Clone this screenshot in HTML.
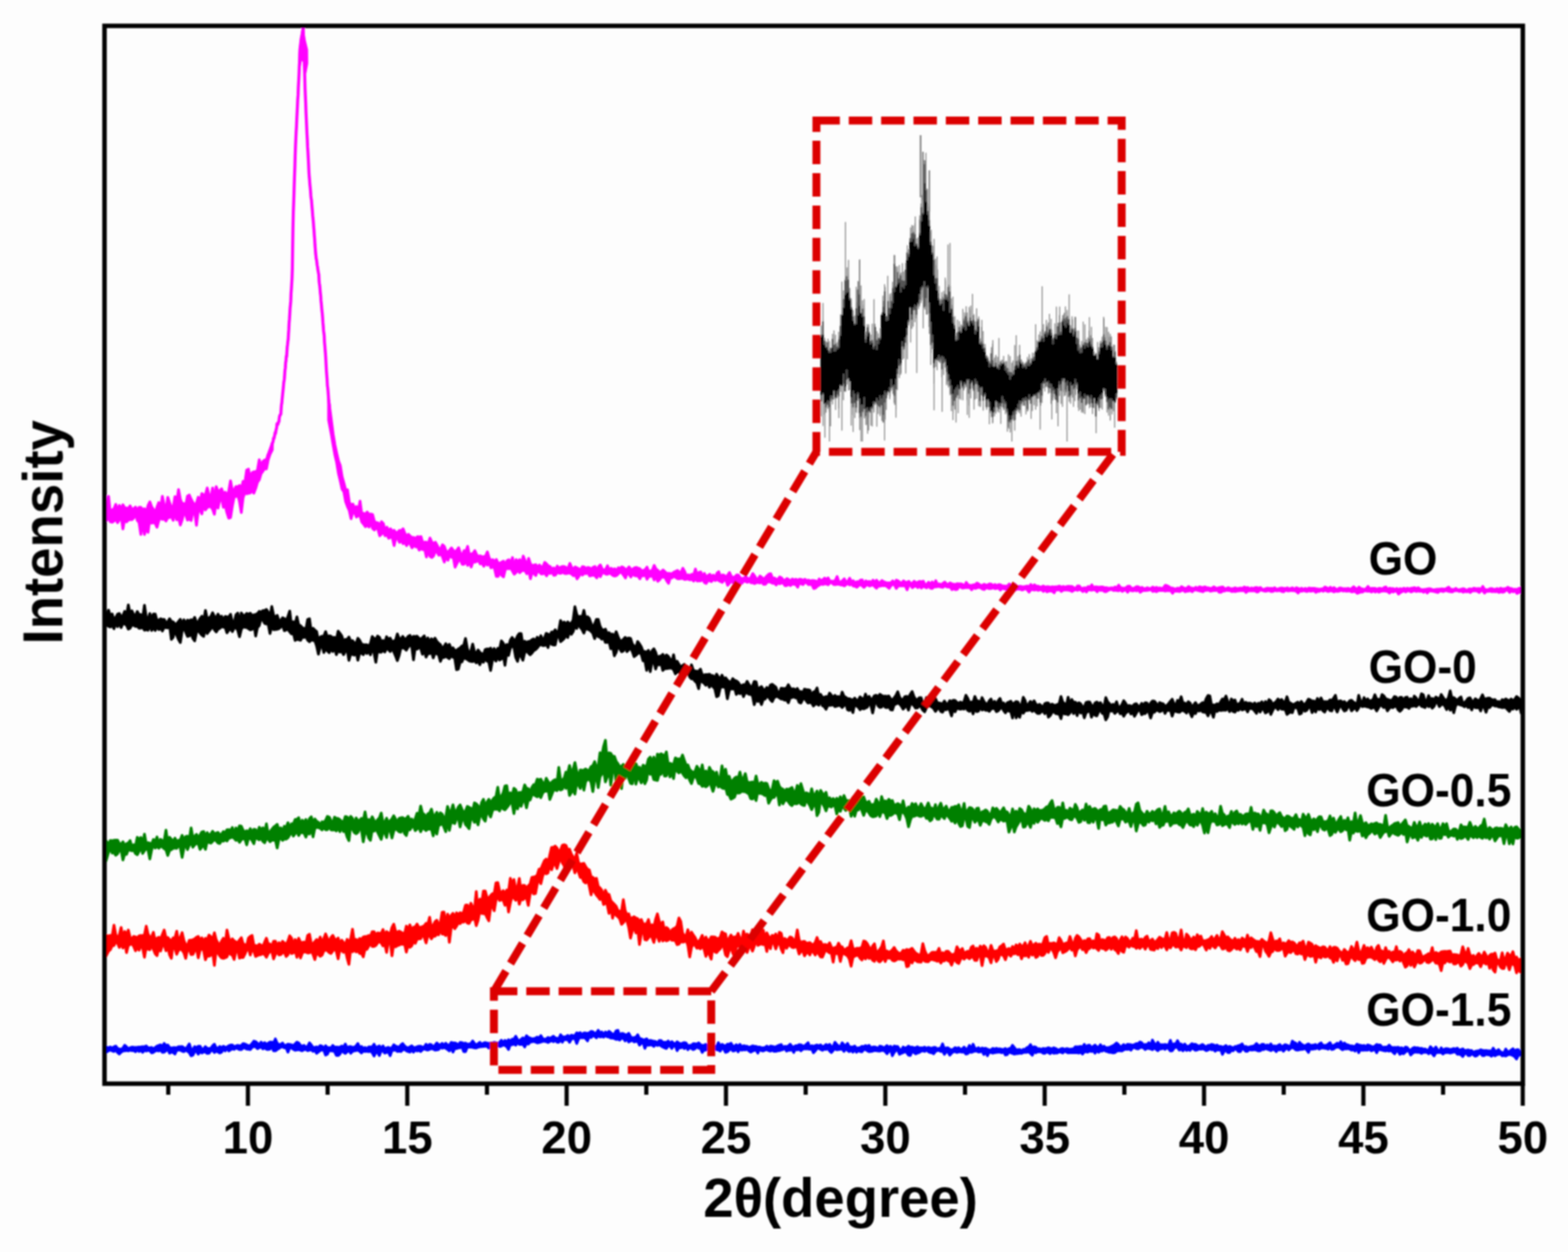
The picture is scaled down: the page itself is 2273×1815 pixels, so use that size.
<!DOCTYPE html>
<html><head><meta charset="utf-8"><title>XRD patterns</title>
<style>html,body{margin:0;padding:0;background:#fdfdfd;}svg{display:block;}</style>
</head><body>
<svg width="2273" height="1815" viewBox="0 0 2273 1815">
<defs><filter id="bl" filterUnits="userSpaceOnUse" x="0" y="0" width="2273" height="1815"><feGaussianBlur stdDeviation="0.80"/></filter></defs>
<rect x="0" y="0" width="2273" height="1815" fill="#fdfdfd"/>
<g filter="url(#bl)">
<g fill="none" stroke-linejoin="round" stroke-linecap="round">
<path d="M153.5,742.9L157.4,719.6L160.0,744.9L162.6,739.1L165.2,737.8L167.8,731.2L170.4,741.5L173.0,732.7L175.6,738.9L178.2,731.8L180.8,736.5L183.4,736.4L186.0,737.3L188.6,733.4L191.2,738.8L193.8,737.4L196.4,735.2L199.0,740.5L201.6,735.5L204.2,735.6L206.8,738.9L209.4,737.5L212.0,744.2L214.6,732.9L217.2,727.5L219.8,734.7L222.4,738.3L225.0,744.1L227.6,735.1L230.2,728.5L232.8,736.6L235.4,719.6L238.0,732.2L240.6,739.2L243.2,721.0L245.8,728.4L248.4,735.1L251.0,736.5L253.6,720.0L256.2,727.8L258.8,709.7L261.4,723.7L264.0,730.2L266.6,729.9L269.2,732.8L271.8,719.2L274.4,717.7L277.0,723.7L279.6,728.5L282.2,732.2L284.8,729.4L287.4,720.8L290.0,727.8L292.6,715.5L295.2,717.8L297.8,717.3L300.4,707.4L303.0,718.2L305.6,721.9L308.2,707.4L310.8,725.7L313.4,705.4L316.0,712.4L318.6,711.3L321.2,708.5L323.8,716.6L326.4,713.6L329.0,718.5L331.6,712.2L334.2,697.1L336.8,711.4L339.4,710.2L342.0,705.5L344.6,705.8L347.2,703.9L349.8,709.3L352.4,697.8L355.0,699.8L357.6,681.6L360.2,680.2L362.8,696.2L365.4,685.3L368.0,684.0L370.6,683.8L373.2,681.9L375.8,666.5L378.4,677.1L381.0,669.1L383.6,667.0L386.2,666.4L388.8,658.7L391.4,651.8L394.7,642.5L394.7,652.0L391.4,658.7L388.8,666.4L386.2,679.7L383.6,679.2L381.0,683.3L378.4,686.7L375.8,695.6L373.2,699.1L370.6,708.1L368.0,714.9L365.4,710.3L362.8,714.6L360.2,715.1L357.6,715.7L355.0,714.4L352.4,721.2L349.8,743.0L347.2,727.1L344.6,717.4L342.0,719.7L339.4,720.3L336.8,733.7L334.2,750.3L331.6,751.2L329.0,743.2L326.4,732.4L323.8,735.3L321.2,721.0L318.6,724.5L316.0,736.5L313.4,726.5L310.8,745.6L308.2,738.1L305.6,734.6L303.0,734.5L300.4,735.8L297.8,739.1L295.2,730.6L292.6,745.0L290.0,739.0L287.4,740.0L284.8,761.4L282.2,741.9L279.6,742.2L277.0,754.5L274.4,752.0L271.8,753.8L269.2,746.1L266.6,743.1L264.0,753.5L261.4,761.1L258.8,750.3L256.2,753.5L253.6,740.7L251.0,754.3L248.4,748.4L245.8,750.2L243.2,750.4L240.6,755.3L238.0,752.0L235.4,753.0L232.8,750.1L230.2,754.8L227.6,764.3L225.0,758.6L222.4,757.5L219.8,758.4L217.2,752.0L214.6,771.7L212.0,764.2L209.4,774.8L206.8,754.9L204.2,774.7L201.6,757.4L199.0,754.3L196.4,743.1L193.8,750.9L191.2,753.2L188.6,753.2L186.0,753.9L183.4,756.5L180.8,751.6L178.2,766.7L175.6,748.2L173.0,753.4L170.4,757.7L167.8,752.3L165.2,755.3L162.6,757.1L160.0,756.3L157.4,750.6L153.5,755.3Z" stroke="#ff00ff" fill="#ff00ff" stroke-width="4.0"/>
<path d="M388.2,663.8L388.7,659.2L389.1,661.6L389.6,661.6L390.0,659.1L390.5,655.6L391.0,654.2L391.4,654.1L391.9,652.5L392.4,651.8L392.8,652.0L393.3,649.9L393.7,648.8L394.2,645.2L394.7,642.5L395.1,642.1L395.6,641.1L396.0,638.8L396.5,635.2L397.0,636.2L397.4,634.9L397.9,632.1L398.4,630.3L398.8,627.1L399.3,628.7L399.7,626.5L400.2,623.1L400.7,621.7L401.1,619.5L401.6,614.3L402.1,616.3L402.5,614.6L403.0,614.9L403.4,613.0L403.9,611.2L404.4,611.3L404.8,606.4L405.3,603.6L405.8,601.7L406.2,601.8L406.7,600.7L407.1,600.3L407.6,592.0L408.1,585.9L408.5,584.9L409.0,578.5L409.4,574.7L409.9,569.7L410.4,564.9L410.8,561.1L411.3,554.9L411.8,551.9L412.2,549.5L412.7,542.6L413.1,536.7L413.6,533.5L414.1,525.0L414.5,524.0L415.0,516.5L415.5,517.2L415.9,510.3L416.4,502.7L416.8,500.0L417.3,495.0L417.8,491.7L418.2,484.1L418.7,477.2L419.1,468.2L419.6,462.5L420.1,454.5L420.5,446.9L421.0,442.0L421.5,436.4L421.9,425.4L422.4,419.0L422.8,412.2L423.3,403.8L423.8,389.2L424.2,360.6L424.7,330.0L425.2,307.5L425.6,296.8L426.1,282.4L426.5,268.5L427.0,253.7L427.5,240.7L427.9,225.0L428.4,211.1L428.9,200.0L429.3,191.1L429.8,183.3L430.2,173.2L430.7,163.2L431.2,153.2L431.6,144.1L432.1,137.9L432.5,126.1L433.0,117.3L433.5,107.2L433.9,95.7L434.4,87.2L434.9,76.4L435.3,72.3L435.8,68.4L436.2,64.4L436.7,58.8L437.2,57.3L437.6,53.7L438.1,48.9L438.6,44.9L439.0,44.2L439.5,40.5L439.9,52.7L440.4,63.3L440.9,77.6L441.3,96.4L441.8,111.9L442.2,128.0L442.7,139.7L443.2,150.8L443.6,163.1L444.1,173.6L444.6,184.6L445.0,194.0L445.5,202.5L445.9,212.9L446.4,220.1L446.9,229.5L447.3,237.4L447.8,248.8L448.3,256.3L448.7,260.3L449.2,267.6L449.6,271.0L450.1,276.4L450.6,283.7L451.0,287.6L451.5,289.9L452.0,296.7L452.4,301.2L452.9,306.9L453.3,312.5L453.8,317.3L454.3,322.7L454.7,328.5L455.2,334.0L455.6,340.6L456.1,346.0L456.6,355.0L457.0,359.9L457.5,367.1L458.0,371.0L458.4,375.3L458.9,376.7L459.3,380.1L459.8,384.8L460.3,386.5L460.7,390.4L461.2,393.0L461.7,396.2L462.1,397.4L462.6,407.8L463.0,411.1L463.5,414.2L464.0,419.9L464.4,425.1L464.9,428.7L465.3,435.7L465.8,440.2L466.3,446.4L466.7,450.5L467.2,454.8L467.7,461.2L468.1,467.4L468.6,473.0L469.0,479.2L469.5,482.7L470.0,486.8L470.4,496.1L470.9,501.2L471.4,508.3L471.8,512.6L472.3,520.7L472.7,528.4L473.2,537.6L473.7,544.2L474.1,549.0L474.6,559.0L475.1,562.0L475.5,566.3L476.0,573.0L476.4,579.0L476.9,584.1L477.4,587.0L477.8,597.0L478.3,600.1L478.7,604.2L479.2,611.7L479.7,617.9L480.1,621.6L480.6,623.3L481.1,624.1L481.5,628.7L482.0,631.1" stroke="#ff00ff" fill="none" stroke-width="4.4"/>
<path d="M476.4,579.0L480.3,608.9L482.9,629.3L485.5,644.8L488.1,657.1L490.7,668.3L493.3,675.0L495.9,691.1L498.5,700.3L501.1,710.4L503.7,710.0L506.3,728.1L508.9,732.2L511.5,730.8L514.1,736.9L516.7,734.3L519.3,740.5L521.9,726.5L524.5,746.3L527.1,744.1L529.7,745.7L532.3,742.3L534.9,746.0L537.5,745.3L540.1,745.9L542.7,755.8L545.3,757.6L547.9,757.9L550.5,763.2L553.1,756.3L555.7,759.1L558.3,769.7L560.9,764.4L563.5,769.1L566.1,766.6L568.7,770.2L571.3,768.9L573.9,772.2L576.5,771.8L579.1,768.9L581.7,769.4L584.3,766.6L586.9,773.2L589.5,777.5L592.1,774.6L594.7,777.3L597.3,779.3L599.9,779.2L602.5,781.1L605.1,778.1L607.7,778.4L610.3,778.1L612.9,787.3L615.5,786.1L618.1,786.1L620.7,788.5L623.3,780.0L625.9,785.9L628.5,787.8L631.1,786.1L633.7,790.5L636.3,795.9L638.9,795.4L641.5,789.8L644.1,792.3L646.7,799.3L649.3,800.6L651.9,797.5L654.5,794.4L657.1,797.9L659.7,800.8L662.3,797.6L664.9,794.0L667.5,802.6L670.1,805.0L672.7,798.3L675.3,799.2L677.9,792.1L680.5,805.5L683.1,802.9L685.7,802.5L688.3,798.3L690.9,804.1L693.5,806.9L696.1,805.7L698.7,807.2L701.3,807.0L703.9,806.0L706.5,800.1L709.1,808.8L711.7,813.1L714.3,811.3L716.9,814.5L719.5,811.1L722.1,816.6L724.7,816.5L727.3,814.8L729.9,813.6L732.5,819.0L735.1,812.8L737.7,811.6L740.3,817.1L742.9,808.3L745.5,823.0L748.1,811.3L750.7,814.4L753.3,811.3L755.9,819.0L758.5,806.1L761.1,812.8L763.7,820.2L766.3,809.5L768.9,817.3L771.5,820.6L774.1,819.1L776.7,818.6L779.3,822.4L781.9,819.2L784.5,821.7L787.1,821.8L789.7,815.3L792.3,817.6L794.9,820.3L797.5,821.3L800.1,825.1L802.7,823.4L805.3,826.1L807.9,820.7L810.5,824.1L813.1,822.1L815.7,821.2L818.3,821.6L820.9,823.1L823.5,824.0L826.1,816.7L828.7,822.7L831.3,824.8L833.9,821.9L836.5,823.3L839.1,824.8L841.7,825.7L844.3,821.6L846.9,822.0L849.5,824.6L852.1,822.6L854.7,823.3L857.3,825.4L859.9,822.3L862.5,821.4L865.1,826.8L867.7,821.7L870.3,819.0L872.9,824.8L875.5,826.9L878.1,825.1L880.7,820.2L883.3,827.5L885.9,823.9L888.5,825.9L891.1,824.6L893.7,827.8L896.3,823.1L898.9,824.1L901.5,821.7L904.1,823.0L906.7,825.9L909.3,825.0L911.9,821.9L914.5,825.5L917.1,825.2L919.7,823.3L922.3,822.6L924.9,823.7L927.5,824.5L930.1,827.6L932.7,827.0L935.3,825.8L937.9,822.2L940.5,828.9L943.1,827.8L945.7,826.5L948.3,819.7L950.9,824.8L953.5,826.8L956.1,829.9L958.7,828.8L961.3,826.3L963.9,828.9L966.5,831.5L969.1,831.2L971.7,831.6L974.3,831.8L976.9,829.5L979.5,828.3L982.1,827.0L984.7,829.4L987.3,829.6L989.9,823.9L992.5,828.5L995.1,835.4L997.7,833.2L1000.3,835.0L1002.9,832.5L1005.5,833.8L1008.1,825.0L1010.7,834.2L1013.3,829.8L1015.9,829.2L1018.5,836.5L1021.1,831.3L1023.7,836.6L1026.3,834.6L1028.9,832.5L1031.5,836.0L1034.1,833.8L1036.7,838.2L1039.3,831.1L1041.9,828.9L1044.5,836.5L1047.1,833.5L1049.7,833.9L1052.3,837.2L1054.9,833.8L1057.5,830.0L1060.1,835.7L1062.7,837.0L1065.3,836.6L1067.9,833.4L1070.5,833.8L1073.1,837.7L1075.7,838.9L1078.3,838.1L1080.9,836.6L1083.5,838.0L1086.1,840.1L1088.7,836.7L1091.3,831.5L1093.9,835.1L1096.5,839.5L1099.1,839.3L1101.7,835.2L1104.3,837.1L1106.9,839.8L1109.5,837.6L1112.1,834.6L1114.7,832.2L1117.3,831.7L1119.9,838.4L1122.5,837.9L1125.1,839.8L1127.7,839.7L1130.3,836.4L1132.9,837.8L1135.5,841.0L1138.1,841.5L1140.7,838.8L1143.3,840.2L1145.9,842.7L1148.5,839.4L1151.1,840.8L1153.7,839.8L1156.3,841.4L1158.9,839.8L1161.5,840.1L1164.1,841.5L1166.7,839.8L1169.3,842.1L1171.9,841.0L1174.5,842.2L1177.1,841.6L1179.7,841.8L1182.3,842.2L1184.9,844.7L1187.5,839.4L1190.1,841.7L1192.7,840.6L1195.3,838.1L1197.9,840.1L1200.5,837.9L1203.1,842.6L1205.7,842.5L1208.3,843.0L1210.9,841.3L1213.5,835.9L1216.1,843.7L1218.7,843.9L1221.3,841.8L1223.9,839.1L1226.5,844.3L1229.1,842.7L1231.7,838.3L1234.3,843.5L1236.9,841.9L1239.5,845.1L1242.1,843.3L1244.7,843.8L1247.3,841.0L1249.9,840.8L1252.5,846.7L1255.1,842.2L1257.7,843.6L1260.3,842.9L1262.9,844.7L1265.5,841.1L1268.1,844.0L1270.7,841.2L1273.3,844.5L1275.9,844.3L1278.5,841.6L1281.1,843.3L1283.7,844.3L1286.3,845.2L1288.9,844.9L1291.5,844.9L1294.1,842.1L1296.7,846.1L1299.3,841.1L1301.9,842.2L1304.5,844.4L1307.1,845.2L1309.7,842.2L1312.3,844.2L1314.9,844.2L1317.5,842.9L1320.1,845.8L1322.7,845.4L1325.3,842.7L1327.9,845.1L1330.5,844.0L1333.1,842.8L1335.7,843.6L1338.3,842.5L1340.9,847.8L1343.5,847.1L1346.1,844.0L1348.7,846.9L1351.3,843.7L1353.9,847.8L1356.5,841.8L1359.1,847.7L1361.7,846.4L1364.3,848.2L1366.9,845.6L1369.5,843.9L1372.1,846.7L1374.7,847.3L1377.3,845.0L1379.9,846.4L1382.5,847.0L1385.1,847.3L1387.7,846.2L1390.3,846.5L1392.9,846.4L1395.5,847.4L1398.1,849.8L1400.7,844.4L1403.3,848.0L1405.9,848.6L1408.5,848.9L1411.1,847.8L1413.7,847.8L1416.3,845.3L1418.9,846.8L1421.5,848.9L1424.1,848.5L1426.7,847.1L1429.3,848.3L1431.9,847.9L1434.5,846.4L1437.1,846.9L1439.7,849.5L1442.3,847.3L1444.9,849.4L1447.5,847.5L1450.1,847.7L1452.7,849.4L1455.3,849.4L1457.9,850.0L1460.5,849.4L1463.1,846.6L1465.7,849.8L1468.3,851.7L1470.9,846.9L1473.5,850.0L1476.1,850.6L1478.7,849.9L1481.3,850.5L1483.9,850.7L1486.5,850.2L1489.1,849.6L1491.7,851.1L1494.3,847.3L1496.9,851.2L1499.5,847.8L1502.1,849.9L1504.7,849.7L1507.3,851.1L1509.9,851.0L1512.5,849.6L1515.1,851.2L1517.7,850.6L1520.3,850.7L1522.9,851.7L1525.5,850.6L1528.1,851.1L1530.7,850.8L1533.3,850.5L1535.9,849.7L1538.5,851.5L1541.1,850.2L1543.7,851.3L1546.3,850.5L1548.9,850.1L1551.5,850.2L1554.1,850.3L1556.7,852.2L1559.3,853.3L1561.9,849.6L1564.5,849.5L1567.1,853.2L1569.7,852.7L1572.3,852.2L1574.9,852.8L1577.5,850.4L1580.1,851.7L1582.7,847.8L1585.3,852.6L1587.9,850.7L1590.5,851.1L1593.1,851.5L1595.7,851.0L1598.3,850.9L1600.9,852.0L1603.5,852.0L1606.1,852.4L1608.7,852.7L1611.3,852.1L1613.9,852.6L1616.5,851.0L1619.1,852.4L1621.7,848.3L1624.3,852.0L1626.9,852.4L1629.5,852.9L1632.1,852.2L1634.7,850.0L1637.3,849.7L1639.9,852.5L1642.5,853.2L1645.1,852.0L1647.7,850.6L1650.3,850.8L1652.9,853.1L1655.5,851.6L1658.1,853.4L1660.7,853.2L1663.3,852.1L1665.9,853.5L1668.5,852.9L1671.1,851.1L1673.7,853.1L1676.3,851.6L1678.9,853.0L1681.5,852.3L1684.1,853.1L1686.7,852.0L1689.3,848.4L1691.9,849.2L1694.5,850.6L1697.1,852.6L1699.7,852.4L1702.3,853.8L1704.9,853.7L1707.5,852.6L1710.1,853.8L1712.7,850.5L1715.3,852.0L1717.9,853.1L1720.5,852.8L1723.1,850.3L1725.7,852.4L1728.3,852.6L1730.9,853.1L1733.5,851.4L1736.1,853.4L1738.7,850.7L1741.3,851.4L1743.9,851.8L1746.5,850.8L1749.1,851.9L1751.7,852.2L1754.3,853.2L1756.9,852.6L1759.5,850.8L1762.1,852.4L1764.7,852.8L1767.3,852.0L1769.9,851.4L1772.5,850.9L1775.1,853.5L1777.7,853.5L1780.3,851.9L1782.9,853.1L1785.5,853.8L1788.1,853.3L1790.7,852.2L1793.3,853.7L1795.9,852.9L1798.5,852.5L1801.1,853.1L1803.7,851.0L1806.3,852.2L1808.9,851.8L1811.5,854.1L1814.1,852.3L1816.7,853.3L1819.3,852.0L1821.9,851.8L1824.5,852.9L1827.1,851.7L1829.7,854.2L1832.3,854.6L1834.9,853.4L1837.5,852.6L1840.1,853.2L1842.7,853.1L1845.3,853.5L1847.9,852.1L1850.5,854.5L1853.1,853.7L1855.7,852.8L1858.3,852.4L1860.9,853.1L1863.5,853.4L1866.1,852.2L1868.7,854.1L1871.3,853.0L1873.9,852.2L1876.5,855.2L1879.1,852.1L1881.7,852.9L1884.3,854.3L1886.9,852.8L1889.5,854.6L1892.1,853.1L1894.7,854.4L1897.3,852.5L1899.9,852.9L1902.5,853.0L1905.1,852.9L1907.7,853.4L1910.3,853.8L1912.9,854.7L1915.5,853.7L1918.1,853.4L1920.7,851.1L1923.3,852.2L1925.9,854.0L1928.5,851.3L1931.1,853.9L1933.7,851.9L1936.3,853.8L1938.9,854.7L1941.5,852.5L1944.1,852.6L1946.7,853.6L1949.3,853.6L1951.9,853.6L1954.5,853.0L1957.1,854.4L1959.7,852.9L1962.3,850.7L1964.9,853.0L1967.5,854.0L1970.1,851.2L1972.7,853.4L1975.3,853.8L1977.9,855.1L1980.5,853.2L1983.1,850.2L1985.7,853.8L1988.3,853.0L1990.9,853.0L1993.5,853.1L1996.1,854.4L1998.7,853.0L2001.3,853.1L2003.9,854.1L2006.5,851.6L2009.1,851.0L2011.7,855.2L2014.3,852.8L2016.9,853.4L2019.5,853.3L2022.1,854.9L2024.7,853.1L2027.3,854.7L2029.9,853.4L2032.5,854.4L2035.1,852.7L2037.7,854.3L2040.3,852.8L2042.9,853.8L2045.5,852.8L2048.1,852.5L2050.7,851.9L2053.3,853.4L2055.9,852.0L2058.5,854.1L2061.1,854.9L2063.7,854.7L2066.3,854.6L2068.9,853.9L2071.5,853.5L2074.1,853.8L2076.7,855.0L2079.3,855.1L2081.9,854.4L2084.5,854.3L2087.1,854.3L2089.7,853.8L2092.3,854.0L2094.9,854.3L2097.5,852.8L2100.1,851.2L2102.7,854.4L2105.3,854.4L2107.9,854.8L2110.5,853.0L2113.1,855.0L2115.7,854.9L2118.3,854.3L2120.9,853.4L2123.5,854.2L2126.1,856.8L2128.7,854.3L2131.3,853.8L2133.9,854.5L2136.5,852.7L2139.1,853.6L2141.7,853.5L2144.3,853.3L2146.9,854.6L2149.5,850.2L2152.1,854.5L2154.7,854.9L2157.3,855.0L2159.9,853.4L2162.5,853.2L2165.1,854.4L2167.7,854.4L2170.3,853.3L2172.9,854.6L2175.5,852.7L2178.1,854.0L2180.7,853.6L2183.3,853.2L2185.9,851.4L2188.5,852.9L2191.1,853.3L2193.7,854.8L2196.3,854.3L2198.9,854.9L2201.5,853.1L2205.2,852.8L2205.2,857.0L2201.5,859.1L2198.9,860.3L2196.3,856.2L2193.7,857.9L2191.1,856.4L2188.5,858.8L2185.9,855.9L2183.3,855.4L2180.7,857.9L2178.1,858.6L2175.5,857.7L2172.9,858.8L2170.3,857.1L2167.7,857.8L2165.1,857.2L2162.5,857.7L2159.9,856.8L2157.3,857.3L2154.7,856.9L2152.1,859.7L2149.5,856.5L2146.9,856.0L2144.3,858.8L2141.7,857.0L2139.1,856.4L2136.5,856.6L2133.9,856.8L2131.3,858.9L2128.7,857.1L2126.1,857.9L2123.5,857.1L2120.9,858.4L2118.3,856.6L2115.7,857.4L2113.1,856.3L2110.5,856.3L2107.9,856.4L2105.3,857.9L2102.7,857.7L2100.1,857.3L2097.5,856.3L2094.9,856.2L2092.3,857.6L2089.7,856.8L2087.1,856.5L2084.5,858.9L2081.9,858.3L2079.3,857.4L2076.7,857.0L2074.1,856.5L2071.5,856.7L2068.9,859.6L2066.3,856.2L2063.7,858.5L2061.1,856.8L2058.5,857.3L2055.9,856.4L2053.3,857.4L2050.7,856.4L2048.1,856.9L2045.5,858.1L2042.9,856.6L2040.3,856.5L2037.7,858.1L2035.1,856.3L2032.5,857.6L2029.9,858.9L2027.3,861.1L2024.7,856.8L2022.1,857.0L2019.5,858.2L2016.9,857.1L2014.3,859.7L2011.7,857.4L2009.1,857.0L2006.5,856.5L2003.9,856.7L2001.3,857.3L1998.7,858.4L1996.1,856.4L1993.5,858.3L1990.9,856.2L1988.3,858.2L1985.7,856.8L1983.1,856.9L1980.5,856.7L1977.9,856.1L1975.3,858.2L1972.7,858.2L1970.1,859.1L1967.5,860.0L1964.9,857.5L1962.3,857.3L1959.7,858.1L1957.1,856.8L1954.5,856.5L1951.9,857.0L1949.3,856.2L1946.7,856.7L1944.1,855.5L1941.5,856.9L1938.9,857.4L1936.3,856.8L1933.7,857.9L1931.1,856.6L1928.5,856.5L1925.9,857.5L1923.3,856.8L1920.7,855.3L1918.1,857.2L1915.5,855.5L1912.9,857.2L1910.3,857.0L1907.7,858.6L1905.1,856.4L1902.5,856.5L1899.9,857.0L1897.3,856.4L1894.7,857.5L1892.1,856.9L1889.5,856.1L1886.9,857.0L1884.3,856.5L1881.7,859.6L1879.1,857.2L1876.5,856.3L1873.9,856.2L1871.3,855.9L1868.7,856.6L1866.1,856.4L1863.5,855.2L1860.9,857.7L1858.3,857.5L1855.7,856.1L1853.1,856.2L1850.5,856.6L1847.9,855.5L1845.3,857.3L1842.7,857.6L1840.1,856.0L1837.5,856.3L1834.9,857.0L1832.3,856.7L1829.7,855.9L1827.1,854.7L1824.5,857.5L1821.9,858.2L1819.3,856.5L1816.7,856.6L1814.1,856.5L1811.5,856.5L1808.9,856.6L1806.3,858.8L1803.7,856.0L1801.1,856.2L1798.5,856.0L1795.9,856.4L1793.3,856.7L1790.7,857.6L1788.1,857.1L1785.5,857.4L1782.9,855.9L1780.3,855.9L1777.7,855.6L1775.1,856.7L1772.5,856.4L1769.9,858.6L1767.3,858.5L1764.7,855.1L1762.1,856.0L1759.5,856.0L1756.9,856.5L1754.3,856.9L1751.7,855.2L1749.1,855.7L1746.5,855.6L1743.9,857.7L1741.3,857.1L1738.7,856.5L1736.1,855.9L1733.5,855.1L1730.9,855.4L1728.3,857.8L1725.7,855.9L1723.1,856.8L1720.5,857.1L1717.9,857.8L1715.3,855.3L1712.7,856.2L1710.1,857.5L1707.5,857.1L1704.9,857.0L1702.3,856.5L1699.7,860.0L1697.1,855.9L1694.5,856.4L1691.9,856.1L1689.3,856.8L1686.7,856.0L1684.1,855.9L1681.5,856.1L1678.9,856.2L1676.3,857.7L1673.7,856.4L1671.1,857.4L1668.5,854.5L1665.9,855.3L1663.3,855.7L1660.7,855.9L1658.1,855.8L1655.5,856.7L1652.9,858.5L1650.3,854.9L1647.7,856.6L1645.1,855.4L1642.5,856.6L1639.9,856.3L1637.3,854.4L1634.7,858.5L1632.1,855.3L1629.5,855.6L1626.9,857.3L1624.3,854.8L1621.7,856.4L1619.1,856.1L1616.5,855.6L1613.9,855.9L1611.3,854.3L1608.7,854.9L1606.1,856.0L1603.5,857.7L1600.9,857.5L1598.3,855.4L1595.7,855.9L1593.1,854.7L1590.5,857.8L1587.9,855.3L1585.3,854.7L1582.7,855.5L1580.1,855.2L1577.5,854.5L1574.9,858.1L1572.3,855.0L1569.7,857.6L1567.1,855.3L1564.5,854.3L1561.9,855.8L1559.3,854.6L1556.7,855.6L1554.1,857.5L1551.5,855.9L1548.9,855.5L1546.3,855.3L1543.7,855.3L1541.1,855.5L1538.5,857.4L1535.9,854.4L1533.3,855.3L1530.7,854.2L1528.1,859.3L1525.5,857.1L1522.9,856.5L1520.3,856.9L1517.7,858.0L1515.1,854.6L1512.5,857.4L1509.9,854.9L1507.3,855.1L1504.7,855.8L1502.1,854.5L1499.5,855.4L1496.9,854.7L1494.3,854.5L1491.7,858.3L1489.1,855.0L1486.5,853.0L1483.9,854.5L1481.3,855.2L1478.7,854.0L1476.1,854.1L1473.5,854.1L1470.9,855.8L1468.3,855.0L1465.7,853.3L1463.1,855.0L1460.5,851.6L1457.9,854.0L1455.3,853.5L1452.7,852.6L1450.1,855.4L1447.5,852.4L1444.9,852.9L1442.3,853.3L1439.7,852.0L1437.1,852.9L1434.5,853.3L1431.9,852.6L1429.3,852.0L1426.7,854.6L1424.1,853.9L1421.5,852.2L1418.9,851.2L1416.3,852.2L1413.7,853.0L1411.1,851.8L1408.5,854.9L1405.9,851.8L1403.3,851.8L1400.7,851.6L1398.1,852.1L1395.5,852.6L1392.9,851.3L1390.3,850.0L1387.7,854.3L1385.1,854.7L1382.5,853.3L1379.9,854.7L1377.3,850.5L1374.7,851.0L1372.1,850.6L1369.5,848.7L1366.9,851.5L1364.3,851.1L1361.7,850.1L1359.1,850.2L1356.5,850.8L1353.9,850.7L1351.3,853.1L1348.7,852.6L1346.1,848.7L1343.5,852.1L1340.9,851.1L1338.3,849.7L1335.7,852.5L1333.1,849.3L1330.5,851.9L1327.9,849.5L1325.3,850.0L1322.7,852.0L1320.1,848.5L1317.5,848.1L1314.9,855.0L1312.3,849.0L1309.7,849.2L1307.1,848.9L1304.5,849.2L1301.9,849.6L1299.3,853.0L1296.7,847.9L1294.1,847.2L1291.5,848.9L1288.9,852.8L1286.3,850.7L1283.7,848.9L1281.1,848.9L1278.5,848.9L1275.9,849.7L1273.3,849.2L1270.7,852.6L1268.1,850.5L1265.5,847.4L1262.9,848.7L1260.3,849.5L1257.7,847.4L1255.1,848.6L1252.5,851.5L1249.9,849.2L1247.3,847.1L1244.7,849.0L1242.1,851.2L1239.5,849.7L1236.9,849.4L1234.3,846.4L1231.7,848.0L1229.1,845.9L1226.5,847.3L1223.9,849.3L1221.3,848.1L1218.7,847.9L1216.1,846.9L1213.5,846.9L1210.9,847.5L1208.3,847.2L1205.7,844.5L1203.1,844.8L1200.5,847.6L1197.9,846.5L1195.3,846.2L1192.7,847.3L1190.1,846.4L1187.5,848.3L1184.9,849.7L1182.3,852.3L1179.7,853.1L1177.1,847.8L1174.5,847.0L1171.9,847.4L1169.3,844.8L1166.7,844.3L1164.1,847.4L1161.5,846.4L1158.9,844.2L1156.3,851.2L1153.7,847.4L1151.1,847.0L1148.5,846.5L1145.9,848.9L1143.3,846.9L1140.7,848.7L1138.1,849.1L1135.5,845.6L1132.9,844.9L1130.3,846.3L1127.7,844.6L1125.1,847.9L1122.5,845.4L1119.9,845.6L1117.3,844.0L1114.7,843.3L1112.1,843.9L1109.5,847.1L1106.9,847.1L1104.3,843.3L1101.7,845.2L1099.1,844.4L1096.5,844.5L1093.9,845.9L1091.3,844.8L1088.7,844.8L1086.1,842.0L1083.5,844.1L1080.9,843.0L1078.3,841.9L1075.7,845.4L1073.1,843.7L1070.5,842.2L1067.9,841.3L1065.3,841.7L1062.7,844.7L1060.1,842.1L1057.5,845.5L1054.9,848.5L1052.3,841.1L1049.7,840.5L1047.1,844.2L1044.5,842.9L1041.9,841.6L1039.3,840.1L1036.7,841.6L1034.1,839.1L1031.5,843.0L1028.9,842.2L1026.3,841.1L1023.7,845.7L1021.1,844.4L1018.5,839.1L1015.9,841.9L1013.3,842.1L1010.7,842.2L1008.1,839.1L1005.5,842.3L1002.9,839.5L1000.3,840.6L997.7,839.3L995.1,839.6L992.5,840.1L989.9,838.4L987.3,838.5L984.7,838.9L982.1,838.9L979.5,837.2L976.9,834.7L974.3,837.7L971.7,837.3L969.1,845.6L966.5,841.9L963.9,836.8L961.3,836.6L958.7,836.7L956.1,840.5L953.5,842.6L950.9,835.7L948.3,840.7L945.7,833.9L943.1,835.5L940.5,835.5L937.9,839.7L935.3,832.4L932.7,834.8L930.1,833.8L927.5,839.0L924.9,835.0L922.3,834.8L919.7,834.2L917.1,830.7L914.5,836.4L911.9,832.7L909.3,829.8L906.7,837.9L904.1,833.9L901.5,830.6L898.9,829.1L896.3,831.8L893.7,834.4L891.1,835.1L888.5,834.1L885.9,831.9L883.3,830.8L880.7,832.4L878.1,832.2L875.5,830.4L872.9,830.6L870.3,835.9L867.7,831.5L865.1,837.8L862.5,834.5L859.9,833.6L857.3,834.3L854.7,834.9L852.1,829.4L849.5,831.6L846.9,831.0L844.3,833.6L841.7,830.7L839.1,835.6L836.5,839.1L833.9,832.8L831.3,834.6L828.7,832.2L826.1,830.7L823.5,830.8L820.9,831.6L818.3,831.3L815.7,828.9L813.1,831.1L810.5,830.9L807.9,829.1L805.3,833.6L802.7,833.9L800.1,828.9L797.5,831.4L794.9,829.8L792.3,834.7L789.7,830.6L787.1,831.8L784.5,831.9L781.9,829.3L779.3,826.9L776.7,834.3L774.1,831.4L771.5,829.4L768.9,838.9L766.3,824.9L763.7,831.8L761.1,827.5L758.5,826.6L755.9,827.8L753.3,830.2L750.7,825.9L748.1,829.8L745.5,832.4L742.9,828.0L740.3,823.3L737.7,824.5L735.1,823.8L732.5,825.6L729.9,836.3L727.3,834.2L724.7,827.9L722.1,835.5L719.5,835.5L716.9,824.3L714.3,821.2L711.7,823.1L709.1,816.0L706.5,819.1L703.9,815.6L701.3,820.8L698.7,816.1L696.1,817.5L693.5,811.8L690.9,814.0L688.3,815.0L685.7,813.9L683.1,822.0L680.5,814.7L677.9,819.6L675.3,812.6L672.7,817.9L670.1,817.9L667.5,811.9L664.9,812.2L662.3,816.8L659.7,822.1L657.1,807.7L654.5,807.9L651.9,804.5L649.3,812.1L646.7,804.5L644.1,814.8L641.5,807.4L638.9,802.5L636.3,804.9L633.7,800.7L631.1,798.5L628.5,805.7L625.9,808.2L623.3,806.5L620.7,797.5L618.1,807.4L615.5,795.5L612.9,796.8L610.3,795.1L607.7,797.4L605.1,792.0L602.5,792.7L599.9,790.1L597.3,794.1L594.7,788.9L592.1,786.1L589.5,790.9L586.9,786.3L584.3,788.1L581.7,783.7L579.1,786.2L576.5,780.4L573.9,779.4L571.3,790.9L568.7,778.9L566.1,778.8L563.5,780.3L560.9,774.9L558.3,776.6L555.7,770.5L553.1,774.0L550.5,776.7L547.9,767.4L545.3,765.0L542.7,768.2L540.1,765.9L537.5,757.3L534.9,763.9L532.3,761.3L529.7,763.4L527.1,759.8L524.5,756.7L521.9,748.0L519.3,747.5L516.7,749.5L514.1,742.7L511.5,742.4L508.9,751.9L506.3,740.0L503.7,734.3L501.1,727.4L498.5,712.8L495.9,709.2L493.3,697.3L490.7,686.6L488.1,670.6L485.5,659.5L482.9,644.8L480.3,629.3L476.4,608.9Z" stroke="#ff00ff" fill="#ff00ff" stroke-width="4.0"/>
<path d="M153.5,893.8L157.4,884.5L160.0,893.5L162.6,890.0L165.2,899.1L167.8,895.2L170.4,890.4L173.0,889.5L175.6,894.4L178.2,892.4L180.8,886.3L183.4,893.5L186.0,877.0L188.6,889.9L191.2,885.5L193.8,891.0L196.4,892.7L199.0,886.6L201.6,891.1L204.2,891.1L206.8,896.7L209.4,877.4L212.0,894.8L214.6,898.2L217.2,889.5L219.8,897.5L222.4,890.3L225.0,890.2L227.6,899.8L230.2,899.0L232.8,897.1L235.4,898.2L238.0,898.1L240.6,902.7L243.2,901.5L245.8,897.0L248.4,900.8L251.0,901.6L253.6,904.9L256.2,904.2L258.8,901.0L261.4,897.8L264.0,905.2L266.6,898.5L269.2,904.5L271.8,899.0L274.4,900.1L277.0,898.4L279.6,900.0L282.2,895.0L284.8,902.6L287.4,902.0L290.0,896.7L292.6,893.4L295.2,900.9L297.8,885.0L300.4,897.5L303.0,895.7L305.6,893.8L308.2,888.4L310.8,893.9L313.4,895.4L316.0,890.3L318.6,895.0L321.2,893.3L323.8,899.8L326.4,893.7L329.0,894.3L331.6,894.5L334.2,890.5L336.8,902.2L339.4,902.9L342.0,891.5L344.6,888.8L347.2,902.8L349.8,888.6L352.4,892.2L355.0,892.2L357.6,889.2L360.2,890.6L362.8,889.0L365.4,892.5L368.0,891.2L370.6,890.9L373.2,889.6L375.8,886.4L378.4,887.6L381.0,885.2L383.6,885.1L386.2,883.5L388.8,887.4L391.4,895.4L394.0,879.3L396.6,891.8L399.2,894.6L401.8,892.2L404.4,900.2L407.0,899.3L409.6,895.6L412.2,896.8L414.8,899.5L417.4,893.9L420.0,886.0L422.6,907.6L425.2,901.3L427.8,904.8L430.4,894.3L433.0,905.9L435.6,907.1L438.2,910.1L440.8,911.0L443.4,912.8L446.0,898.0L448.6,897.0L451.2,915.9L453.8,910.8L456.4,913.5L459.0,915.6L461.6,929.5L464.2,923.6L466.8,922.4L469.4,922.4L472.0,915.7L474.6,923.7L477.2,921.8L479.8,922.4L482.4,924.7L485.0,923.9L487.6,927.6L490.2,915.0L492.8,918.2L495.4,921.8L498.0,930.3L500.6,926.9L503.2,927.3L505.8,923.5L508.4,929.8L511.0,928.7L513.6,932.0L516.2,933.1L518.8,925.3L521.4,928.4L524.0,933.5L526.6,934.6L529.2,934.7L531.8,934.7L534.4,937.5L537.0,932.8L539.6,922.8L542.2,925.6L544.8,926.9L547.4,922.1L550.0,923.8L552.6,930.8L555.2,928.6L557.8,931.5L560.4,923.1L563.0,926.6L565.6,925.2L568.2,930.3L570.8,929.3L573.4,928.2L576.0,919.0L578.6,925.8L581.2,926.2L583.8,922.7L586.4,926.3L589.0,926.2L591.6,922.7L594.2,921.1L596.8,926.1L599.4,922.5L602.0,922.9L604.6,922.3L607.2,925.1L609.8,927.0L612.4,924.4L615.0,921.8L617.6,932.7L620.2,924.8L622.8,931.7L625.4,926.1L628.0,928.5L630.6,925.2L633.2,929.8L635.8,932.5L638.4,934.6L641.0,940.2L643.6,937.5L646.2,933.2L648.8,937.5L651.4,934.0L654.0,940.9L656.6,939.2L659.2,942.9L661.8,943.0L664.4,940.7L667.0,939.4L669.6,936.5L672.2,936.0L674.8,925.6L677.4,940.1L680.0,947.2L682.6,944.0L685.2,933.7L687.8,944.7L690.4,947.7L693.0,942.3L695.6,945.8L698.2,947.5L700.8,949.7L703.4,941.6L706.0,940.8L708.6,941.3L711.2,939.6L713.8,945.3L716.4,940.2L719.0,946.1L721.6,939.9L724.2,941.3L726.8,929.1L729.4,932.2L732.0,938.2L734.6,934.3L737.2,937.5L739.8,928.2L742.4,924.2L745.0,927.9L747.6,927.7L750.2,922.0L752.8,918.4L755.4,918.4L758.0,935.3L760.6,929.5L763.2,931.5L765.8,930.0L768.4,929.8L771.0,927.6L773.6,926.2L776.2,929.6L778.8,923.9L781.4,928.3L784.0,921.6L786.6,927.9L789.2,924.9L791.8,918.2L794.4,919.4L797.0,921.4L799.6,916.3L802.2,916.9L804.8,913.0L807.4,917.4L810.0,914.2L812.6,899.6L815.2,905.2L817.8,901.8L820.4,904.9L823.0,901.7L825.6,904.2L828.2,903.5L830.8,899.1L833.4,879.6L836.0,890.5L838.6,895.5L841.2,893.4L843.8,895.8L846.4,884.9L849.0,897.5L851.6,894.0L854.2,896.4L856.8,903.6L859.4,910.8L862.0,904.6L864.6,898.1L867.2,897.9L869.8,907.7L872.4,912.6L875.0,913.5L877.6,912.2L880.2,918.7L882.8,917.1L885.4,919.9L888.0,919.3L890.6,923.1L893.2,915.8L895.8,922.8L898.4,928.4L901.0,929.4L903.6,927.0L906.2,924.0L908.8,926.2L911.4,924.9L914.0,925.4L916.6,933.5L919.2,936.6L921.8,938.7L924.4,930.1L927.0,933.4L929.6,937.8L932.2,944.7L934.8,944.6L937.4,945.9L940.0,942.9L942.6,950.5L945.2,943.5L947.8,940.5L950.4,945.6L953.0,954.4L955.6,951.5L958.2,951.1L960.8,948.7L963.4,953.7L966.0,949.5L968.6,951.3L971.2,955.4L973.8,961.2L976.4,949.2L979.0,962.7L981.6,958.7L984.2,963.0L986.8,968.0L989.4,964.8L992.0,963.1L994.6,969.8L997.2,967.7L999.8,971.1L1002.4,963.8L1005.0,971.5L1007.6,972.7L1010.2,973.0L1012.8,973.2L1015.4,970.1L1018.0,978.8L1020.6,978.4L1023.2,978.1L1025.8,978.0L1028.4,977.4L1031.0,979.6L1033.6,979.6L1036.2,984.0L1038.8,977.3L1041.4,981.6L1044.0,984.8L1046.6,978.8L1049.2,984.6L1051.8,982.6L1054.4,985.9L1057.0,988.3L1059.6,989.1L1062.2,983.9L1064.8,986.3L1067.4,987.2L1070.0,989.1L1072.6,993.1L1075.2,994.3L1077.8,992.5L1080.4,993.4L1083.0,987.8L1085.6,992.2L1088.2,995.9L1090.8,994.7L1093.4,987.9L1096.0,988.4L1098.6,1000.3L1101.2,997.1L1103.8,995.3L1106.4,999.6L1109.0,1000.5L1111.6,996.7L1114.2,999.9L1116.8,993.1L1119.4,992.0L1122.0,994.1L1124.6,996.0L1127.2,1003.1L1129.8,1005.0L1132.4,997.7L1135.0,998.1L1137.6,998.4L1140.2,997.4L1142.8,992.7L1145.4,997.5L1148.0,999.1L1150.6,998.5L1153.2,1000.6L1155.8,998.1L1158.4,1002.9L1161.0,1002.4L1163.6,1005.0L1166.2,999.1L1168.8,999.7L1171.4,1000.0L1174.0,1000.6L1176.6,1009.8L1179.2,1003.1L1181.8,1002.3L1184.4,997.3L1187.0,1009.4L1189.6,1006.7L1192.2,1010.9L1194.8,1011.0L1197.4,1009.8L1200.0,1011.2L1202.6,1004.8L1205.2,1008.0L1207.8,1011.0L1210.4,1008.2L1213.0,1010.7L1215.6,1009.7L1218.2,1012.8L1220.8,1003.4L1223.4,1009.4L1226.0,1011.0L1228.6,1012.8L1231.2,1012.9L1233.8,1014.0L1236.4,1015.3L1239.0,1012.1L1241.6,1015.2L1244.2,1015.2L1246.8,1010.3L1249.4,1012.5L1252.0,1015.0L1254.6,1006.2L1257.2,1013.8L1259.8,1009.5L1262.4,1014.5L1265.0,1012.8L1267.6,1008.6L1270.2,1007.9L1272.8,1010.4L1275.4,1006.5L1278.0,1008.2L1280.6,1009.6L1283.2,1009.1L1285.8,1009.6L1288.4,1009.0L1291.0,1013.1L1293.6,1014.8L1296.2,1011.7L1298.8,1008.1L1301.4,1002.8L1304.0,1010.6L1306.6,1014.1L1309.2,1014.0L1311.8,1009.9L1314.4,1009.6L1317.0,1011.7L1319.6,1006.5L1322.2,1002.5L1324.8,1009.7L1327.4,1014.1L1330.0,1014.2L1332.6,1011.6L1335.2,1011.4L1337.8,1019.6L1340.4,1017.7L1343.0,1011.2L1345.6,1018.3L1348.2,1012.0L1350.8,1014.0L1353.4,1012.6L1356.0,1012.6L1358.6,1018.5L1361.2,1019.1L1363.8,1019.8L1366.4,1020.8L1369.0,1016.3L1371.6,1020.3L1374.2,1020.7L1376.8,1015.8L1379.4,1017.2L1382.0,1015.2L1384.6,1015.6L1387.2,1018.4L1389.8,1019.4L1392.4,1017.8L1395.0,1020.2L1397.6,1016.6L1400.2,1008.0L1402.8,1012.2L1405.4,1018.8L1408.0,1017.8L1410.6,1018.3L1413.2,1009.7L1415.8,1016.0L1418.4,1016.2L1421.0,1020.1L1423.6,1011.4L1426.2,1016.6L1428.8,1020.2L1431.4,1020.9L1434.0,1016.2L1436.6,1013.4L1439.2,1021.4L1441.8,1016.8L1444.4,1022.0L1447.0,1015.9L1449.6,1012.5L1452.2,1020.4L1454.8,1019.1L1457.4,1024.0L1460.0,1018.8L1462.6,1017.9L1465.2,1016.5L1467.8,1021.2L1470.4,1019.2L1473.0,1017.1L1475.6,1017.8L1478.2,1023.4L1480.8,1022.0L1483.4,1010.9L1486.0,1015.8L1488.6,1025.8L1491.2,1020.3L1493.8,1016.8L1496.4,1020.8L1499.0,1016.0L1501.6,1020.9L1504.2,1022.9L1506.8,1021.0L1509.4,1023.0L1512.0,1026.6L1514.6,1020.1L1517.2,1019.0L1519.8,1019.3L1522.4,1023.4L1525.0,1020.7L1527.6,1022.3L1530.2,1022.6L1532.8,1021.4L1535.4,1020.3L1538.0,1009.8L1540.6,1018.2L1543.2,1020.0L1545.8,1024.0L1548.4,1010.7L1551.0,1023.6L1553.6,1014.1L1556.2,1018.2L1558.8,1017.9L1561.4,1020.9L1564.0,1018.7L1566.6,1020.5L1569.2,1024.8L1571.8,1024.8L1574.4,1018.4L1577.0,1017.6L1579.6,1017.8L1582.2,1022.5L1584.8,1024.9L1587.4,1019.3L1590.0,1017.7L1592.6,1020.3L1595.2,1018.7L1597.8,1022.9L1600.4,1024.8L1603.0,1011.3L1605.6,1017.5L1608.2,1020.0L1610.8,1023.5L1613.4,1021.0L1616.0,1023.0L1618.6,1017.3L1621.2,1025.7L1623.8,1025.0L1626.4,1021.4L1629.0,1015.9L1631.6,1019.5L1634.2,1024.1L1636.8,1022.7L1639.4,1023.7L1642.0,1023.6L1644.6,1021.0L1647.2,1020.2L1649.8,1023.7L1652.4,1023.9L1655.0,1019.7L1657.6,1022.5L1660.2,1018.7L1662.8,1019.2L1665.4,1025.6L1668.0,1019.2L1670.6,1016.2L1673.2,1016.4L1675.8,1019.4L1678.4,1024.8L1681.0,1018.6L1683.6,1019.6L1686.2,1020.4L1688.8,1024.0L1691.4,1022.8L1694.0,1020.0L1696.6,1016.7L1699.2,1013.7L1701.8,1020.2L1704.4,1023.0L1707.0,1015.3L1709.6,1017.7L1712.2,1010.1L1714.8,1019.5L1717.4,1019.2L1720.0,1021.8L1722.6,1017.3L1725.2,1019.4L1727.8,1025.3L1730.4,1022.1L1733.0,1018.5L1735.6,1023.3L1738.2,1022.3L1740.8,1020.6L1743.4,1018.5L1746.0,1020.1L1748.6,1012.7L1751.2,1008.3L1753.8,1009.0L1756.4,1023.1L1759.0,1021.9L1761.6,1022.4L1764.2,1020.2L1766.8,1022.0L1769.4,1017.5L1772.0,1013.4L1774.6,1014.4L1777.2,1009.0L1779.8,1017.2L1782.4,1022.2L1785.0,1013.3L1787.6,1016.0L1790.2,1014.8L1792.8,1022.1L1795.4,1020.4L1798.0,1018.9L1800.6,1013.7L1803.2,1022.4L1805.8,1018.1L1808.4,1019.9L1811.0,1019.3L1813.6,1019.8L1816.2,1021.9L1818.8,1019.0L1821.4,1022.8L1824.0,1019.4L1826.6,1020.2L1829.2,1017.3L1831.8,1022.5L1834.4,1017.0L1837.0,1020.9L1839.6,1014.2L1842.2,1016.4L1844.8,1021.1L1847.4,1019.2L1850.0,1017.2L1852.6,1013.4L1855.2,1016.2L1857.8,1014.1L1860.4,1017.7L1863.0,1017.9L1865.6,1010.1L1868.2,1018.1L1870.8,1019.3L1873.4,1021.0L1876.0,1021.2L1878.6,1019.5L1881.2,1017.8L1883.8,1020.5L1886.4,1016.8L1889.0,1020.6L1891.6,1021.1L1894.2,1017.9L1896.8,1013.6L1899.4,1014.7L1902.0,1016.6L1904.6,1016.3L1907.2,1019.5L1909.8,1012.5L1912.4,1017.9L1915.0,1011.8L1917.6,1017.3L1920.2,1017.2L1922.8,1017.2L1925.4,1017.4L1928.0,1014.6L1930.6,1015.6L1933.2,1012.2L1935.8,1008.0L1938.4,1019.1L1941.0,1016.4L1943.6,1016.1L1946.2,1018.2L1948.8,1017.0L1951.4,1020.1L1954.0,1019.1L1956.6,1016.0L1959.2,1015.2L1961.8,1017.8L1964.4,1019.3L1967.0,1022.9L1969.6,1008.0L1972.2,1016.4L1974.8,1019.1L1977.4,1011.4L1980.0,1016.4L1982.6,1013.2L1985.2,1016.2L1987.8,1015.6L1990.4,1014.4L1993.0,1007.2L1995.6,1013.4L1998.2,1013.7L2000.8,1015.3L2003.4,1007.0L2006.0,1008.8L2008.6,1012.8L2011.2,1013.9L2013.8,1014.7L2016.4,1015.9L2019.0,1013.7L2021.6,1009.7L2024.2,1010.9L2026.8,1015.9L2029.4,1011.0L2032.0,1011.1L2034.6,1015.9L2037.2,1011.2L2039.8,1010.6L2042.4,1015.7L2045.0,1012.8L2047.6,1018.4L2050.2,1009.1L2052.8,1011.6L2055.4,1016.3L2058.0,1014.2L2060.6,1005.8L2063.2,1007.2L2065.8,1016.8L2068.4,1016.2L2071.0,1008.5L2073.6,1014.1L2076.2,1012.5L2078.8,1015.2L2081.4,1010.6L2084.0,1012.0L2086.6,1013.9L2089.2,1006.9L2091.8,1011.0L2094.4,1014.7L2097.0,1015.3L2099.6,1011.8L2102.2,1001.5L2104.8,1012.6L2107.4,1011.2L2110.0,1013.5L2112.6,1015.8L2115.2,1012.3L2117.8,1010.3L2120.4,1019.3L2123.0,1018.4L2125.6,1016.1L2128.2,1012.4L2130.8,1011.6L2133.4,1016.1L2136.0,1017.1L2138.6,1013.0L2141.2,1014.8L2143.8,1016.3L2146.4,1012.6L2149.0,1007.3L2151.6,1013.5L2154.2,1012.9L2156.8,1012.2L2159.4,1012.0L2162.0,1014.1L2164.6,1014.8L2167.2,1014.3L2169.8,1018.0L2172.4,1016.9L2175.0,1018.6L2177.6,1014.4L2180.2,1015.4L2182.8,1013.3L2185.4,1014.9L2188.0,1016.1L2190.6,1013.4L2193.2,1016.2L2195.8,1013.8L2198.4,1009.8L2201.0,1011.7L2203.6,1014.6L2205.2,1026.8L2205.2,1033.8L2203.6,1026.8L2201.0,1025.9L2198.4,1028.2L2195.8,1023.9L2193.2,1027.9L2190.6,1027.0L2188.0,1031.4L2185.4,1028.7L2182.8,1025.4L2180.2,1025.6L2177.6,1025.8L2175.0,1025.1L2172.4,1024.7L2169.8,1023.2L2167.2,1023.5L2164.6,1022.1L2162.0,1022.4L2159.4,1025.8L2156.8,1024.7L2154.2,1032.5L2151.6,1025.6L2149.0,1022.5L2146.4,1030.7L2143.8,1024.9L2141.2,1026.1L2138.6,1025.7L2136.0,1022.6L2133.4,1029.2L2130.8,1024.2L2128.2,1025.7L2125.6,1022.3L2123.0,1024.6L2120.4,1022.8L2117.8,1022.0L2115.2,1021.4L2112.6,1019.8L2110.0,1023.4L2107.4,1033.2L2104.8,1024.4L2102.2,1029.5L2099.6,1023.3L2097.0,1028.6L2094.4,1023.4L2091.8,1020.4L2089.2,1021.7L2086.6,1024.4L2084.0,1018.7L2081.4,1017.9L2078.8,1023.9L2076.2,1026.6L2073.6,1022.3L2071.0,1024.5L2068.4,1020.1L2065.8,1025.7L2063.2,1024.7L2060.6,1023.9L2058.0,1019.8L2055.4,1021.9L2052.8,1024.2L2050.2,1022.8L2047.6,1023.8L2045.0,1023.5L2042.4,1027.0L2039.8,1024.7L2037.2,1024.9L2034.6,1024.2L2032.0,1028.6L2029.4,1031.2L2026.8,1028.9L2024.2,1023.4L2021.6,1024.3L2019.0,1025.9L2016.4,1024.6L2013.8,1027.1L2011.2,1030.4L2008.6,1023.9L2006.0,1025.7L2003.4,1023.2L2000.8,1021.8L1998.2,1026.3L1995.6,1030.6L1993.0,1025.9L1990.4,1025.6L1987.8,1026.9L1985.2,1025.4L1982.6,1024.9L1980.0,1024.1L1977.4,1023.6L1974.8,1024.4L1972.2,1020.8L1969.6,1026.2L1967.0,1030.2L1964.4,1024.5L1961.8,1028.1L1959.2,1030.4L1956.6,1023.9L1954.0,1024.4L1951.4,1029.7L1948.8,1030.7L1946.2,1027.0L1943.6,1021.5L1941.0,1026.3L1938.4,1032.1L1935.8,1026.6L1933.2,1022.9L1930.6,1030.6L1928.0,1030.0L1925.4,1026.3L1922.8,1027.3L1920.2,1032.3L1917.6,1030.1L1915.0,1026.3L1912.4,1028.7L1909.8,1025.4L1907.2,1032.1L1904.6,1027.7L1902.0,1033.0L1899.4,1024.1L1896.8,1025.7L1894.2,1029.7L1891.6,1031.0L1889.0,1025.1L1886.4,1034.1L1883.8,1035.2L1881.2,1026.8L1878.6,1025.8L1876.0,1024.8L1873.4,1033.1L1870.8,1032.2L1868.2,1033.6L1865.6,1035.6L1863.0,1028.2L1860.4,1028.3L1857.8,1028.0L1855.2,1024.5L1852.6,1028.9L1850.0,1025.3L1847.4,1025.6L1844.8,1030.0L1842.2,1035.6L1839.6,1026.9L1837.0,1032.2L1834.4,1033.5L1831.8,1028.3L1829.2,1027.4L1826.6,1032.2L1824.0,1025.4L1821.4,1034.1L1818.8,1030.6L1816.2,1027.7L1813.6,1027.0L1811.0,1026.9L1808.4,1032.0L1805.8,1026.5L1803.2,1028.4L1800.6,1029.2L1798.0,1025.7L1795.4,1029.8L1792.8,1028.7L1790.2,1032.3L1787.6,1031.4L1785.0,1028.1L1782.4,1031.7L1779.8,1024.9L1777.2,1029.5L1774.6,1029.2L1772.0,1029.5L1769.4,1029.9L1766.8,1029.4L1764.2,1031.4L1761.6,1028.3L1759.0,1039.8L1756.4,1032.4L1753.8,1031.4L1751.2,1037.8L1748.6,1032.7L1746.0,1032.4L1743.4,1032.0L1740.8,1029.2L1738.2,1030.9L1735.6,1028.4L1733.0,1034.4L1730.4,1032.5L1727.8,1039.1L1725.2,1033.4L1722.6,1028.0L1720.0,1033.6L1717.4,1031.2L1714.8,1029.9L1712.2,1030.4L1709.6,1032.6L1707.0,1032.1L1704.4,1031.1L1701.8,1030.3L1699.2,1038.2L1696.6,1028.9L1694.0,1030.0L1691.4,1029.4L1688.8,1034.2L1686.2,1026.7L1683.6,1030.6L1681.0,1031.7L1678.4,1029.5L1675.8,1029.9L1673.2,1032.5L1670.6,1032.6L1668.0,1040.9L1665.4,1032.1L1662.8,1030.9L1660.2,1034.4L1657.6,1034.2L1655.0,1036.0L1652.4,1029.3L1649.8,1029.6L1647.2,1033.7L1644.6,1038.4L1642.0,1032.5L1639.4,1035.0L1636.8,1029.7L1634.2,1031.9L1631.6,1033.8L1629.0,1038.3L1626.4,1033.2L1623.8,1034.7L1621.2,1028.9L1618.6,1031.8L1616.0,1034.2L1613.4,1029.5L1610.8,1030.9L1608.2,1028.2L1605.6,1039.2L1603.0,1043.6L1600.4,1034.8L1597.8,1034.0L1595.2,1028.4L1592.6,1031.8L1590.0,1037.8L1587.4,1036.8L1584.8,1032.9L1582.2,1039.7L1579.6,1028.4L1577.0,1031.7L1574.4,1033.1L1571.8,1040.6L1569.2,1030.3L1566.6,1033.6L1564.0,1028.1L1561.4,1037.4L1558.8,1028.9L1556.2,1034.5L1553.6,1028.1L1551.0,1033.5L1548.4,1036.1L1545.8,1034.8L1543.2,1035.0L1540.6,1029.2L1538.0,1041.9L1535.4,1034.9L1532.8,1034.9L1530.2,1034.2L1527.6,1030.9L1525.0,1033.0L1522.4,1037.2L1519.8,1039.6L1517.2,1027.5L1514.6,1034.6L1512.0,1030.7L1509.4,1031.8L1506.8,1034.2L1504.2,1034.2L1501.6,1031.9L1499.0,1028.7L1496.4,1031.4L1493.8,1028.9L1491.2,1029.5L1488.6,1030.0L1486.0,1030.0L1483.4,1033.8L1480.8,1028.7L1478.2,1039.9L1475.6,1035.0L1473.0,1040.7L1470.4,1025.5L1467.8,1040.9L1465.2,1031.1L1462.6,1030.9L1460.0,1029.3L1457.4,1033.3L1454.8,1029.8L1452.2,1024.7L1449.6,1027.5L1447.0,1030.4L1444.4,1031.6L1441.8,1026.8L1439.2,1027.0L1436.6,1027.7L1434.0,1031.2L1431.4,1029.3L1428.8,1029.7L1426.2,1027.9L1423.6,1029.2L1421.0,1024.3L1418.4,1030.8L1415.8,1031.7L1413.2,1026.5L1410.6,1035.0L1408.0,1027.0L1405.4,1031.1L1402.8,1029.8L1400.2,1025.0L1397.6,1027.9L1395.0,1027.2L1392.4,1028.0L1389.8,1027.6L1387.2,1025.6L1384.6,1031.8L1382.0,1026.5L1379.4,1037.9L1376.8,1030.1L1374.2,1026.2L1371.6,1028.9L1369.0,1027.7L1366.4,1032.4L1363.8,1031.3L1361.2,1026.6L1358.6,1027.7L1356.0,1031.2L1353.4,1026.9L1350.8,1024.9L1348.2,1023.3L1345.6,1023.6L1343.0,1025.9L1340.4,1031.8L1337.8,1029.5L1335.2,1025.0L1332.6,1023.0L1330.0,1026.1L1327.4,1026.6L1324.8,1022.8L1322.2,1020.5L1319.6,1021.0L1317.0,1029.5L1314.4,1022.9L1311.8,1024.9L1309.2,1027.9L1306.6,1023.5L1304.0,1020.4L1301.4,1019.0L1298.8,1020.7L1296.2,1021.6L1293.6,1029.3L1291.0,1028.8L1288.4,1024.1L1285.8,1025.7L1283.2,1025.3L1280.6,1020.7L1278.0,1025.1L1275.4,1025.5L1272.8,1023.0L1270.2,1015.1L1267.6,1021.5L1265.0,1033.5L1262.4,1022.0L1259.8,1020.6L1257.2,1025.1L1254.6,1026.5L1252.0,1027.6L1249.4,1026.4L1246.8,1028.8L1244.2,1025.0L1241.6,1023.5L1239.0,1019.6L1236.4,1033.0L1233.8,1025.9L1231.2,1029.8L1228.6,1028.8L1226.0,1019.2L1223.4,1022.6L1220.8,1025.7L1218.2,1022.8L1215.6,1022.7L1213.0,1023.5L1210.4,1024.3L1207.8,1021.4L1205.2,1022.3L1202.6,1022.6L1200.0,1022.4L1197.4,1028.1L1194.8,1024.3L1192.2,1023.0L1189.6,1014.7L1187.0,1022.3L1184.4,1020.6L1181.8,1020.6L1179.2,1023.5L1176.6,1019.1L1174.0,1018.3L1171.4,1019.1L1168.8,1016.0L1166.2,1012.1L1163.6,1013.9L1161.0,1019.1L1158.4,1018.1L1155.8,1011.5L1153.2,1011.7L1150.6,1010.0L1148.0,1011.3L1145.4,1011.4L1142.8,1018.8L1140.2,1014.4L1137.6,1014.9L1135.0,1013.4L1132.4,1013.2L1129.8,1011.6L1127.2,1009.4L1124.6,1009.8L1122.0,1011.7L1119.4,1017.0L1116.8,1014.3L1114.2,1010.7L1111.6,1009.5L1109.0,1013.5L1106.4,1013.8L1103.8,1021.4L1101.2,1014.5L1098.6,1016.8L1096.0,1012.4L1093.4,1021.5L1090.8,1008.3L1088.2,1006.5L1085.6,1006.4L1083.0,1004.6L1080.4,1004.0L1077.8,1009.8L1075.2,1002.0L1072.6,1005.6L1070.0,1003.9L1067.4,1006.7L1064.8,997.1L1062.2,999.0L1059.6,997.5L1057.0,1001.4L1054.4,1013.0L1051.8,996.9L1049.2,996.1L1046.6,995.6L1044.0,997.3L1041.4,1008.6L1038.8,1009.9L1036.2,998.3L1033.6,995.7L1031.0,991.7L1028.4,996.3L1025.8,989.8L1023.2,993.4L1020.6,990.3L1018.0,988.6L1015.4,983.7L1012.8,998.4L1010.2,989.9L1007.6,987.6L1005.0,984.3L1002.4,984.0L999.8,981.3L997.2,974.9L994.6,977.4L992.0,976.3L989.4,977.6L986.8,978.4L984.2,972.6L981.6,974.5L979.0,976.8L976.4,970.8L973.8,968.5L971.2,968.4L968.6,968.8L966.0,969.3L963.4,969.3L960.8,971.8L958.2,960.8L955.6,963.9L953.0,962.2L950.4,969.9L947.8,958.8L945.2,959.2L942.6,973.7L940.0,960.3L937.4,971.8L934.8,957.2L932.2,958.0L929.6,948.4L927.0,946.1L924.4,947.6L921.8,949.9L919.2,951.8L916.6,944.3L914.0,939.1L911.4,941.8L908.8,944.6L906.2,936.3L903.6,943.7L901.0,944.8L898.4,940.5L895.8,935.5L893.2,945.7L890.6,950.7L888.0,936.3L885.4,940.5L882.8,929.6L880.2,931.2L877.6,931.3L875.0,924.1L872.4,926.6L869.8,923.6L867.2,923.0L864.6,917.6L862.0,925.8L859.4,918.0L856.8,915.1L854.2,913.0L851.6,912.3L849.0,910.0L846.4,917.8L843.8,912.6L841.2,909.4L838.6,903.1L836.0,911.0L833.4,906.6L830.8,915.7L828.2,919.5L825.6,914.8L823.0,924.1L820.4,919.9L817.8,925.6L815.2,928.2L812.6,930.1L810.0,921.0L807.4,922.5L804.8,934.9L802.2,934.9L799.6,934.0L797.0,928.1L794.4,938.7L791.8,933.1L789.2,935.8L786.6,935.7L784.0,934.3L781.4,935.9L778.8,939.3L776.2,941.8L773.6,943.3L771.0,946.8L768.4,949.2L765.8,946.3L763.2,943.8L760.6,946.1L758.0,957.1L755.4,951.5L752.8,947.6L750.2,958.8L747.6,953.0L745.0,938.5L742.4,936.5L739.8,939.6L737.2,950.1L734.6,946.2L732.0,964.5L729.4,948.1L726.8,955.3L724.2,956.9L721.6,951.1L719.0,958.3L716.4,954.3L713.8,957.1L711.2,972.0L708.6,959.5L706.0,958.4L703.4,953.8L700.8,960.0L698.2,956.3L695.6,963.7L693.0,958.4L690.4,960.9L687.8,957.6L685.2,959.0L682.6,958.7L680.0,958.0L677.4,956.0L674.8,954.8L672.2,953.3L669.6,959.5L667.0,960.0L664.4,970.0L661.8,970.7L659.2,953.9L656.6,952.7L654.0,950.2L651.4,954.9L648.8,953.3L646.2,951.2L643.6,953.3L641.0,952.5L638.4,958.8L635.8,949.2L633.2,947.8L630.6,946.5L628.0,953.7L625.4,943.7L622.8,947.6L620.2,947.5L617.6,952.5L615.0,941.9L612.4,948.5L609.8,939.7L607.2,938.9L604.6,941.0L602.0,938.4L599.4,956.6L596.8,936.4L594.2,935.3L591.6,938.1L589.0,942.6L586.4,939.9L583.8,939.3L581.2,938.7L578.6,950.1L576.0,957.7L573.4,950.9L570.8,944.8L568.2,939.3L565.6,944.5L563.0,941.4L560.4,939.8L557.8,945.2L555.2,942.5L552.6,945.5L550.0,945.2L547.4,942.8L544.8,960.1L542.2,946.3L539.6,940.1L537.0,949.3L534.4,943.6L531.8,947.3L529.2,943.7L526.6,949.0L524.0,947.0L521.4,946.6L518.8,957.0L516.2,944.0L513.6,949.6L511.0,948.6L508.4,948.0L505.8,957.3L503.2,941.2L500.6,944.1L498.0,949.0L495.4,943.7L492.8,945.4L490.2,942.3L487.6,949.0L485.0,938.3L482.4,944.5L479.8,940.0L477.2,946.2L474.6,943.6L472.0,940.7L469.4,945.9L466.8,935.1L464.2,938.1L461.6,948.2L459.0,936.4L456.4,928.6L453.8,928.4L451.2,927.5L448.6,930.3L446.0,928.0L443.4,922.3L440.8,924.2L438.2,923.3L435.6,928.2L433.0,927.3L430.4,926.6L427.8,928.4L425.2,917.3L422.6,919.0L420.0,915.9L417.4,912.2L414.8,913.2L412.2,914.3L409.6,905.8L407.0,909.0L404.4,911.4L401.8,912.2L399.2,912.6L396.6,912.7L394.0,906.0L391.4,918.4L388.8,904.7L386.2,904.6L383.6,903.6L381.0,898.5L378.4,896.8L375.8,906.8L373.2,909.7L370.6,922.0L368.0,903.3L365.4,912.3L362.8,913.0L360.2,911.3L357.6,909.3L355.0,909.5L352.4,908.4L349.8,912.3L347.2,923.0L344.6,913.4L342.0,910.0L339.4,910.6L336.8,915.6L334.2,911.2L331.6,913.6L329.0,917.4L326.4,909.1L323.8,909.2L321.2,908.3L318.6,910.9L316.0,912.1L313.4,916.1L310.8,912.9L308.2,907.7L305.6,911.8L303.0,914.9L300.4,918.3L297.8,909.7L295.2,922.5L292.6,920.7L290.0,917.6L287.4,914.2L284.8,916.6L282.2,929.0L279.6,925.4L277.0,917.8L274.4,921.8L271.8,922.6L269.2,916.4L266.6,909.8L264.0,914.8L261.4,931.5L258.8,926.9L256.2,920.9L253.6,911.9L251.0,923.9L248.4,926.8L245.8,906.5L243.2,910.2L240.6,909.8L238.0,909.4L235.4,914.6L232.8,910.6L230.2,912.6L227.6,907.9L225.0,914.0L222.4,910.0L219.8,913.9L217.2,904.8L214.6,913.6L212.0,912.9L209.4,913.6L206.8,909.2L204.2,910.4L201.6,910.8L199.0,907.7L196.4,908.1L193.8,906.6L191.2,905.5L188.6,910.7L186.0,911.9L183.4,906.1L180.8,904.8L178.2,903.5L175.6,909.8L173.0,903.4L170.4,908.4L167.8,902.1L165.2,911.4L162.6,906.2L160.0,908.9L157.4,908.0L153.5,905.2Z" stroke="#000000" fill="#000000" stroke-width="4.0"/>
<path d="M153.5,1218.5L157.4,1224.3L160.0,1218.4L162.6,1218.9L165.2,1218.3L167.8,1218.0L170.4,1218.0L173.0,1222.9L175.6,1224.0L178.2,1220.4L180.8,1226.3L183.4,1223.1L186.0,1222.1L188.6,1218.7L191.2,1227.5L193.8,1224.6L196.4,1226.9L199.0,1213.9L201.6,1216.8L204.2,1214.1L206.8,1223.9L209.4,1209.2L212.0,1223.7L214.6,1221.6L217.2,1222.5L219.8,1223.7L222.4,1217.0L225.0,1220.5L227.6,1213.4L230.2,1223.8L232.8,1216.8L235.4,1218.8L238.0,1218.9L240.6,1203.5L243.2,1221.7L245.8,1213.8L248.4,1216.8L251.0,1219.8L253.6,1215.1L256.2,1219.8L258.8,1218.3L261.4,1217.4L264.0,1211.0L266.6,1218.8L269.2,1212.7L271.8,1212.3L274.4,1217.2L277.0,1200.2L279.6,1214.5L282.2,1212.3L284.8,1209.5L287.4,1214.4L290.0,1210.6L292.6,1206.1L295.2,1205.5L297.8,1213.0L300.4,1207.1L303.0,1211.0L305.6,1209.1L308.2,1205.2L310.8,1209.0L313.4,1207.7L316.0,1206.8L318.6,1210.2L321.2,1209.4L323.8,1205.5L326.4,1207.8L329.0,1203.0L331.6,1202.7L334.2,1204.3L336.8,1199.7L339.4,1209.0L342.0,1200.4L344.6,1204.1L347.2,1197.3L349.8,1197.8L352.4,1203.5L355.0,1206.8L357.6,1204.3L360.2,1206.4L362.8,1201.3L365.4,1206.9L368.0,1202.3L370.6,1202.8L373.2,1209.4L375.8,1199.3L378.4,1202.8L381.0,1200.2L383.6,1207.0L386.2,1194.3L388.8,1209.2L391.4,1205.8L394.0,1202.4L396.6,1199.2L399.2,1197.3L401.8,1195.1L404.4,1203.5L407.0,1200.2L409.6,1204.7L412.2,1197.8L414.8,1199.6L417.4,1192.7L420.0,1201.2L422.6,1194.3L425.2,1194.8L427.8,1188.1L430.4,1187.8L433.0,1185.4L435.6,1195.8L438.2,1189.1L440.8,1192.8L443.4,1188.0L446.0,1195.8L448.6,1186.8L451.2,1184.1L453.8,1193.8L456.4,1187.3L459.0,1190.8L461.6,1192.1L464.2,1196.3L466.8,1191.3L469.4,1192.2L472.0,1189.3L474.6,1183.5L477.2,1184.5L479.8,1189.7L482.4,1194.1L485.0,1184.6L487.6,1186.6L490.2,1186.5L492.8,1188.4L495.4,1190.9L498.0,1192.1L500.6,1183.7L503.2,1184.5L505.8,1188.6L508.4,1183.5L511.0,1186.6L513.6,1195.3L516.2,1185.8L518.8,1189.6L521.4,1189.2L524.0,1186.4L526.6,1189.6L529.2,1177.0L531.8,1191.0L534.4,1188.1L537.0,1189.9L539.6,1184.2L542.2,1189.3L544.8,1193.1L547.4,1188.3L550.0,1185.7L552.6,1178.7L555.2,1192.3L557.8,1192.0L560.4,1186.2L563.0,1193.3L565.6,1189.8L568.2,1187.0L570.8,1182.6L573.4,1187.5L576.0,1192.2L578.6,1186.4L581.2,1185.6L583.8,1185.3L586.4,1187.3L589.0,1186.5L591.6,1183.4L594.2,1189.0L596.8,1187.4L599.4,1191.8L602.0,1186.6L604.6,1179.0L607.2,1182.9L609.8,1168.4L612.4,1179.0L615.0,1180.7L617.6,1186.0L620.2,1179.9L622.8,1178.6L625.4,1173.0L628.0,1182.7L630.6,1182.3L633.2,1177.6L635.8,1184.2L638.4,1178.3L641.0,1180.3L643.6,1185.9L646.2,1184.7L648.8,1169.1L651.4,1178.0L654.0,1176.1L656.6,1166.8L659.2,1177.3L661.8,1175.7L664.4,1170.1L667.0,1166.9L669.6,1173.1L672.2,1178.3L674.8,1175.8L677.4,1169.1L680.0,1170.4L682.6,1171.8L685.2,1175.2L687.8,1163.9L690.4,1165.3L693.0,1168.1L695.6,1175.1L698.2,1163.5L700.8,1158.8L703.4,1169.4L706.0,1162.9L708.6,1158.8L711.2,1163.8L713.8,1160.0L716.4,1156.4L719.0,1155.0L721.6,1141.2L724.2,1158.2L726.8,1154.5L729.4,1149.5L732.0,1139.5L734.6,1139.1L737.2,1157.4L739.8,1149.3L742.4,1154.0L745.0,1142.8L747.6,1144.8L750.2,1152.3L752.8,1148.8L755.4,1149.4L758.0,1147.2L760.6,1137.9L763.2,1143.2L765.8,1143.3L768.4,1148.3L771.0,1141.6L773.6,1137.6L776.2,1137.5L778.8,1129.5L781.4,1130.7L784.0,1129.6L786.6,1134.4L789.2,1137.7L791.8,1128.3L794.4,1133.0L797.0,1136.6L799.6,1134.3L802.2,1131.8L804.8,1130.3L807.4,1136.2L810.0,1112.4L812.6,1130.5L815.2,1130.7L817.8,1128.2L820.4,1119.3L823.0,1121.0L825.6,1109.7L828.2,1121.2L830.8,1115.6L833.4,1105.5L836.0,1118.1L838.6,1127.2L841.2,1116.2L843.8,1116.7L846.4,1116.4L849.0,1114.8L851.6,1116.6L854.2,1116.7L856.8,1111.5L859.4,1110.0L862.0,1104.2L864.6,1112.1L867.2,1111.6L869.8,1091.3L872.4,1095.9L875.0,1082.2L877.6,1073.2L880.2,1103.8L882.8,1091.4L885.4,1092.2L888.0,1096.8L890.6,1096.4L893.2,1103.7L895.8,1107.1L898.4,1111.8L901.0,1110.6L903.6,1108.1L906.2,1112.3L908.8,1107.7L911.4,1109.7L914.0,1108.5L916.6,1096.2L919.2,1110.6L921.8,1107.0L924.4,1113.6L927.0,1112.4L929.6,1119.0L932.2,1109.3L934.8,1110.7L937.4,1110.7L940.0,1100.3L942.6,1097.6L945.2,1105.8L947.8,1097.6L950.4,1112.6L953.0,1093.3L955.6,1094.9L958.2,1092.7L960.8,1094.2L963.4,1096.5L966.0,1090.0L968.6,1108.4L971.2,1106.6L973.8,1107.6L976.4,1108.4L979.0,1098.7L981.6,1100.7L984.2,1100.1L986.8,1100.9L989.4,1094.6L992.0,1102.2L994.6,1109.2L997.2,1108.9L999.8,1115.6L1002.4,1118.0L1005.0,1120.3L1007.6,1118.1L1010.2,1110.8L1012.8,1114.9L1015.4,1120.2L1018.0,1108.9L1020.6,1124.1L1023.2,1117.7L1025.8,1124.8L1028.4,1112.4L1031.0,1117.7L1033.6,1118.6L1036.2,1123.7L1038.8,1119.4L1041.4,1130.7L1044.0,1127.8L1046.6,1110.2L1049.2,1125.4L1051.8,1115.1L1054.4,1129.5L1057.0,1125.4L1059.6,1133.7L1062.2,1131.4L1064.8,1128.2L1067.4,1126.4L1070.0,1128.7L1072.6,1119.2L1075.2,1130.1L1077.8,1128.4L1080.4,1121.5L1083.0,1133.3L1085.6,1134.6L1088.2,1134.1L1090.8,1133.6L1093.4,1137.3L1096.0,1125.0L1098.6,1136.2L1101.2,1136.5L1103.8,1134.0L1106.4,1136.1L1109.0,1135.3L1111.6,1135.8L1114.2,1142.8L1116.8,1148.0L1119.4,1144.2L1122.0,1131.8L1124.6,1135.2L1127.2,1132.4L1129.8,1140.1L1132.4,1143.0L1135.0,1144.1L1137.6,1147.7L1140.2,1144.0L1142.8,1144.5L1145.4,1143.4L1148.0,1141.6L1150.6,1148.2L1153.2,1148.6L1155.8,1138.6L1158.4,1145.5L1161.0,1136.0L1163.6,1144.5L1166.2,1152.4L1168.8,1149.3L1171.4,1150.5L1174.0,1155.6L1176.6,1143.5L1179.2,1153.5L1181.8,1151.7L1184.4,1146.8L1187.0,1157.0L1189.6,1145.9L1192.2,1150.2L1194.8,1152.6L1197.4,1148.7L1200.0,1160.5L1202.6,1156.5L1205.2,1160.4L1207.8,1157.5L1210.4,1162.0L1213.0,1157.3L1215.6,1161.7L1218.2,1155.0L1220.8,1163.1L1223.4,1153.2L1226.0,1159.5L1228.6,1161.1L1231.2,1160.5L1233.8,1166.0L1236.4,1155.9L1239.0,1160.7L1241.6,1153.6L1244.2,1168.4L1246.8,1154.1L1249.4,1158.1L1252.0,1155.1L1254.6,1162.4L1257.2,1163.4L1259.8,1161.7L1262.4,1167.6L1265.0,1166.2L1267.6,1166.8L1270.2,1158.5L1272.8,1163.1L1275.4,1170.5L1278.0,1154.8L1280.6,1162.8L1283.2,1161.1L1285.8,1163.3L1288.4,1158.8L1291.0,1161.2L1293.6,1160.6L1296.2,1168.3L1298.8,1166.5L1301.4,1165.1L1304.0,1166.6L1306.6,1171.9L1309.2,1160.9L1311.8,1172.4L1314.4,1172.6L1317.0,1169.8L1319.6,1171.7L1322.2,1164.8L1324.8,1167.8L1327.4,1165.2L1330.0,1171.0L1332.6,1170.6L1335.2,1165.1L1337.8,1170.1L1340.4,1173.5L1343.0,1169.8L1345.6,1164.0L1348.2,1171.2L1350.8,1171.6L1353.4,1175.4L1356.0,1166.5L1358.6,1179.8L1361.2,1169.2L1363.8,1164.4L1366.4,1173.0L1369.0,1172.1L1371.6,1168.7L1374.2,1174.8L1376.8,1175.4L1379.4,1170.6L1382.0,1170.2L1384.6,1169.0L1387.2,1169.8L1389.8,1166.7L1392.4,1174.1L1395.0,1176.6L1397.6,1164.8L1400.2,1181.8L1402.8,1174.6L1405.4,1170.8L1408.0,1171.2L1410.6,1173.5L1413.2,1180.9L1415.8,1171.9L1418.4,1171.6L1421.0,1183.7L1423.6,1176.9L1426.2,1176.2L1428.8,1174.2L1431.4,1176.2L1434.0,1180.9L1436.6,1180.3L1439.2,1171.1L1441.8,1174.8L1444.4,1171.8L1447.0,1175.1L1449.6,1178.8L1452.2,1175.0L1454.8,1171.0L1457.4,1176.5L1460.0,1177.1L1462.6,1181.7L1465.2,1184.1L1467.8,1172.6L1470.4,1181.0L1473.0,1176.0L1475.6,1181.7L1478.2,1172.1L1480.8,1173.8L1483.4,1178.8L1486.0,1180.0L1488.6,1180.0L1491.2,1168.7L1493.8,1172.6L1496.4,1180.6L1499.0,1172.5L1501.6,1175.5L1504.2,1172.5L1506.8,1175.5L1509.4,1174.7L1512.0,1174.4L1514.6,1172.3L1517.2,1169.7L1519.8,1169.3L1522.4,1164.4L1525.0,1160.5L1527.6,1171.3L1530.2,1175.2L1532.8,1170.5L1535.4,1170.2L1538.0,1179.4L1540.6,1163.9L1543.2,1177.2L1545.8,1174.7L1548.4,1178.4L1551.0,1171.5L1553.6,1173.4L1556.2,1176.0L1558.8,1166.1L1561.4,1171.0L1564.0,1181.2L1566.6,1176.3L1569.2,1174.2L1571.8,1178.0L1574.4,1165.5L1577.0,1175.5L1579.6,1169.1L1582.2,1174.9L1584.8,1172.8L1587.4,1171.9L1590.0,1174.5L1592.6,1176.4L1595.2,1173.5L1597.8,1174.0L1600.4,1168.9L1603.0,1168.4L1605.6,1180.5L1608.2,1178.0L1610.8,1176.5L1613.4,1174.1L1616.0,1174.4L1618.6,1174.9L1621.2,1176.7L1623.8,1169.1L1626.4,1172.4L1629.0,1173.8L1631.6,1177.4L1634.2,1180.7L1636.8,1172.0L1639.4,1181.1L1642.0,1179.3L1644.6,1176.9L1647.2,1165.9L1649.8,1163.9L1652.4,1174.6L1655.0,1178.2L1657.6,1180.7L1660.2,1182.1L1662.8,1176.1L1665.4,1180.1L1668.0,1179.4L1670.6,1176.2L1673.2,1179.8L1675.8,1176.3L1678.4,1173.6L1681.0,1172.7L1683.6,1181.3L1686.2,1180.5L1688.8,1169.0L1691.4,1181.6L1694.0,1176.8L1696.6,1182.1L1699.2,1182.3L1701.8,1178.4L1704.4,1180.3L1707.0,1178.1L1709.6,1175.8L1712.2,1178.5L1714.8,1181.6L1717.4,1177.6L1720.0,1176.8L1722.6,1172.6L1725.2,1181.4L1727.8,1181.4L1730.4,1180.3L1733.0,1184.2L1735.6,1176.3L1738.2,1179.1L1740.8,1183.3L1743.4,1172.1L1746.0,1183.5L1748.6,1177.4L1751.2,1179.3L1753.8,1179.8L1756.4,1176.2L1759.0,1183.5L1761.6,1179.6L1764.2,1184.5L1766.8,1185.0L1769.4,1168.7L1772.0,1179.0L1774.6,1181.0L1777.2,1186.5L1779.8,1183.0L1782.4,1183.4L1785.0,1176.2L1787.6,1183.4L1790.2,1177.7L1792.8,1175.7L1795.4,1181.5L1798.0,1180.4L1800.6,1182.5L1803.2,1183.1L1805.8,1180.1L1808.4,1179.6L1811.0,1182.6L1813.6,1170.4L1816.2,1183.1L1818.8,1178.5L1821.4,1180.0L1824.0,1179.9L1826.6,1183.6L1829.2,1184.2L1831.8,1174.4L1834.4,1179.3L1837.0,1180.4L1839.6,1187.3L1842.2,1175.4L1844.8,1175.6L1847.4,1178.3L1850.0,1183.4L1852.6,1180.2L1855.2,1178.0L1857.8,1183.6L1860.4,1185.8L1863.0,1186.6L1865.6,1183.0L1868.2,1183.5L1870.8,1185.5L1873.4,1186.7L1876.0,1185.5L1878.6,1181.0L1881.2,1187.9L1883.8,1187.9L1886.4,1192.5L1889.0,1180.3L1891.6,1184.3L1894.2,1186.7L1896.8,1180.6L1899.4,1188.2L1902.0,1190.3L1904.6,1187.0L1907.2,1190.6L1909.8,1187.1L1912.4,1184.0L1915.0,1184.2L1917.6,1191.0L1920.2,1191.3L1922.8,1191.1L1925.4,1189.4L1928.0,1182.9L1930.6,1191.9L1933.2,1186.1L1935.8,1194.4L1938.4,1192.5L1941.0,1187.8L1943.6,1183.7L1946.2,1195.6L1948.8,1189.3L1951.4,1192.7L1954.0,1185.5L1956.6,1194.5L1959.2,1191.1L1961.8,1194.4L1964.4,1178.4L1967.0,1195.7L1969.6,1190.4L1972.2,1182.3L1974.8,1192.6L1977.4,1195.5L1980.0,1192.6L1982.6,1196.5L1985.2,1196.5L1987.8,1194.2L1990.4,1195.3L1993.0,1193.8L1995.6,1192.9L1998.2,1195.4L2000.8,1195.0L2003.4,1196.0L2006.0,1197.9L2008.6,1181.9L2011.2,1197.8L2013.8,1201.1L2016.4,1197.7L2019.0,1196.2L2021.6,1193.9L2024.2,1193.3L2026.8,1192.5L2029.4,1198.4L2032.0,1194.9L2034.6,1191.9L2037.2,1188.6L2039.8,1197.2L2042.4,1198.0L2045.0,1200.0L2047.6,1200.8L2050.2,1192.2L2052.8,1198.3L2055.4,1198.5L2058.0,1191.6L2060.6,1200.3L2063.2,1198.0L2065.8,1194.7L2068.4,1196.7L2071.0,1193.9L2073.6,1202.0L2076.2,1194.8L2078.8,1197.7L2081.4,1198.9L2084.0,1194.0L2086.6,1201.7L2089.2,1200.7L2091.8,1194.0L2094.4,1199.0L2097.0,1194.1L2099.6,1204.1L2102.2,1206.0L2104.8,1204.0L2107.4,1201.7L2110.0,1202.1L2112.6,1204.4L2115.2,1205.2L2117.8,1195.7L2120.4,1199.6L2123.0,1198.7L2125.6,1199.2L2128.2,1199.0L2130.8,1192.0L2133.4,1198.5L2136.0,1201.9L2138.6,1198.0L2141.2,1200.6L2143.8,1200.6L2146.4,1197.2L2149.0,1196.2L2151.6,1187.4L2154.2,1200.3L2156.8,1203.1L2159.4,1199.5L2162.0,1201.8L2164.6,1203.7L2167.2,1200.7L2169.8,1200.1L2172.4,1201.5L2175.0,1200.6L2177.6,1201.1L2180.2,1204.1L2182.8,1195.6L2185.4,1200.7L2188.0,1201.9L2190.6,1198.8L2193.2,1205.6L2195.8,1199.5L2198.4,1198.6L2201.0,1201.6L2203.6,1204.6L2205.2,1210.1L2205.2,1212.4L2203.6,1213.2L2201.0,1214.9L2198.4,1215.0L2195.8,1209.1L2193.2,1223.6L2190.6,1212.1L2188.0,1223.3L2185.4,1210.8L2182.8,1211.1L2180.2,1223.1L2177.6,1210.6L2175.0,1211.8L2172.4,1211.4L2169.8,1215.3L2167.2,1219.2L2164.6,1211.7L2162.0,1212.4L2159.4,1216.5L2156.8,1213.1L2154.2,1214.6L2151.6,1211.7L2149.0,1215.3L2146.4,1213.9L2143.8,1211.9L2141.2,1214.4L2138.6,1211.6L2136.0,1214.5L2133.4,1212.4L2130.8,1210.5L2128.2,1216.9L2125.6,1213.2L2123.0,1211.9L2120.4,1214.9L2117.8,1215.7L2115.2,1212.2L2112.6,1216.8L2110.0,1209.3L2107.4,1212.1L2104.8,1210.7L2102.2,1211.1L2099.6,1213.6L2097.0,1208.8L2094.4,1210.0L2091.8,1206.4L2089.2,1215.2L2086.6,1215.3L2084.0,1205.1L2081.4,1217.1L2078.8,1207.7L2076.2,1216.1L2073.6,1216.4L2071.0,1207.7L2068.4,1212.1L2065.8,1211.2L2063.2,1208.1L2060.6,1213.9L2058.0,1210.0L2055.4,1218.2L2052.8,1212.8L2050.2,1213.6L2047.6,1214.7L2045.0,1207.7L2042.4,1212.3L2039.8,1220.7L2037.2,1204.2L2034.6,1209.7L2032.0,1206.4L2029.4,1208.7L2026.8,1210.9L2024.2,1209.8L2021.6,1208.7L2019.0,1206.3L2016.4,1208.8L2013.8,1212.4L2011.2,1203.2L2008.6,1205.9L2006.0,1206.4L2003.4,1210.1L2000.8,1214.1L1998.2,1207.0L1995.6,1207.4L1993.0,1209.2L1990.4,1205.5L1987.8,1205.1L1985.2,1208.2L1982.6,1209.8L1980.0,1214.6L1977.4,1208.2L1974.8,1211.9L1972.2,1201.7L1969.6,1205.2L1967.0,1205.3L1964.4,1203.2L1961.8,1207.7L1959.2,1204.6L1956.6,1218.1L1954.0,1200.9L1951.4,1202.9L1948.8,1200.0L1946.2,1204.3L1943.6,1205.8L1941.0,1201.8L1938.4,1202.3L1935.8,1206.6L1933.2,1202.9L1930.6,1209.5L1928.0,1211.3L1925.4,1202.8L1922.8,1200.6L1920.2,1203.4L1917.6,1202.2L1915.0,1197.4L1912.4,1196.1L1909.8,1205.7L1907.2,1197.9L1904.6,1202.8L1902.0,1198.3L1899.4,1210.3L1896.8,1208.6L1894.2,1201.0L1891.6,1211.5L1889.0,1199.6L1886.4,1197.3L1883.8,1195.1L1881.2,1198.9L1878.6,1191.6L1876.0,1202.4L1873.4,1199.8L1870.8,1198.1L1868.2,1192.3L1865.6,1202.3L1863.0,1204.2L1860.4,1192.4L1857.8,1198.3L1855.2,1194.9L1852.6,1192.6L1850.0,1192.6L1847.4,1198.9L1844.8,1193.4L1842.2,1199.5L1839.6,1207.3L1837.0,1195.7L1834.4,1192.6L1831.8,1192.9L1829.2,1190.6L1826.6,1203.8L1824.0,1193.4L1821.4,1198.2L1818.8,1192.2L1816.2,1202.4L1813.6,1190.5L1811.0,1190.6L1808.4,1192.3L1805.8,1195.2L1803.2,1192.3L1800.6,1194.6L1798.0,1190.3L1795.4,1194.4L1792.8,1192.6L1790.2,1195.2L1787.6,1192.9L1785.0,1188.6L1782.4,1199.7L1779.8,1195.3L1777.2,1194.2L1774.6,1195.6L1772.0,1197.1L1769.4,1190.7L1766.8,1195.3L1764.2,1195.9L1761.6,1190.3L1759.0,1190.7L1756.4,1189.7L1753.8,1194.7L1751.2,1207.2L1748.6,1197.4L1746.0,1207.6L1743.4,1196.5L1740.8,1190.4L1738.2,1191.1L1735.6,1196.3L1733.0,1190.8L1730.4,1198.4L1727.8,1195.7L1725.2,1196.0L1722.6,1192.4L1720.0,1189.3L1717.4,1193.9L1714.8,1199.7L1712.2,1196.1L1709.6,1195.5L1707.0,1192.6L1704.4,1193.0L1701.8,1193.2L1699.2,1194.1L1696.6,1197.2L1694.0,1188.2L1691.4,1190.8L1688.8,1190.3L1686.2,1196.3L1683.6,1196.4L1681.0,1199.5L1678.4,1189.2L1675.8,1194.3L1673.2,1186.6L1670.6,1190.0L1668.0,1187.8L1665.4,1191.9L1662.8,1187.7L1660.2,1195.9L1657.6,1196.8L1655.0,1193.4L1652.4,1190.3L1649.8,1194.8L1647.2,1204.8L1644.6,1188.7L1642.0,1188.8L1639.4,1198.2L1636.8,1191.0L1634.2,1189.9L1631.6,1191.8L1629.0,1187.4L1626.4,1187.1L1623.8,1188.2L1621.2,1197.4L1618.6,1192.0L1616.0,1186.1L1613.4,1191.5L1610.8,1191.9L1608.2,1193.0L1605.6,1192.6L1603.0,1196.2L1600.4,1186.3L1597.8,1188.4L1595.2,1182.4L1592.6,1201.1L1590.0,1188.3L1587.4,1184.3L1584.8,1191.9L1582.2,1186.1L1579.6,1192.7L1577.0,1192.4L1574.4,1184.0L1571.8,1189.0L1569.2,1181.5L1566.6,1191.2L1564.0,1192.2L1561.4,1186.4L1558.8,1183.3L1556.2,1183.7L1553.6,1188.5L1551.0,1187.8L1548.4,1185.1L1545.8,1185.0L1543.2,1186.5L1540.6,1185.7L1538.0,1198.7L1535.4,1191.9L1532.8,1193.8L1530.2,1185.9L1527.6,1185.1L1525.0,1185.1L1522.4,1184.3L1519.8,1189.8L1517.2,1187.8L1514.6,1189.4L1512.0,1187.7L1509.4,1185.1L1506.8,1188.8L1504.2,1192.0L1501.6,1184.8L1499.0,1193.6L1496.4,1189.1L1493.8,1199.5L1491.2,1193.6L1488.6,1192.9L1486.0,1198.5L1483.4,1198.9L1480.8,1185.5L1478.2,1190.0L1475.6,1194.4L1473.0,1198.7L1470.4,1206.1L1467.8,1192.1L1465.2,1199.6L1462.6,1206.3L1460.0,1191.1L1457.4,1189.3L1454.8,1190.4L1452.2,1188.7L1449.6,1187.8L1447.0,1191.6L1444.4,1186.9L1441.8,1184.1L1439.2,1184.4L1436.6,1187.7L1434.0,1195.1L1431.4,1191.9L1428.8,1191.2L1426.2,1189.5L1423.6,1190.3L1421.0,1196.5L1418.4,1188.9L1415.8,1188.7L1413.2,1192.0L1410.6,1186.6L1408.0,1184.9L1405.4,1199.7L1402.8,1197.9L1400.2,1185.9L1397.6,1184.1L1395.0,1197.1L1392.4,1198.3L1389.8,1193.6L1387.2,1184.6L1384.6,1193.3L1382.0,1188.7L1379.4,1190.5L1376.8,1186.5L1374.2,1183.3L1371.6,1179.9L1369.0,1186.7L1366.4,1183.9L1363.8,1181.6L1361.2,1187.6L1358.6,1187.5L1356.0,1183.5L1353.4,1179.1L1350.8,1188.2L1348.2,1190.0L1345.6,1185.9L1343.0,1186.4L1340.4,1181.3L1337.8,1182.0L1335.2,1183.4L1332.6,1183.2L1330.0,1181.3L1327.4,1182.3L1324.8,1183.5L1322.2,1182.9L1319.6,1189.1L1317.0,1198.5L1314.4,1186.4L1311.8,1180.4L1309.2,1177.8L1306.6,1175.4L1304.0,1188.3L1301.4,1179.9L1298.8,1178.7L1296.2,1178.1L1293.6,1180.8L1291.0,1182.2L1288.4,1180.7L1285.8,1186.6L1283.2,1178.7L1280.6,1177.4L1278.0,1175.9L1275.4,1183.9L1272.8,1175.9L1270.2,1182.8L1267.6,1183.7L1265.0,1184.0L1262.4,1182.6L1259.8,1178.6L1257.2,1175.2L1254.6,1174.9L1252.0,1182.0L1249.4,1175.0L1246.8,1168.4L1244.2,1174.2L1241.6,1173.7L1239.0,1183.3L1236.4,1174.3L1233.8,1183.4L1231.2,1170.2L1228.6,1173.3L1226.0,1174.9L1223.4,1171.4L1220.8,1168.3L1218.2,1176.2L1215.6,1172.1L1213.0,1180.0L1210.4,1168.4L1207.8,1167.5L1205.2,1169.9L1202.6,1168.8L1200.0,1167.8L1197.4,1175.5L1194.8,1169.1L1192.2,1164.5L1189.6,1158.6L1187.0,1177.6L1184.4,1182.4L1181.8,1161.0L1179.2,1168.1L1176.6,1173.7L1174.0,1167.6L1171.4,1163.6L1168.8,1158.4L1166.2,1167.7L1163.6,1167.2L1161.0,1165.5L1158.4,1162.0L1155.8,1165.0L1153.2,1165.2L1150.6,1164.0L1148.0,1167.8L1145.4,1166.0L1142.8,1162.1L1140.2,1159.0L1137.6,1160.5L1135.0,1165.3L1132.4,1157.1L1129.8,1167.0L1127.2,1149.8L1124.6,1152.3L1122.0,1156.0L1119.4,1156.0L1116.8,1159.6L1114.2,1164.5L1111.6,1150.8L1109.0,1153.4L1106.4,1151.7L1103.8,1150.0L1101.2,1150.2L1098.6,1147.2L1096.0,1160.6L1093.4,1153.3L1090.8,1158.2L1088.2,1157.7L1085.6,1150.7L1083.0,1149.4L1080.4,1147.7L1077.8,1147.6L1075.2,1146.8L1072.6,1149.2L1070.0,1149.8L1067.4,1147.6L1064.8,1155.6L1062.2,1157.2L1059.6,1158.6L1057.0,1152.5L1054.4,1151.6L1051.8,1141.0L1049.2,1143.2L1046.6,1142.2L1044.0,1139.5L1041.4,1140.8L1038.8,1135.3L1036.2,1138.5L1033.6,1147.3L1031.0,1139.5L1028.4,1132.0L1025.8,1138.9L1023.2,1140.7L1020.6,1138.7L1018.0,1140.0L1015.4,1136.1L1012.8,1135.9L1010.2,1128.5L1007.6,1125.2L1005.0,1127.6L1002.4,1136.0L999.8,1131.1L997.2,1124.1L994.6,1127.5L992.0,1124.8L989.4,1120.9L986.8,1117.4L984.2,1120.5L981.6,1118.1L979.0,1111.7L976.4,1128.8L973.8,1120.1L971.2,1126.3L968.6,1113.2L966.0,1124.7L963.4,1125.1L960.8,1113.1L958.2,1122.6L955.6,1122.3L953.0,1131.4L950.4,1130.7L947.8,1130.1L945.2,1120.6L942.6,1122.5L940.0,1112.0L937.4,1130.6L934.8,1136.1L932.2,1128.2L929.6,1134.9L927.0,1129.2L924.4,1126.9L921.8,1136.7L919.2,1116.8L916.6,1136.3L914.0,1135.5L911.4,1128.8L908.8,1116.9L906.2,1128.3L903.6,1118.0L901.0,1143.2L898.4,1126.5L895.8,1140.7L893.2,1135.0L890.6,1109.6L888.0,1119.0L885.4,1138.3L882.8,1112.6L880.2,1126.3L877.6,1133.5L875.0,1115.8L872.4,1122.0L869.8,1126.1L867.2,1141.8L864.6,1126.1L862.0,1130.0L859.4,1147.6L856.8,1133.9L854.2,1129.5L851.6,1130.3L849.0,1132.9L846.4,1145.5L843.8,1130.4L841.2,1143.0L838.6,1137.8L836.0,1135.0L833.4,1151.2L830.8,1144.4L828.2,1149.0L825.6,1153.1L823.0,1135.8L820.4,1142.8L817.8,1137.1L815.2,1144.0L812.6,1145.3L810.0,1142.5L807.4,1146.2L804.8,1145.0L802.2,1145.9L799.6,1152.6L797.0,1159.0L794.4,1143.3L791.8,1147.1L789.2,1147.0L786.6,1149.7L784.0,1156.4L781.4,1152.8L778.8,1155.1L776.2,1153.7L773.6,1151.6L771.0,1152.6L768.4,1159.7L765.8,1159.5L763.2,1171.0L760.6,1159.6L758.0,1161.2L755.4,1168.9L752.8,1163.8L750.2,1172.6L747.6,1163.9L745.0,1179.5L742.4,1164.7L739.8,1163.2L737.2,1167.5L734.6,1170.9L732.0,1173.9L729.4,1172.6L726.8,1167.6L724.2,1175.7L721.6,1172.7L719.0,1173.4L716.4,1172.2L713.8,1175.5L711.2,1184.4L708.6,1179.1L706.0,1176.1L703.4,1190.4L700.8,1187.1L698.2,1181.0L695.6,1183.7L693.0,1195.8L690.4,1188.2L687.8,1192.1L685.2,1186.5L682.6,1186.4L680.0,1201.4L677.4,1197.9L674.8,1195.1L672.2,1186.1L669.6,1188.5L667.0,1198.8L664.4,1185.6L661.8,1186.2L659.2,1193.8L656.6,1192.7L654.0,1191.0L651.4,1203.8L648.8,1189.0L646.2,1205.7L643.6,1199.3L641.0,1193.1L638.4,1195.6L635.8,1196.5L633.2,1209.1L630.6,1199.0L628.0,1211.7L625.4,1201.7L622.8,1202.0L620.2,1201.8L617.6,1204.0L615.0,1201.5L612.4,1200.2L609.8,1205.7L607.2,1199.3L604.6,1201.6L602.0,1204.2L599.4,1197.5L596.8,1199.0L594.2,1203.0L591.6,1201.5L589.0,1211.2L586.4,1208.2L583.8,1199.2L581.2,1206.4L578.6,1205.7L576.0,1203.2L573.4,1200.9L570.8,1204.7L568.2,1214.7L565.6,1204.0L563.0,1200.4L560.4,1214.2L557.8,1206.9L555.2,1206.1L552.6,1216.9L550.0,1211.6L547.4,1206.4L544.8,1200.8L542.2,1204.8L539.6,1203.0L537.0,1218.2L534.4,1214.7L531.8,1205.9L529.2,1206.6L526.6,1220.4L524.0,1203.0L521.4,1200.5L518.8,1206.7L516.2,1208.7L513.6,1206.9L511.0,1201.9L508.4,1196.2L505.8,1218.7L503.2,1213.1L500.6,1204.4L498.0,1205.5L495.4,1198.3L492.8,1205.6L490.2,1200.1L487.6,1204.6L485.0,1202.7L482.4,1203.2L479.8,1202.9L477.2,1198.0L474.6,1202.7L472.0,1202.9L469.4,1199.5L466.8,1203.1L464.2,1200.7L461.6,1199.9L459.0,1199.4L456.4,1200.6L453.8,1213.2L451.2,1199.3L448.6,1209.1L446.0,1206.2L443.4,1213.5L440.8,1207.7L438.2,1207.0L435.6,1206.6L433.0,1211.2L430.4,1204.9L427.8,1208.6L425.2,1212.0L422.6,1205.8L420.0,1210.2L417.4,1214.4L414.8,1216.4L412.2,1216.1L409.6,1218.2L407.0,1215.4L404.4,1216.8L401.8,1229.3L399.2,1217.5L396.6,1217.9L394.0,1217.8L391.4,1220.2L388.8,1216.5L386.2,1215.6L383.6,1221.7L381.0,1219.5L378.4,1214.8L375.8,1217.4L373.2,1216.0L370.6,1211.9L368.0,1223.1L365.4,1218.2L362.8,1215.4L360.2,1215.2L357.6,1224.7L355.0,1215.9L352.4,1215.7L349.8,1217.4L347.2,1221.1L344.6,1216.7L342.0,1218.3L339.4,1215.3L336.8,1213.2L334.2,1214.6L331.6,1215.2L329.0,1219.1L326.4,1217.4L323.8,1219.4L321.2,1218.2L318.6,1222.7L316.0,1222.0L313.4,1219.0L310.8,1216.8L308.2,1219.7L305.6,1222.2L303.0,1221.3L300.4,1219.3L297.8,1231.3L295.2,1224.9L292.6,1228.1L290.0,1231.3L287.4,1222.9L284.8,1222.7L282.2,1224.8L279.6,1228.1L277.0,1221.2L274.4,1225.3L271.8,1231.6L269.2,1224.6L266.6,1229.3L264.0,1243.0L261.4,1228.8L258.8,1225.6L256.2,1229.7L253.6,1229.3L251.0,1229.6L248.4,1231.7L245.8,1232.8L243.2,1240.1L240.6,1231.8L238.0,1230.2L235.4,1227.8L232.8,1226.7L230.2,1229.6L227.6,1226.7L225.0,1229.4L222.4,1224.4L219.8,1232.2L217.2,1245.2L214.6,1231.8L212.0,1230.4L209.4,1233.2L206.8,1237.2L204.2,1226.3L201.6,1234.4L199.0,1239.1L196.4,1237.4L193.8,1232.2L191.2,1233.3L188.6,1232.3L186.0,1231.8L183.4,1238.5L180.8,1237.6L178.2,1246.6L175.6,1232.5L173.0,1232.6L170.4,1237.6L167.8,1239.8L165.2,1235.9L162.6,1236.6L160.0,1229.7L157.4,1235.5L153.5,1248.4Z" stroke="#008000" fill="#008000" stroke-width="4.0"/>
<path d="M153.5,1356.8L157.4,1356.8L160.0,1356.1L162.6,1357.0L165.2,1341.2L167.8,1354.8L170.4,1360.1L173.0,1355.2L175.6,1344.6L178.2,1361.0L180.8,1350.4L183.4,1355.7L186.0,1348.3L188.6,1358.9L191.2,1360.9L193.8,1357.6L196.4,1358.3L199.0,1359.4L201.6,1356.8L204.2,1356.3L206.8,1356.4L209.4,1355.5L212.0,1342.6L214.6,1354.1L217.2,1358.7L219.8,1358.1L222.4,1351.6L225.0,1364.1L227.6,1360.3L230.2,1358.8L232.8,1361.3L235.4,1354.8L238.0,1348.3L240.6,1359.7L243.2,1359.1L245.8,1362.0L248.4,1364.4L251.0,1359.6L253.6,1360.1L256.2,1350.0L258.8,1365.4L261.4,1358.9L264.0,1352.1L266.6,1363.4L269.2,1369.6L271.8,1370.8L274.4,1363.2L277.0,1363.1L279.6,1362.3L282.2,1361.1L284.8,1358.7L287.4,1357.5L290.0,1363.2L292.6,1359.7L295.2,1364.8L297.8,1360.3L300.4,1362.0L303.0,1355.5L305.6,1357.9L308.2,1362.8L310.8,1352.2L313.4,1362.5L316.0,1367.3L318.6,1370.1L321.2,1364.3L323.8,1360.2L326.4,1370.6L329.0,1348.3L331.6,1359.5L334.2,1366.7L336.8,1361.0L339.4,1364.0L342.0,1365.5L344.6,1366.6L347.2,1362.7L349.8,1359.4L352.4,1368.4L355.0,1369.4L357.6,1370.9L360.2,1359.9L362.8,1357.6L365.4,1356.2L368.0,1370.7L370.6,1370.7L373.2,1371.8L375.8,1368.8L378.4,1370.3L381.0,1372.5L383.6,1365.9L386.2,1360.2L388.8,1368.8L391.4,1368.4L394.0,1372.8L396.6,1364.5L399.2,1364.4L401.8,1372.2L404.4,1366.6L407.0,1369.7L409.6,1364.7L412.2,1367.0L414.8,1369.1L417.4,1364.3L420.0,1356.6L422.6,1360.0L425.2,1369.9L427.8,1362.1L430.4,1367.6L433.0,1360.2L435.6,1366.0L438.2,1366.7L440.8,1365.7L443.4,1368.5L446.0,1356.1L448.6,1354.3L451.2,1368.1L453.8,1368.1L456.4,1365.2L459.0,1362.1L461.6,1365.8L464.2,1358.5L466.8,1366.9L469.4,1360.6L472.0,1353.9L474.6,1360.3L477.2,1365.9L479.8,1359.0L482.4,1356.0L485.0,1361.1L487.6,1362.7L490.2,1359.8L492.8,1369.6L495.4,1363.0L498.0,1366.4L500.6,1369.7L503.2,1361.8L505.8,1366.4L508.4,1360.9L511.0,1347.1L513.6,1365.4L516.2,1361.9L518.8,1364.2L521.4,1360.5L524.0,1361.9L526.6,1358.4L529.2,1357.8L531.8,1357.8L534.4,1356.2L537.0,1357.2L539.6,1350.8L542.2,1350.7L544.8,1356.3L547.4,1352.4L550.0,1352.9L552.6,1353.1L555.2,1347.6L557.8,1356.6L560.4,1350.7L563.0,1352.4L565.6,1354.4L568.2,1344.6L570.8,1339.8L573.4,1349.9L576.0,1351.8L578.6,1349.9L581.2,1351.3L583.8,1352.9L586.4,1354.1L589.0,1342.6L591.6,1347.9L594.2,1340.8L596.8,1349.5L599.4,1344.2L602.0,1343.8L604.6,1339.6L607.2,1344.6L609.8,1344.1L612.4,1343.3L615.0,1342.2L617.6,1338.6L620.2,1340.0L622.8,1329.7L625.4,1346.3L628.0,1341.4L630.6,1336.3L633.2,1334.0L635.8,1340.6L638.4,1337.7L641.0,1322.4L643.6,1322.3L646.2,1342.3L648.8,1325.2L651.4,1330.9L654.0,1327.3L656.6,1324.0L659.2,1329.7L661.8,1323.4L664.4,1325.7L667.0,1323.1L669.6,1325.1L672.2,1321.7L674.8,1312.2L677.4,1312.1L680.0,1318.9L682.6,1309.4L685.2,1315.4L687.8,1318.2L690.4,1292.4L693.0,1321.1L695.6,1303.6L698.2,1309.0L700.8,1291.8L703.4,1291.7L706.0,1301.3L708.6,1302.0L711.2,1298.3L713.8,1295.6L716.4,1295.9L719.0,1279.9L721.6,1279.5L724.2,1291.5L726.8,1294.3L729.4,1291.2L732.0,1295.7L734.6,1290.3L737.2,1292.3L739.8,1273.3L742.4,1282.0L745.0,1275.1L747.6,1289.4L750.2,1286.3L752.8,1273.5L755.4,1292.5L758.0,1283.5L760.6,1283.8L763.2,1288.4L765.8,1284.1L768.4,1281.7L771.0,1271.9L773.6,1271.4L776.2,1270.9L778.8,1268.7L781.4,1260.1L784.0,1259.8L786.6,1253.7L789.2,1247.8L791.8,1245.4L794.4,1252.2L797.0,1239.5L799.6,1228.5L802.2,1228.5L804.8,1226.5L807.4,1229.3L810.0,1235.1L812.6,1232.2L815.2,1225.4L817.8,1224.6L820.4,1225.6L823.0,1232.2L825.6,1231.1L828.2,1238.0L830.8,1242.3L833.4,1245.9L836.0,1236.9L838.6,1250.4L841.2,1253.2L843.8,1252.2L846.4,1251.6L849.0,1256.3L851.6,1260.0L854.2,1261.0L856.8,1270.9L859.4,1271.9L862.0,1274.2L864.6,1273.3L867.2,1285.0L869.8,1287.3L872.4,1290.8L875.0,1299.5L877.6,1290.5L880.2,1296.0L882.8,1296.6L885.4,1305.5L888.0,1308.5L890.6,1311.0L893.2,1313.9L895.8,1320.1L898.4,1321.1L901.0,1320.5L903.6,1304.2L906.2,1320.1L908.8,1326.2L911.4,1324.8L914.0,1332.7L916.6,1330.5L919.2,1329.0L921.8,1330.9L924.4,1331.9L927.0,1335.9L929.6,1333.0L932.2,1339.6L934.8,1339.5L937.4,1339.2L940.0,1333.2L942.6,1343.7L945.2,1340.7L947.8,1344.3L950.4,1332.7L953.0,1324.9L955.6,1335.4L958.2,1341.2L960.8,1336.5L963.4,1350.9L966.0,1344.5L968.6,1346.5L971.2,1353.3L973.8,1348.4L976.4,1346.3L979.0,1345.2L981.6,1342.2L984.2,1330.8L986.8,1335.6L989.4,1352.6L992.0,1356.3L994.6,1356.9L997.2,1347.9L999.8,1359.9L1002.4,1351.3L1005.0,1355.5L1007.6,1359.2L1010.2,1364.7L1012.8,1365.2L1015.4,1361.3L1018.0,1356.0L1020.6,1366.5L1023.2,1358.5L1025.8,1363.0L1028.4,1363.1L1031.0,1358.3L1033.6,1358.2L1036.2,1358.4L1038.8,1360.5L1041.4,1360.6L1044.0,1358.9L1046.6,1351.0L1049.2,1353.0L1051.8,1353.8L1054.4,1368.5L1057.0,1360.2L1059.6,1355.6L1062.2,1359.8L1064.8,1358.2L1067.4,1358.8L1070.0,1353.1L1072.6,1360.5L1075.2,1364.1L1077.8,1349.8L1080.4,1358.1L1083.0,1354.2L1085.6,1357.1L1088.2,1355.8L1090.8,1347.9L1093.4,1353.9L1096.0,1352.6L1098.6,1355.7L1101.2,1352.5L1103.8,1349.6L1106.4,1348.3L1109.0,1360.4L1111.6,1352.4L1114.2,1357.6L1116.8,1360.9L1119.4,1356.0L1122.0,1357.8L1124.6,1354.0L1127.2,1365.4L1129.8,1351.4L1132.4,1352.9L1135.0,1365.2L1137.6,1360.5L1140.2,1362.7L1142.8,1361.8L1145.4,1358.3L1148.0,1359.4L1150.6,1363.0L1153.2,1363.2L1155.8,1348.1L1158.4,1362.3L1161.0,1366.9L1163.6,1365.1L1166.2,1364.7L1168.8,1367.3L1171.4,1367.2L1174.0,1366.4L1176.6,1368.9L1179.2,1369.7L1181.8,1366.2L1184.4,1359.1L1187.0,1367.0L1189.6,1364.9L1192.2,1370.6L1194.8,1369.3L1197.4,1369.5L1200.0,1371.1L1202.6,1366.8L1205.2,1373.0L1207.8,1375.6L1210.4,1373.5L1213.0,1373.2L1215.6,1367.3L1218.2,1372.1L1220.8,1372.7L1223.4,1377.6L1226.0,1376.1L1228.6,1374.2L1231.2,1373.3L1233.8,1363.7L1236.4,1374.2L1239.0,1376.8L1241.6,1374.7L1244.2,1374.8L1246.8,1374.4L1249.4,1373.4L1252.0,1364.3L1254.6,1365.0L1257.2,1368.1L1259.8,1373.0L1262.4,1377.9L1265.0,1371.4L1267.6,1368.2L1270.2,1380.7L1272.8,1379.5L1275.4,1376.3L1278.0,1372.5L1280.6,1364.1L1283.2,1380.4L1285.8,1378.5L1288.4,1380.5L1291.0,1379.3L1293.6,1377.1L1296.2,1373.5L1298.8,1378.3L1301.4,1380.6L1304.0,1382.3L1306.6,1381.4L1309.2,1377.5L1311.8,1378.5L1314.4,1376.4L1317.0,1377.6L1319.6,1376.3L1322.2,1374.8L1324.8,1378.4L1327.4,1381.8L1330.0,1383.0L1332.6,1385.8L1335.2,1382.3L1337.8,1367.9L1340.4,1377.7L1343.0,1383.6L1345.6,1385.8L1348.2,1383.4L1350.8,1380.8L1353.4,1380.4L1356.0,1380.7L1358.6,1380.3L1361.2,1374.9L1363.8,1383.8L1366.4,1381.2L1369.0,1383.2L1371.6,1379.2L1374.2,1378.9L1376.8,1381.5L1379.4,1384.3L1382.0,1383.5L1384.6,1383.0L1387.2,1372.5L1389.8,1377.1L1392.4,1378.3L1395.0,1375.1L1397.6,1382.4L1400.2,1380.3L1402.8,1379.1L1405.4,1380.4L1408.0,1373.2L1410.6,1371.4L1413.2,1378.3L1415.8,1374.6L1418.4,1378.2L1421.0,1371.5L1423.6,1375.7L1426.2,1371.0L1428.8,1373.4L1431.4,1380.0L1434.0,1380.2L1436.6,1370.5L1439.2,1377.6L1441.8,1379.4L1444.4,1378.3L1447.0,1378.3L1449.6,1372.4L1452.2,1371.0L1454.8,1368.5L1457.4,1376.5L1460.0,1376.3L1462.6,1375.1L1465.2,1377.2L1467.8,1372.2L1470.4,1375.5L1473.0,1369.8L1475.6,1373.3L1478.2,1368.6L1480.8,1371.6L1483.4,1371.5L1486.0,1366.7L1488.6,1373.9L1491.2,1370.6L1493.8,1364.5L1496.4,1371.2L1499.0,1369.5L1501.6,1367.4L1504.2,1370.0L1506.8,1368.5L1509.4,1370.5L1512.0,1367.3L1514.6,1359.3L1517.2,1357.5L1519.8,1369.8L1522.4,1367.5L1525.0,1367.9L1527.6,1366.8L1530.2,1368.0L1532.8,1369.3L1535.4,1359.3L1538.0,1363.2L1540.6,1369.5L1543.2,1368.0L1545.8,1367.0L1548.4,1366.8L1551.0,1357.6L1553.6,1365.7L1556.2,1371.0L1558.8,1360.4L1561.4,1356.1L1564.0,1358.1L1566.6,1361.9L1569.2,1366.4L1571.8,1363.5L1574.4,1365.0L1577.0,1361.0L1579.6,1360.8L1582.2,1365.9L1584.8,1363.9L1587.4,1368.4L1590.0,1353.6L1592.6,1355.3L1595.2,1366.8L1597.8,1362.1L1600.4,1362.7L1603.0,1364.1L1605.6,1359.4L1608.2,1359.1L1610.8,1363.3L1613.4,1359.1L1616.0,1358.2L1618.6,1360.6L1621.2,1367.9L1623.8,1362.8L1626.4,1358.1L1629.0,1364.7L1631.6,1358.3L1634.2,1360.3L1636.8,1364.8L1639.4,1364.6L1642.0,1360.2L1644.6,1361.9L1647.2,1349.1L1649.8,1364.2L1652.4,1361.7L1655.0,1361.4L1657.6,1363.8L1660.2,1358.9L1662.8,1357.1L1665.4,1364.7L1668.0,1363.5L1670.6,1361.4L1673.2,1365.8L1675.8,1365.0L1678.4,1361.9L1681.0,1358.6L1683.6,1360.4L1686.2,1361.7L1688.8,1361.3L1691.4,1351.9L1694.0,1363.2L1696.6,1363.1L1699.2,1352.5L1701.8,1351.6L1704.4,1353.1L1707.0,1362.2L1709.6,1360.9L1712.2,1348.1L1714.8,1363.2L1717.4,1366.4L1720.0,1354.1L1722.6,1356.9L1725.2,1361.2L1727.8,1362.2L1730.4,1358.3L1733.0,1363.7L1735.6,1355.1L1738.2,1359.4L1740.8,1357.1L1743.4,1364.5L1746.0,1363.8L1748.6,1363.4L1751.2,1362.5L1753.8,1361.1L1756.4,1357.7L1759.0,1364.1L1761.6,1360.1L1764.2,1356.1L1766.8,1362.1L1769.4,1360.6L1772.0,1350.6L1774.6,1355.3L1777.2,1359.9L1779.8,1358.0L1782.4,1361.0L1785.0,1363.0L1787.6,1364.6L1790.2,1360.2L1792.8,1364.5L1795.4,1362.2L1798.0,1365.3L1800.6,1359.8L1803.2,1361.9L1805.8,1364.7L1808.4,1355.6L1811.0,1365.4L1813.6,1359.6L1816.2,1361.6L1818.8,1363.5L1821.4,1365.0L1824.0,1364.8L1826.6,1366.1L1829.2,1361.8L1831.8,1364.3L1834.4,1365.8L1837.0,1368.5L1839.6,1363.6L1842.2,1352.1L1844.8,1361.0L1847.4,1367.8L1850.0,1364.1L1852.6,1364.8L1855.2,1361.0L1857.8,1371.5L1860.4,1366.9L1863.0,1368.1L1865.6,1367.3L1868.2,1363.6L1870.8,1366.2L1873.4,1365.5L1876.0,1366.9L1878.6,1370.4L1881.2,1370.8L1883.8,1366.8L1886.4,1367.4L1889.0,1364.3L1891.6,1373.3L1894.2,1374.7L1896.8,1365.8L1899.4,1367.2L1902.0,1368.9L1904.6,1375.7L1907.2,1370.9L1909.8,1372.6L1912.4,1374.1L1915.0,1374.4L1917.6,1372.6L1920.2,1372.9L1922.8,1376.2L1925.4,1377.7L1928.0,1372.4L1930.6,1378.1L1933.2,1373.5L1935.8,1373.2L1938.4,1374.5L1941.0,1378.3L1943.6,1380.6L1946.2,1381.4L1948.8,1376.4L1951.4,1379.5L1954.0,1380.8L1956.6,1379.5L1959.2,1372.1L1961.8,1377.2L1964.4,1376.1L1967.0,1365.7L1969.6,1377.5L1972.2,1383.7L1974.8,1377.2L1977.4,1370.5L1980.0,1378.6L1982.6,1373.8L1985.2,1377.6L1987.8,1373.0L1990.4,1378.1L1993.0,1382.9L1995.6,1373.8L1998.2,1370.5L2000.8,1378.4L2003.4,1378.4L2006.0,1384.9L2008.6,1373.8L2011.2,1380.8L2013.8,1379.1L2016.4,1383.1L2019.0,1380.1L2021.6,1381.5L2024.2,1372.4L2026.8,1383.1L2029.4,1379.2L2032.0,1380.7L2034.6,1386.9L2037.2,1382.4L2039.8,1381.1L2042.4,1376.7L2045.0,1382.6L2047.6,1380.2L2050.2,1383.1L2052.8,1384.8L2055.4,1377.9L2058.0,1378.4L2060.6,1385.4L2063.2,1387.8L2065.8,1385.5L2068.4,1384.2L2071.0,1382.5L2073.6,1383.3L2076.2,1373.7L2078.8,1386.5L2081.4,1380.9L2084.0,1382.1L2086.6,1382.7L2089.2,1379.9L2091.8,1379.4L2094.4,1379.2L2097.0,1379.6L2099.6,1379.0L2102.2,1378.8L2104.8,1385.2L2107.4,1383.7L2110.0,1384.1L2112.6,1384.2L2115.2,1386.5L2117.8,1383.2L2120.4,1372.5L2123.0,1380.2L2125.6,1385.3L2128.2,1374.9L2130.8,1383.9L2133.4,1386.9L2136.0,1385.1L2138.6,1390.0L2141.2,1385.1L2143.8,1382.2L2146.4,1385.4L2149.0,1387.0L2151.6,1380.2L2154.2,1384.8L2156.8,1390.4L2159.4,1385.1L2162.0,1383.2L2164.6,1383.4L2167.2,1381.6L2169.8,1390.5L2172.4,1392.4L2175.0,1392.0L2177.6,1381.3L2180.2,1392.7L2182.8,1388.7L2185.4,1381.7L2188.0,1385.0L2190.6,1385.4L2193.2,1379.7L2195.8,1389.5L2198.4,1387.4L2201.0,1392.5L2203.6,1390.5L2205.2,1397.5L2205.2,1406.0L2203.6,1409.0L2201.0,1403.3L2198.4,1410.4L2195.8,1399.7L2193.2,1397.7L2190.6,1397.3L2188.0,1405.9L2185.4,1398.3L2182.8,1394.6L2180.2,1404.0L2177.6,1403.9L2175.0,1401.7L2172.4,1396.5L2169.8,1394.5L2167.2,1409.3L2164.6,1406.1L2162.0,1396.2L2159.4,1403.8L2156.8,1393.8L2154.2,1397.6L2151.6,1395.8L2149.0,1394.8L2146.4,1401.5L2143.8,1396.3L2141.2,1396.1L2138.6,1395.8L2136.0,1398.3L2133.4,1398.7L2130.8,1404.1L2128.2,1396.5L2125.6,1394.5L2123.0,1392.2L2120.4,1398.1L2117.8,1400.7L2115.2,1394.4L2112.6,1395.3L2110.0,1397.3L2107.4,1397.4L2104.8,1392.0L2102.2,1394.7L2099.6,1393.7L2097.0,1391.7L2094.4,1396.0L2091.8,1394.6L2089.2,1407.1L2086.6,1398.2L2084.0,1395.9L2081.4,1396.3L2078.8,1392.2L2076.2,1391.3L2073.6,1393.8L2071.0,1395.7L2068.4,1394.8L2065.8,1389.3L2063.2,1393.0L2060.6,1395.7L2058.0,1396.3L2055.4,1392.7L2052.8,1396.3L2050.2,1401.8L2047.6,1394.9L2045.0,1399.6L2042.4,1392.0L2039.8,1400.2L2037.2,1402.0L2034.6,1395.8L2032.0,1389.0L2029.4,1393.2L2026.8,1390.0L2024.2,1391.8L2021.6,1390.9L2019.0,1394.4L2016.4,1390.7L2013.8,1388.1L2011.2,1387.6L2008.6,1391.3L2006.0,1396.6L2003.4,1389.5L2000.8,1394.2L1998.2,1391.9L1995.6,1387.2L1993.0,1391.2L1990.4,1389.1L1987.8,1387.5L1985.2,1387.5L1982.6,1387.8L1980.0,1389.4L1977.4,1396.0L1974.8,1396.6L1972.2,1388.7L1969.6,1391.2L1967.0,1387.3L1964.4,1392.7L1961.8,1390.1L1959.2,1385.5L1956.6,1389.8L1954.0,1397.1L1951.4,1397.6L1948.8,1390.4L1946.2,1392.1L1943.6,1385.0L1941.0,1385.0L1938.4,1393.0L1935.8,1387.9L1933.2,1395.2L1930.6,1389.1L1928.0,1388.8L1925.4,1384.6L1922.8,1387.2L1920.2,1387.3L1917.6,1383.5L1915.0,1388.6L1912.4,1387.4L1909.8,1385.5L1907.2,1394.9L1904.6,1382.9L1902.0,1386.1L1899.4,1386.6L1896.8,1384.7L1894.2,1384.1L1891.6,1391.1L1889.0,1381.0L1886.4,1383.0L1883.8,1380.3L1881.2,1383.1L1878.6,1382.6L1876.0,1376.9L1873.4,1378.5L1870.8,1381.0L1868.2,1379.2L1865.6,1382.0L1863.0,1386.1L1860.4,1375.0L1857.8,1375.2L1855.2,1377.5L1852.6,1378.1L1850.0,1377.5L1847.4,1373.4L1844.8,1379.5L1842.2,1380.5L1839.6,1386.5L1837.0,1382.1L1834.4,1378.5L1831.8,1369.9L1829.2,1369.6L1826.6,1386.8L1824.0,1379.7L1821.4,1379.6L1818.8,1374.1L1816.2,1369.3L1813.6,1373.7L1811.0,1372.1L1808.4,1379.4L1805.8,1372.4L1803.2,1371.7L1800.6,1371.6L1798.0,1377.0L1795.4,1374.9L1792.8,1375.9L1790.2,1373.7L1787.6,1373.3L1785.0,1376.7L1782.4,1378.5L1779.8,1377.6L1777.2,1372.0L1774.6,1375.3L1772.0,1375.8L1769.4,1371.2L1766.8,1369.4L1764.2,1370.1L1761.6,1374.2L1759.0,1371.7L1756.4,1369.1L1753.8,1374.8L1751.2,1371.7L1748.6,1377.3L1746.0,1372.2L1743.4,1367.2L1740.8,1369.7L1738.2,1372.0L1735.6,1371.6L1733.0,1376.8L1730.4,1374.4L1727.8,1375.7L1725.2,1374.8L1722.6,1368.0L1720.0,1373.8L1717.4,1372.4L1714.8,1370.8L1712.2,1377.2L1709.6,1372.6L1707.0,1372.2L1704.4,1373.0L1701.8,1369.7L1699.2,1370.0L1696.6,1374.1L1694.0,1370.6L1691.4,1377.1L1688.8,1371.8L1686.2,1370.2L1683.6,1373.7L1681.0,1369.3L1678.4,1375.2L1675.8,1372.3L1673.2,1377.4L1670.6,1376.9L1668.0,1376.4L1665.4,1370.5L1662.8,1370.8L1660.2,1375.9L1657.6,1371.3L1655.0,1372.2L1652.4,1375.0L1649.8,1372.2L1647.2,1374.8L1644.6,1371.7L1642.0,1371.9L1639.4,1369.5L1636.8,1373.1L1634.2,1371.3L1631.6,1371.0L1629.0,1380.5L1626.4,1379.2L1623.8,1371.1L1621.2,1382.4L1618.6,1378.2L1616.0,1376.6L1613.4,1371.4L1610.8,1376.2L1608.2,1371.1L1605.6,1375.5L1603.0,1377.5L1600.4,1374.9L1597.8,1374.9L1595.2,1371.8L1592.6,1377.8L1590.0,1375.3L1587.4,1373.2L1584.8,1374.3L1582.2,1370.6L1579.6,1375.1L1577.0,1375.8L1574.4,1381.0L1571.8,1375.2L1569.2,1376.7L1566.6,1371.9L1564.0,1373.8L1561.4,1376.7L1558.8,1385.8L1556.2,1374.3L1553.6,1377.4L1551.0,1372.4L1548.4,1376.1L1545.8,1378.4L1543.2,1379.9L1540.6,1381.1L1538.0,1372.6L1535.4,1376.8L1532.8,1379.8L1530.2,1388.5L1527.6,1380.8L1525.0,1376.2L1522.4,1374.5L1519.8,1380.8L1517.2,1376.4L1514.6,1382.3L1512.0,1385.0L1509.4,1385.0L1506.8,1379.1L1504.2,1386.6L1501.6,1388.1L1499.0,1381.0L1496.4,1384.7L1493.8,1378.2L1491.2,1387.7L1488.6,1383.9L1486.0,1385.8L1483.4,1383.5L1480.8,1390.0L1478.2,1381.7L1475.6,1384.0L1473.0,1381.5L1470.4,1382.8L1467.8,1382.0L1465.2,1386.2L1462.6,1383.2L1460.0,1383.5L1457.4,1391.3L1454.8,1385.4L1452.2,1383.9L1449.6,1383.2L1447.0,1390.5L1444.4,1393.9L1441.8,1386.9L1439.2,1383.8L1436.6,1395.9L1434.0,1388.5L1431.4,1386.4L1428.8,1385.8L1426.2,1386.2L1423.6,1399.8L1421.0,1384.3L1418.4,1385.0L1415.8,1392.2L1413.2,1392.3L1410.6,1387.1L1408.0,1387.4L1405.4,1389.9L1402.8,1388.1L1400.2,1387.4L1397.6,1390.5L1395.0,1387.3L1392.4,1390.6L1389.8,1396.7L1387.2,1395.3L1384.6,1391.5L1382.0,1392.4L1379.4,1399.1L1376.8,1393.7L1374.2,1392.9L1371.6,1389.9L1369.0,1393.0L1366.4,1392.4L1363.8,1396.1L1361.2,1391.7L1358.6,1393.5L1356.0,1392.3L1353.4,1391.6L1350.8,1390.7L1348.2,1391.3L1345.6,1394.2L1343.0,1394.1L1340.4,1393.3L1337.8,1388.7L1335.2,1394.7L1332.6,1394.5L1330.0,1394.2L1327.4,1392.4L1324.8,1390.5L1322.2,1396.0L1319.6,1390.4L1317.0,1400.5L1314.4,1401.4L1311.8,1388.9L1309.2,1391.5L1306.6,1390.1L1304.0,1390.5L1301.4,1389.8L1298.8,1391.9L1296.2,1393.1L1293.6,1392.1L1291.0,1388.3L1288.4,1389.2L1285.8,1387.5L1283.2,1393.9L1280.6,1385.9L1278.0,1391.9L1275.4,1394.4L1272.8,1392.9L1270.2,1386.2L1267.6,1393.7L1265.0,1392.0L1262.4,1387.3L1259.8,1389.3L1257.2,1386.0L1254.6,1390.1L1252.0,1386.3L1249.4,1391.6L1246.8,1389.0L1244.2,1384.9L1241.6,1384.9L1239.0,1386.1L1236.4,1387.9L1233.8,1400.7L1231.2,1390.2L1228.6,1385.8L1226.0,1383.9L1223.4,1382.4L1220.8,1382.5L1218.2,1393.9L1215.6,1382.2L1213.0,1382.5L1210.4,1380.0L1207.8,1394.8L1205.2,1381.7L1202.6,1381.3L1200.0,1379.5L1197.4,1376.2L1194.8,1381.4L1192.2,1387.4L1189.6,1387.2L1187.0,1383.1L1184.4,1378.9L1181.8,1384.5L1179.2,1380.6L1176.6,1377.0L1174.0,1384.4L1171.4,1380.6L1168.8,1381.6L1166.2,1385.6L1163.6,1378.0L1161.0,1379.3L1158.4,1383.0L1155.8,1373.6L1153.2,1372.2L1150.6,1373.8L1148.0,1373.2L1145.4,1370.5L1142.8,1370.2L1140.2,1374.7L1137.6,1365.5L1135.0,1381.2L1132.4,1375.6L1129.8,1366.3L1127.2,1368.2L1124.6,1375.6L1122.0,1367.9L1119.4,1362.9L1116.8,1375.3L1114.2,1363.4L1111.6,1379.4L1109.0,1367.5L1106.4,1369.4L1103.8,1368.1L1101.2,1369.2L1098.6,1370.4L1096.0,1362.6L1093.4,1371.8L1090.8,1378.8L1088.2,1372.2L1085.6,1373.1L1083.0,1380.8L1080.4,1366.2L1077.8,1371.4L1075.2,1374.8L1072.6,1372.4L1070.0,1371.3L1067.4,1372.6L1064.8,1387.0L1062.2,1381.5L1059.6,1372.2L1057.0,1378.1L1054.4,1386.9L1051.8,1384.3L1049.2,1372.9L1046.6,1370.7L1044.0,1375.5L1041.4,1377.8L1038.8,1380.9L1036.2,1379.9L1033.6,1369.2L1031.0,1390.4L1028.4,1383.9L1025.8,1379.8L1023.2,1386.4L1020.6,1375.7L1018.0,1371.3L1015.4,1375.5L1012.8,1373.7L1010.2,1374.6L1007.6,1370.2L1005.0,1368.7L1002.4,1373.3L999.8,1387.3L997.2,1370.4L994.6,1362.9L992.0,1365.3L989.4,1365.7L986.8,1364.8L984.2,1368.5L981.6,1369.4L979.0,1363.6L976.4,1363.0L973.8,1363.1L971.2,1359.6L968.6,1363.0L966.0,1364.0L963.4,1361.8L960.8,1364.1L958.2,1356.7L955.6,1364.6L953.0,1357.6L950.4,1355.3L947.8,1366.2L945.2,1358.8L942.6,1355.9L940.0,1359.5L937.4,1362.7L934.8,1362.1L932.2,1344.8L929.6,1353.9L927.0,1369.2L924.4,1346.2L921.8,1352.5L919.2,1344.0L916.6,1349.4L914.0,1359.9L911.4,1344.1L908.8,1334.6L906.2,1333.6L903.6,1337.6L901.0,1339.9L898.4,1332.1L895.8,1328.9L893.2,1327.2L890.6,1319.9L888.0,1331.1L885.4,1312.2L882.8,1324.1L880.2,1311.4L877.6,1308.8L875.0,1311.2L872.4,1300.8L869.8,1303.9L867.2,1300.6L864.6,1297.4L862.0,1293.5L859.4,1285.8L856.8,1297.2L854.2,1284.7L851.6,1274.5L849.0,1280.0L846.4,1278.2L843.8,1271.9L841.2,1271.9L838.6,1264.0L836.0,1257.3L833.4,1265.4L830.8,1255.7L828.2,1251.3L825.6,1251.1L823.0,1252.1L820.4,1266.0L817.8,1254.8L815.2,1250.9L812.6,1242.4L810.0,1250.4L807.4,1259.1L804.8,1252.3L802.2,1253.2L799.6,1260.9L797.0,1252.2L794.4,1265.4L791.8,1266.7L789.2,1263.7L786.6,1270.0L784.0,1281.0L781.4,1272.8L778.8,1281.7L776.2,1295.4L773.6,1295.9L771.0,1288.8L768.4,1296.8L765.8,1312.6L763.2,1301.2L760.6,1302.0L758.0,1304.4L755.4,1302.2L752.8,1310.8L750.2,1297.9L747.6,1305.1L745.0,1301.7L742.4,1299.0L739.8,1309.1L737.2,1322.1L734.6,1302.3L732.0,1312.4L729.4,1304.5L726.8,1304.4L724.2,1305.4L721.6,1299.1L719.0,1304.9L716.4,1320.3L713.8,1313.2L711.2,1315.5L708.6,1334.9L706.0,1330.0L703.4,1324.4L700.8,1324.5L698.2,1324.0L695.6,1321.1L693.0,1334.1L690.4,1341.9L687.8,1330.3L685.2,1332.8L682.6,1333.5L680.0,1338.7L677.4,1338.0L674.8,1333.5L672.2,1336.7L669.6,1336.1L667.0,1338.9L664.4,1337.8L661.8,1342.5L659.2,1346.3L656.6,1342.2L654.0,1345.5L651.4,1365.9L648.8,1343.9L646.2,1356.2L643.6,1354.0L641.0,1354.1L638.4,1346.4L635.8,1355.1L633.2,1354.3L630.6,1357.3L628.0,1356.7L625.4,1361.0L622.8,1356.3L620.2,1356.5L617.6,1366.9L615.0,1358.7L612.4,1354.0L609.8,1360.8L607.2,1361.0L604.6,1361.4L602.0,1367.4L599.4,1364.8L596.8,1371.1L594.2,1373.3L591.6,1370.0L589.0,1380.2L586.4,1367.7L583.8,1368.9L581.2,1368.6L578.6,1370.1L576.0,1370.8L573.4,1372.6L570.8,1367.8L568.2,1385.6L565.6,1364.2L563.0,1364.5L560.4,1380.7L557.8,1368.3L555.2,1371.2L552.6,1366.9L550.0,1364.9L547.4,1366.8L544.8,1370.5L542.2,1372.0L539.6,1372.1L537.0,1366.9L534.4,1371.8L531.8,1376.3L529.2,1375.8L526.6,1387.1L524.0,1381.9L521.4,1382.2L518.8,1378.6L516.2,1379.9L513.6,1377.4L511.0,1379.7L508.4,1375.3L505.8,1398.0L503.2,1388.6L500.6,1376.8L498.0,1380.5L495.4,1378.2L492.8,1376.2L490.2,1390.0L487.6,1379.3L485.0,1374.4L482.4,1378.6L479.8,1382.1L477.2,1381.0L474.6,1378.1L472.0,1377.1L469.4,1378.5L466.8,1384.6L464.2,1386.3L461.6,1383.7L459.0,1380.5L456.4,1391.0L453.8,1383.5L451.2,1378.3L448.6,1381.2L446.0,1381.5L443.4,1380.3L440.8,1379.7L438.2,1381.7L435.6,1388.8L433.0,1378.2L430.4,1387.8L427.8,1377.2L425.2,1381.4L422.6,1382.3L420.0,1376.8L417.4,1384.1L414.8,1386.6L412.2,1380.2L409.6,1381.2L407.0,1383.7L404.4,1384.4L401.8,1379.6L399.2,1383.5L396.6,1390.1L394.0,1378.9L391.4,1379.5L388.8,1382.4L386.2,1387.7L383.6,1383.7L381.0,1382.5L378.4,1383.8L375.8,1384.2L373.2,1385.2L370.6,1386.6L368.0,1379.2L365.4,1375.1L362.8,1384.4L360.2,1374.6L357.6,1377.0L355.0,1383.1L352.4,1388.1L349.8,1388.0L347.2,1389.0L344.6,1376.9L342.0,1378.7L339.4,1390.9L336.8,1384.6L334.2,1383.5L331.6,1379.5L329.0,1387.2L326.4,1388.3L323.8,1389.3L321.2,1388.6L318.6,1385.6L316.0,1381.4L313.4,1377.2L310.8,1399.4L308.2,1379.5L305.6,1384.7L303.0,1386.3L300.4,1384.8L297.8,1391.3L295.2,1378.2L292.6,1374.3L290.0,1377.8L287.4,1388.5L284.8,1374.1L282.2,1378.1L279.6,1383.6L277.0,1383.8L274.4,1376.4L271.8,1376.3L269.2,1389.3L266.6,1381.1L264.0,1377.3L261.4,1375.8L258.8,1377.5L256.2,1383.3L253.6,1374.9L251.0,1367.8L248.4,1389.3L245.8,1384.1L243.2,1372.4L240.6,1378.1L238.0,1369.4L235.4,1370.5L232.8,1378.7L230.2,1374.6L227.6,1385.4L225.0,1382.6L222.4,1376.3L219.8,1368.5L217.2,1376.8L214.6,1376.1L212.0,1372.3L209.4,1387.7L206.8,1374.2L204.2,1370.9L201.6,1377.4L199.0,1373.5L196.4,1378.3L193.8,1371.9L191.2,1368.2L188.6,1369.2L186.0,1370.6L183.4,1380.9L180.8,1364.8L178.2,1374.2L175.6,1368.1L173.0,1373.5L170.4,1367.3L167.8,1365.4L165.2,1370.5L162.6,1371.2L160.0,1376.6L157.4,1378.8L153.5,1386.3Z" stroke="#ff0000" fill="#ff0000" stroke-width="4.0"/>
<path d="M153.5,1518.0L157.4,1519.1L160.0,1517.8L162.6,1519.7L165.2,1517.6L167.8,1516.6L170.4,1519.9L173.0,1520.8L175.6,1521.3L178.2,1519.4L180.8,1515.4L183.4,1517.5L186.0,1520.5L188.6,1518.9L191.2,1518.1L193.8,1518.3L196.4,1518.4L199.0,1518.3L201.6,1517.9L204.2,1517.7L206.8,1517.4L209.4,1517.5L212.0,1516.3L214.6,1519.2L217.2,1519.1L219.8,1518.5L222.4,1520.7L225.0,1518.5L227.6,1516.6L230.2,1515.6L232.8,1514.7L235.4,1516.8L238.0,1512.7L240.6,1515.7L243.2,1514.9L245.8,1518.6L248.4,1519.7L251.0,1518.8L253.6,1518.7L256.2,1519.2L258.8,1517.4L261.4,1517.6L264.0,1517.3L266.6,1518.9L269.2,1520.7L271.8,1517.4L274.4,1513.4L277.0,1521.7L279.6,1521.3L282.2,1517.3L284.8,1519.0L287.4,1516.8L290.0,1516.7L292.6,1521.3L295.2,1520.6L297.8,1517.3L300.4,1519.9L303.0,1520.1L305.6,1519.6L308.2,1516.1L310.8,1513.8L313.4,1519.4L316.0,1519.5L318.6,1517.1L321.2,1518.8L323.8,1516.8L326.4,1518.3L329.0,1517.9L331.6,1516.1L334.2,1515.0L336.8,1515.0L339.4,1517.7L342.0,1516.3L344.6,1515.5L347.2,1516.3L349.8,1515.6L352.4,1512.9L355.0,1513.4L357.6,1514.8L360.2,1516.1L362.8,1515.9L365.4,1512.9L368.0,1509.3L370.6,1510.1L373.2,1512.4L375.8,1514.9L378.4,1510.8L381.0,1513.8L383.6,1511.5L386.2,1514.2L388.8,1512.4L391.4,1510.7L394.0,1510.8L396.6,1512.1L399.2,1506.2L401.8,1512.4L404.4,1514.6L407.0,1513.9L409.6,1512.2L412.2,1515.9L414.8,1515.3L417.4,1513.8L420.0,1514.2L422.6,1514.8L425.2,1516.0L427.8,1513.5L430.4,1510.8L433.0,1512.0L435.6,1515.7L438.2,1516.6L440.8,1515.5L443.4,1518.4L446.0,1516.8L448.6,1511.8L451.2,1514.9L453.8,1518.6L456.4,1518.6L459.0,1517.7L461.6,1518.9L464.2,1515.8L466.8,1516.7L469.4,1519.9L472.0,1516.0L474.6,1518.9L477.2,1518.7L479.8,1519.3L482.4,1515.6L485.0,1518.2L487.6,1518.0L490.2,1518.3L492.8,1518.2L495.4,1516.5L498.0,1518.2L500.6,1513.5L503.2,1519.8L505.8,1517.5L508.4,1517.3L511.0,1518.5L513.6,1518.1L516.2,1516.3L518.8,1512.8L521.4,1518.7L524.0,1517.1L526.6,1520.0L529.2,1518.5L531.8,1520.5L534.4,1517.8L537.0,1517.7L539.6,1518.1L542.2,1513.8L544.8,1519.0L547.4,1517.6L550.0,1516.3L552.6,1521.0L555.2,1516.3L557.8,1521.1L560.4,1519.1L563.0,1518.3L565.6,1520.1L568.2,1518.8L570.8,1514.7L573.4,1516.7L576.0,1517.5L578.6,1518.3L581.2,1514.9L583.8,1512.9L586.4,1516.2L589.0,1518.4L591.6,1519.1L594.2,1517.7L596.8,1516.1L599.4,1518.5L602.0,1518.9L604.6,1517.6L607.2,1516.7L609.8,1516.7L612.4,1518.2L615.0,1517.8L617.6,1513.9L620.2,1516.7L622.8,1514.0L625.4,1514.7L628.0,1518.6L630.6,1515.2L633.2,1512.0L635.8,1514.4L638.4,1514.8L641.0,1512.6L643.6,1515.4L646.2,1512.4L648.8,1515.0L651.4,1515.5L654.0,1511.2L656.6,1512.0L659.2,1511.9L661.8,1512.8L664.4,1515.7L667.0,1511.2L669.6,1511.6L672.2,1512.8L674.8,1512.2L677.4,1513.9L680.0,1513.4L682.6,1513.0L685.2,1509.2L687.8,1512.7L690.4,1515.0L693.0,1513.0L695.6,1511.0L698.2,1514.2L700.8,1512.4L703.4,1511.4L706.0,1512.2L708.6,1512.4L711.2,1512.5L713.8,1512.1L716.4,1511.1L719.0,1511.8L721.6,1513.0L724.2,1511.0L726.8,1508.1L729.4,1511.7L732.0,1508.3L734.6,1510.8L737.2,1507.3L739.8,1509.5L742.4,1506.6L745.0,1506.8L747.6,1502.3L750.2,1507.1L752.8,1509.3L755.4,1506.7L758.0,1504.6L760.6,1507.0L763.2,1501.5L765.8,1504.0L768.4,1504.9L771.0,1506.1L773.6,1505.6L776.2,1505.1L778.8,1503.6L781.4,1505.0L784.0,1501.3L786.6,1505.7L789.2,1506.6L791.8,1506.3L794.4,1504.1L797.0,1505.4L799.6,1504.1L802.2,1502.2L804.8,1504.6L807.4,1505.2L810.0,1506.0L812.6,1500.2L815.2,1503.1L817.8,1503.3L820.4,1502.9L823.0,1501.1L825.6,1503.0L828.2,1500.7L830.8,1501.5L833.4,1501.2L836.0,1497.4L838.6,1498.2L841.2,1497.1L843.8,1500.8L846.4,1497.4L849.0,1497.6L851.6,1498.2L854.2,1497.4L856.8,1495.2L859.4,1495.7L862.0,1498.1L864.6,1497.3L867.2,1493.7L869.8,1497.5L872.4,1496.1L875.0,1499.6L877.6,1496.2L880.2,1498.0L882.8,1495.2L885.4,1497.2L888.0,1499.3L890.6,1499.2L893.2,1494.4L895.8,1493.8L898.4,1502.6L901.0,1498.2L903.6,1498.5L906.2,1500.1L908.8,1500.5L911.4,1498.0L914.0,1502.8L916.6,1505.0L919.2,1504.3L921.8,1503.6L924.4,1500.2L927.0,1505.3L929.6,1506.1L932.2,1507.6L934.8,1507.3L937.4,1506.0L940.0,1509.5L942.6,1508.3L945.2,1508.9L947.8,1509.6L950.4,1509.9L953.0,1512.9L955.6,1508.6L958.2,1508.4L960.8,1511.2L963.4,1511.1L966.0,1511.3L968.6,1509.2L971.2,1512.8L973.8,1510.1L976.4,1512.4L979.0,1513.7L981.6,1510.3L984.2,1512.3L986.8,1513.6L989.4,1512.4L992.0,1511.4L994.6,1512.2L997.2,1516.3L999.8,1515.6L1002.4,1515.2L1005.0,1513.0L1007.6,1513.3L1010.2,1513.7L1012.8,1511.8L1015.4,1514.5L1018.0,1515.5L1020.6,1515.5L1023.2,1514.1L1025.8,1516.0L1028.4,1514.7L1031.0,1516.5L1033.6,1516.7L1036.2,1516.8L1038.8,1517.4L1041.4,1511.6L1044.0,1516.6L1046.6,1514.1L1049.2,1515.6L1051.8,1516.5L1054.4,1513.8L1057.0,1514.0L1059.6,1512.3L1062.2,1516.6L1064.8,1516.9L1067.4,1514.5L1070.0,1517.4L1072.6,1514.0L1075.2,1517.7L1077.8,1516.1L1080.4,1516.5L1083.0,1516.8L1085.6,1518.5L1088.2,1517.7L1090.8,1516.3L1093.4,1516.7L1096.0,1517.0L1098.6,1518.0L1101.2,1517.9L1103.8,1519.0L1106.4,1519.1L1109.0,1518.5L1111.6,1516.5L1114.2,1519.2L1116.8,1516.6L1119.4,1517.0L1122.0,1517.7L1124.6,1517.8L1127.2,1516.3L1129.8,1515.2L1132.4,1514.3L1135.0,1518.8L1137.6,1516.9L1140.2,1517.4L1142.8,1516.4L1145.4,1513.8L1148.0,1517.2L1150.6,1517.9L1153.2,1516.1L1155.8,1516.1L1158.4,1514.5L1161.0,1514.8L1163.6,1516.3L1166.2,1516.4L1168.8,1514.1L1171.4,1511.6L1174.0,1518.3L1176.6,1516.0L1179.2,1516.9L1181.8,1515.9L1184.4,1515.0L1187.0,1516.1L1189.6,1514.8L1192.2,1517.6L1194.8,1516.6L1197.4,1514.2L1200.0,1516.0L1202.6,1514.0L1205.2,1517.8L1207.8,1517.3L1210.4,1511.1L1213.0,1514.3L1215.6,1516.6L1218.2,1517.5L1220.8,1511.8L1223.4,1514.7L1226.0,1516.1L1228.6,1512.6L1231.2,1517.6L1233.8,1517.8L1236.4,1518.0L1239.0,1516.5L1241.6,1520.0L1244.2,1519.1L1246.8,1519.1L1249.4,1516.9L1252.0,1517.5L1254.6,1515.8L1257.2,1517.2L1259.8,1515.5L1262.4,1519.3L1265.0,1517.9L1267.6,1517.8L1270.2,1518.4L1272.8,1520.3L1275.4,1516.6L1278.0,1517.2L1280.6,1518.9L1283.2,1518.1L1285.8,1515.9L1288.4,1518.2L1291.0,1516.9L1293.6,1520.8L1296.2,1516.4L1298.8,1517.1L1301.4,1517.3L1304.0,1521.3L1306.6,1522.4L1309.2,1517.9L1311.8,1519.4L1314.4,1518.7L1317.0,1516.5L1319.6,1518.4L1322.2,1518.0L1324.8,1519.1L1327.4,1519.0L1330.0,1517.6L1332.6,1519.4L1335.2,1519.0L1337.8,1519.4L1340.4,1518.1L1343.0,1520.0L1345.6,1518.4L1348.2,1519.2L1350.8,1519.7L1353.4,1518.5L1356.0,1518.5L1358.6,1521.1L1361.2,1519.7L1363.8,1519.5L1366.4,1513.3L1369.0,1520.8L1371.6,1519.3L1374.2,1519.1L1376.8,1521.1L1379.4,1522.2L1382.0,1521.1L1384.6,1518.8L1387.2,1520.1L1389.8,1518.9L1392.4,1521.2L1395.0,1520.6L1397.6,1518.0L1400.2,1521.1L1402.8,1520.5L1405.4,1515.5L1408.0,1521.6L1410.6,1513.9L1413.2,1519.7L1415.8,1520.7L1418.4,1518.9L1421.0,1521.3L1423.6,1519.2L1426.2,1520.4L1428.8,1519.7L1431.4,1521.2L1434.0,1522.2L1436.6,1522.0L1439.2,1519.9L1441.8,1521.1L1444.4,1519.8L1447.0,1520.8L1449.6,1520.6L1452.2,1521.3L1454.8,1521.6L1457.4,1520.1L1460.0,1521.9L1462.6,1520.2L1465.2,1519.7L1467.8,1515.4L1470.4,1518.7L1473.0,1522.2L1475.6,1521.7L1478.2,1521.4L1480.8,1524.0L1483.4,1521.2L1486.0,1521.6L1488.6,1518.8L1491.2,1517.9L1493.8,1514.4L1496.4,1519.6L1499.0,1517.5L1501.6,1518.2L1504.2,1520.9L1506.8,1520.3L1509.4,1521.4L1512.0,1520.0L1514.6,1520.5L1517.2,1520.1L1519.8,1518.9L1522.4,1519.8L1525.0,1520.7L1527.6,1519.0L1530.2,1520.0L1532.8,1521.7L1535.4,1522.2L1538.0,1520.5L1540.6,1520.0L1543.2,1521.4L1545.8,1520.2L1548.4,1520.6L1551.0,1521.5L1553.6,1520.8L1556.2,1520.5L1558.8,1517.6L1561.4,1517.7L1564.0,1517.6L1566.6,1516.9L1569.2,1518.3L1571.8,1514.0L1574.4,1519.2L1577.0,1515.4L1579.6,1515.2L1582.2,1519.7L1584.8,1516.8L1587.4,1515.1L1590.0,1517.6L1592.6,1518.6L1595.2,1514.5L1597.8,1518.4L1600.4,1516.6L1603.0,1519.1L1605.6,1518.7L1608.2,1518.4L1610.8,1517.2L1613.4,1516.1L1616.0,1514.3L1618.6,1512.1L1621.2,1514.2L1623.8,1518.2L1626.4,1516.6L1629.0,1514.4L1631.6,1517.2L1634.2,1514.0L1636.8,1514.2L1639.4,1514.6L1642.0,1515.4L1644.6,1514.5L1647.2,1512.9L1649.8,1513.1L1652.4,1510.6L1655.0,1511.6L1657.6,1515.0L1660.2,1514.2L1662.8,1514.4L1665.4,1511.7L1668.0,1516.6L1670.6,1507.9L1673.2,1512.6L1675.8,1515.5L1678.4,1510.9L1681.0,1514.8L1683.6,1514.6L1686.2,1514.7L1688.8,1514.3L1691.4,1514.8L1694.0,1514.9L1696.6,1508.2L1699.2,1515.8L1701.8,1513.2L1704.4,1513.7L1707.0,1508.7L1709.6,1514.0L1712.2,1513.5L1714.8,1516.6L1717.4,1513.6L1720.0,1516.7L1722.6,1516.9L1725.2,1515.4L1727.8,1513.1L1730.4,1514.1L1733.0,1513.9L1735.6,1515.6L1738.2,1517.0L1740.8,1515.3L1743.4,1514.2L1746.0,1516.3L1748.6,1518.2L1751.2,1515.5L1753.8,1515.5L1756.4,1514.1L1759.0,1514.6L1761.6,1516.2L1764.2,1515.0L1766.8,1517.0L1769.4,1516.9L1772.0,1518.1L1774.6,1517.4L1777.2,1515.8L1779.8,1518.8L1782.4,1516.9L1785.0,1518.1L1787.6,1519.6L1790.2,1517.2L1792.8,1516.9L1795.4,1515.9L1798.0,1515.1L1800.6,1513.4L1803.2,1518.0L1805.8,1517.0L1808.4,1518.5L1811.0,1518.0L1813.6,1517.2L1816.2,1516.7L1818.8,1515.8L1821.4,1512.8L1824.0,1515.4L1826.6,1516.2L1829.2,1514.1L1831.8,1513.9L1834.4,1516.7L1837.0,1514.9L1839.6,1516.4L1842.2,1513.4L1844.8,1517.4L1847.4,1516.2L1850.0,1517.3L1852.6,1515.8L1855.2,1514.3L1857.8,1517.5L1860.4,1516.2L1863.0,1514.5L1865.6,1515.3L1868.2,1516.6L1870.8,1516.8L1873.4,1509.3L1876.0,1511.5L1878.6,1512.3L1881.2,1518.6L1883.8,1511.0L1886.4,1513.8L1889.0,1515.3L1891.6,1516.4L1894.2,1514.6L1896.8,1513.4L1899.4,1515.4L1902.0,1515.3L1904.6,1514.9L1907.2,1514.3L1909.8,1516.9L1912.4,1513.4L1915.0,1511.9L1917.6,1515.6L1920.2,1515.4L1922.8,1515.7L1925.4,1513.7L1928.0,1511.5L1930.6,1516.8L1933.2,1515.6L1935.8,1514.4L1938.4,1512.2L1941.0,1514.4L1943.6,1510.1L1946.2,1514.9L1948.8,1512.1L1951.4,1514.2L1954.0,1514.9L1956.6,1516.1L1959.2,1516.2L1961.8,1516.7L1964.4,1517.0L1967.0,1513.8L1969.6,1514.9L1972.2,1515.5L1974.8,1516.2L1977.4,1515.6L1980.0,1517.6L1982.6,1514.8L1985.2,1515.6L1987.8,1517.0L1990.4,1517.8L1993.0,1516.7L1995.6,1514.2L1998.2,1515.1L2000.8,1515.1L2003.4,1518.1L2006.0,1518.3L2008.6,1518.0L2011.2,1517.9L2013.8,1515.2L2016.4,1518.0L2019.0,1518.9L2021.6,1518.6L2024.2,1518.7L2026.8,1518.2L2029.4,1519.8L2032.0,1518.9L2034.6,1521.6L2037.2,1518.1L2039.8,1518.4L2042.4,1521.7L2045.0,1522.8L2047.6,1519.8L2050.2,1518.5L2052.8,1519.2L2055.4,1519.1L2058.0,1520.2L2060.6,1519.7L2063.2,1521.1L2065.8,1520.8L2068.4,1522.2L2071.0,1522.4L2073.6,1517.4L2076.2,1520.2L2078.8,1521.5L2081.4,1517.9L2084.0,1521.9L2086.6,1524.5L2089.2,1519.1L2091.8,1523.1L2094.4,1520.7L2097.0,1520.1L2099.6,1520.6L2102.2,1521.9L2104.8,1521.0L2107.4,1520.1L2110.0,1521.0L2112.6,1519.6L2115.2,1522.5L2117.8,1521.7L2120.4,1520.5L2123.0,1523.2L2125.6,1522.6L2128.2,1522.1L2130.8,1523.1L2133.4,1523.1L2136.0,1526.0L2138.6,1524.1L2141.2,1523.6L2143.8,1523.5L2146.4,1521.8L2149.0,1522.8L2151.6,1523.2L2154.2,1523.1L2156.8,1523.5L2159.4,1523.4L2162.0,1524.6L2164.6,1519.5L2167.2,1523.8L2169.8,1523.6L2172.4,1521.7L2175.0,1524.8L2177.6,1525.9L2180.2,1526.4L2182.8,1520.9L2185.4,1524.6L2188.0,1524.3L2190.6,1522.3L2193.2,1520.4L2195.8,1523.8L2198.4,1521.8L2201.0,1521.8L2203.6,1526.3L2205.2,1527.2L2205.2,1527.4L2203.6,1529.2L2201.0,1530.2L2198.4,1535.2L2195.8,1531.8L2193.2,1530.0L2190.6,1529.1L2188.0,1528.4L2185.4,1529.3L2182.8,1530.8L2180.2,1530.0L2177.6,1530.6L2175.0,1527.7L2172.4,1528.4L2169.8,1528.8L2167.2,1530.5L2164.6,1528.7L2162.0,1531.1L2159.4,1529.2L2156.8,1529.1L2154.2,1528.2L2151.6,1530.3L2149.0,1530.2L2146.4,1526.9L2143.8,1527.3L2141.2,1530.1L2138.6,1531.1L2136.0,1529.1L2133.4,1527.2L2130.8,1530.3L2128.2,1530.2L2125.6,1526.6L2123.0,1527.7L2120.4,1531.5L2117.8,1528.8L2115.2,1528.3L2112.6,1528.2L2110.0,1525.0L2107.4,1525.1L2104.8,1525.9L2102.2,1526.6L2099.6,1525.6L2097.0,1525.7L2094.4,1526.0L2091.8,1528.0L2089.2,1525.8L2086.6,1525.8L2084.0,1525.5L2081.4,1526.3L2078.8,1530.6L2076.2,1527.5L2073.6,1525.1L2071.0,1527.6L2068.4,1525.3L2065.8,1525.6L2063.2,1525.3L2060.6,1527.1L2058.0,1525.6L2055.4,1525.5L2052.8,1525.3L2050.2,1525.3L2047.6,1526.8L2045.0,1529.4L2042.4,1523.7L2039.8,1523.3L2037.2,1525.0L2034.6,1527.5L2032.0,1526.6L2029.4,1528.5L2026.8,1523.7L2024.2,1523.7L2021.6,1527.6L2019.0,1525.1L2016.4,1522.4L2013.8,1523.8L2011.2,1522.7L2008.6,1523.5L2006.0,1523.0L2003.4,1522.4L2000.8,1521.9L1998.2,1521.1L1995.6,1526.1L1993.0,1520.8L1990.4,1522.4L1987.8,1523.3L1985.2,1520.5L1982.6,1522.3L1980.0,1521.9L1977.4,1522.3L1974.8,1522.4L1972.2,1521.1L1969.6,1526.0L1967.0,1518.3L1964.4,1523.6L1961.8,1521.7L1959.2,1522.4L1956.6,1520.8L1954.0,1520.0L1951.4,1520.6L1948.8,1520.3L1946.2,1521.8L1943.6,1520.1L1941.0,1517.8L1938.4,1518.0L1935.8,1518.5L1933.2,1520.9L1930.6,1521.4L1928.0,1518.2L1925.4,1520.9L1922.8,1519.8L1920.2,1519.7L1917.6,1518.9L1915.0,1519.3L1912.4,1520.9L1909.8,1518.8L1907.2,1520.2L1904.6,1520.6L1902.0,1520.9L1899.4,1519.4L1896.8,1525.6L1894.2,1522.1L1891.6,1519.8L1889.0,1520.9L1886.4,1521.3L1883.8,1521.5L1881.2,1522.3L1878.6,1522.1L1876.0,1519.8L1873.4,1518.2L1870.8,1519.7L1868.2,1522.1L1865.6,1518.7L1863.0,1521.2L1860.4,1523.9L1857.8,1520.3L1855.2,1522.1L1852.6,1521.1L1850.0,1524.4L1847.4,1521.7L1844.8,1521.3L1842.2,1523.0L1839.6,1521.8L1837.0,1520.8L1834.4,1519.8L1831.8,1521.6L1829.2,1521.4L1826.6,1523.3L1824.0,1523.5L1821.4,1522.5L1818.8,1521.5L1816.2,1522.1L1813.6,1522.2L1811.0,1521.4L1808.4,1523.9L1805.8,1523.9L1803.2,1521.1L1800.6,1520.2L1798.0,1524.4L1795.4,1524.5L1792.8,1521.6L1790.2,1520.2L1787.6,1523.3L1785.0,1522.3L1782.4,1525.9L1779.8,1525.8L1777.2,1522.6L1774.6,1523.9L1772.0,1528.4L1769.4,1520.9L1766.8,1522.3L1764.2,1521.5L1761.6,1523.9L1759.0,1521.2L1756.4,1521.7L1753.8,1520.1L1751.2,1522.2L1748.6,1523.1L1746.0,1521.4L1743.4,1520.4L1740.8,1521.1L1738.2,1520.6L1735.6,1522.0L1733.0,1522.5L1730.4,1520.8L1727.8,1518.6L1725.2,1522.7L1722.6,1521.4L1720.0,1522.8L1717.4,1519.7L1714.8,1523.2L1712.2,1521.0L1709.6,1522.3L1707.0,1518.9L1704.4,1517.3L1701.8,1519.7L1699.2,1523.3L1696.6,1523.4L1694.0,1520.2L1691.4,1518.5L1688.8,1521.2L1686.2,1519.2L1683.6,1520.5L1681.0,1520.6L1678.4,1523.1L1675.8,1521.1L1673.2,1518.8L1670.6,1521.6L1668.0,1520.5L1665.4,1519.8L1662.8,1519.5L1660.2,1521.4L1657.6,1519.1L1655.0,1518.0L1652.4,1518.7L1649.8,1520.6L1647.2,1520.0L1644.6,1518.5L1642.0,1518.8L1639.4,1522.3L1636.8,1520.6L1634.2,1521.2L1631.6,1520.8L1629.0,1521.9L1626.4,1523.5L1623.8,1523.3L1621.2,1522.9L1618.6,1523.9L1616.0,1526.0L1613.4,1526.2L1610.8,1525.5L1608.2,1525.6L1605.6,1524.5L1603.0,1523.9L1600.4,1521.7L1597.8,1523.7L1595.2,1523.2L1592.6,1525.4L1590.0,1522.7L1587.4,1526.7L1584.8,1523.2L1582.2,1524.3L1579.6,1523.4L1577.0,1525.2L1574.4,1524.5L1571.8,1524.8L1569.2,1528.0L1566.6,1524.8L1564.0,1526.6L1561.4,1526.1L1558.8,1525.9L1556.2,1525.8L1553.6,1526.0L1551.0,1526.1L1548.4,1526.3L1545.8,1525.1L1543.2,1523.6L1540.6,1526.4L1538.0,1525.4L1535.4,1524.6L1532.8,1526.4L1530.2,1526.3L1527.6,1526.9L1525.0,1524.7L1522.4,1527.5L1519.8,1525.9L1517.2,1524.9L1514.6,1526.9L1512.0,1526.7L1509.4,1524.7L1506.8,1524.8L1504.2,1524.4L1501.6,1526.2L1499.0,1524.0L1496.4,1529.6L1493.8,1527.0L1491.2,1524.7L1488.6,1525.4L1486.0,1525.2L1483.4,1525.7L1480.8,1527.1L1478.2,1526.5L1475.6,1527.3L1473.0,1527.4L1470.4,1528.1L1467.8,1527.0L1465.2,1526.2L1462.6,1524.7L1460.0,1528.9L1457.4,1529.4L1454.8,1524.4L1452.2,1526.1L1449.6,1525.1L1447.0,1525.3L1444.4,1525.6L1441.8,1525.9L1439.2,1526.7L1436.6,1525.9L1434.0,1524.9L1431.4,1530.5L1428.8,1524.7L1426.2,1528.6L1423.6,1523.4L1421.0,1524.7L1418.4,1525.1L1415.8,1523.4L1413.2,1523.7L1410.6,1524.6L1408.0,1525.5L1405.4,1524.6L1402.8,1527.3L1400.2,1528.1L1397.6,1524.8L1395.0,1525.3L1392.4,1524.5L1389.8,1524.8L1387.2,1525.7L1384.6,1524.6L1382.0,1524.6L1379.4,1526.6L1376.8,1529.6L1374.2,1524.5L1371.6,1524.8L1369.0,1528.3L1366.4,1523.6L1363.8,1524.3L1361.2,1522.6L1358.6,1522.9L1356.0,1524.2L1353.4,1527.6L1350.8,1526.0L1348.2,1525.7L1345.6,1524.4L1343.0,1521.8L1340.4,1524.2L1337.8,1523.4L1335.2,1523.9L1332.6,1525.7L1330.0,1526.5L1327.4,1527.8L1324.8,1525.7L1322.2,1523.9L1319.6,1529.9L1317.0,1529.5L1314.4,1525.8L1311.8,1524.5L1309.2,1526.0L1306.6,1527.0L1304.0,1528.3L1301.4,1522.5L1298.8,1522.5L1296.2,1525.6L1293.6,1530.4L1291.0,1521.5L1288.4,1524.0L1285.8,1527.5L1283.2,1524.3L1280.6,1522.8L1278.0,1522.8L1275.4,1523.7L1272.8,1523.5L1270.2,1523.0L1267.6,1522.8L1265.0,1523.7L1262.4,1524.3L1259.8,1524.4L1257.2,1523.1L1254.6,1521.6L1252.0,1521.5L1249.4,1524.8L1246.8,1524.2L1244.2,1522.8L1241.6,1525.4L1239.0,1521.1L1236.4,1525.2L1233.8,1522.4L1231.2,1524.5L1228.6,1522.7L1226.0,1520.1L1223.4,1524.1L1220.8,1520.5L1218.2,1521.0L1215.6,1521.4L1213.0,1521.9L1210.4,1519.8L1207.8,1522.8L1205.2,1525.8L1202.6,1523.5L1200.0,1519.6L1197.4,1521.4L1194.8,1520.8L1192.2,1522.6L1189.6,1521.2L1187.0,1519.7L1184.4,1519.8L1181.8,1523.4L1179.2,1526.1L1176.6,1520.2L1174.0,1521.1L1171.4,1520.6L1168.8,1520.5L1166.2,1520.2L1163.6,1521.0L1161.0,1523.3L1158.4,1520.9L1155.8,1521.9L1153.2,1520.5L1150.6,1525.6L1148.0,1521.0L1145.4,1522.5L1142.8,1522.5L1140.2,1523.6L1137.6,1519.5L1135.0,1521.5L1132.4,1522.1L1129.8,1523.0L1127.2,1523.3L1124.6,1524.1L1122.0,1523.9L1119.4,1522.4L1116.8,1523.7L1114.2,1523.1L1111.6,1521.6L1109.0,1522.2L1106.4,1523.5L1103.8,1523.0L1101.2,1520.3L1098.6,1526.6L1096.0,1522.1L1093.4,1522.6L1090.8,1523.8L1088.2,1525.2L1085.6,1523.4L1083.0,1521.0L1080.4,1522.0L1077.8,1521.5L1075.2,1522.4L1072.6,1520.2L1070.0,1524.8L1067.4,1520.5L1064.8,1523.2L1062.2,1523.4L1059.6,1519.7L1057.0,1522.2L1054.4,1524.7L1051.8,1525.5L1049.2,1520.7L1046.6,1519.2L1044.0,1523.7L1041.4,1522.1L1038.8,1521.8L1036.2,1519.4L1033.6,1520.8L1031.0,1525.4L1028.4,1519.8L1025.8,1520.0L1023.2,1522.4L1020.6,1521.9L1018.0,1525.7L1015.4,1519.8L1012.8,1519.6L1010.2,1516.9L1007.6,1520.2L1005.0,1521.6L1002.4,1519.9L999.8,1518.4L997.2,1521.6L994.6,1517.4L992.0,1520.0L989.4,1517.3L986.8,1519.1L984.2,1518.6L981.6,1523.1L979.0,1515.6L976.4,1516.3L973.8,1519.9L971.2,1516.1L968.6,1516.4L966.0,1519.9L963.4,1519.0L960.8,1517.7L958.2,1516.2L955.6,1514.4L953.0,1515.6L950.4,1513.8L947.8,1516.9L945.2,1515.0L942.6,1514.6L940.0,1515.4L937.4,1513.6L934.8,1519.6L932.2,1510.9L929.6,1512.3L927.0,1515.0L924.4,1509.1L921.8,1509.8L919.2,1510.4L916.6,1507.9L914.0,1509.1L911.4,1510.6L908.8,1505.4L906.2,1508.9L903.6,1505.4L901.0,1504.5L898.4,1507.7L895.8,1506.2L893.2,1506.8L890.6,1505.4L888.0,1504.8L885.4,1504.8L882.8,1503.2L880.2,1503.1L877.6,1500.8L875.0,1503.5L872.4,1502.4L869.8,1503.3L867.2,1501.1L864.6,1504.5L862.0,1502.2L859.4,1501.3L856.8,1504.0L854.2,1502.8L851.6,1508.9L849.0,1505.5L846.4,1504.1L843.8,1504.5L841.2,1503.7L838.6,1506.2L836.0,1512.7L833.4,1505.4L830.8,1505.4L828.2,1506.3L825.6,1511.0L823.0,1506.8L820.4,1507.3L817.8,1506.4L815.2,1510.8L812.6,1507.4L810.0,1510.9L807.4,1510.7L804.8,1508.0L802.2,1510.1L799.6,1508.6L797.0,1509.7L794.4,1511.2L791.8,1509.9L789.2,1509.5L786.6,1509.6L784.0,1510.5L781.4,1511.2L778.8,1511.8L776.2,1510.5L773.6,1509.6L771.0,1510.3L768.4,1510.7L765.8,1513.6L763.2,1512.1L760.6,1517.6L758.0,1513.5L755.4,1514.1L752.8,1514.1L750.2,1510.8L747.6,1515.1L745.0,1513.2L742.4,1514.6L739.8,1513.9L737.2,1521.4L734.6,1517.2L732.0,1515.6L729.4,1514.4L726.8,1516.5L724.2,1516.9L721.6,1515.5L719.0,1515.2L716.4,1516.2L713.8,1516.6L711.2,1515.6L708.6,1519.3L706.0,1516.8L703.4,1516.6L700.8,1516.9L698.2,1517.3L695.6,1517.5L693.0,1517.9L690.4,1519.3L687.8,1519.1L685.2,1518.3L682.6,1518.1L680.0,1517.9L677.4,1518.1L674.8,1524.4L672.2,1524.4L669.6,1517.3L667.0,1518.9L664.4,1518.9L661.8,1520.1L659.2,1520.1L656.6,1525.1L654.0,1517.9L651.4,1523.5L648.8,1521.4L646.2,1519.6L643.6,1518.7L641.0,1519.5L638.4,1518.1L635.8,1521.4L633.2,1522.0L630.6,1522.2L628.0,1520.8L625.4,1520.0L622.8,1521.1L620.2,1522.2L617.6,1521.6L615.0,1520.5L612.4,1521.8L609.8,1524.4L607.2,1522.4L604.6,1523.6L602.0,1522.1L599.4,1525.2L596.8,1522.0L594.2,1525.2L591.6,1524.4L589.0,1523.2L586.4,1521.0L583.8,1521.9L581.2,1524.4L578.6,1523.8L576.0,1524.2L573.4,1522.0L570.8,1522.5L568.2,1522.6L565.6,1530.4L563.0,1524.7L560.4,1525.7L557.8,1526.6L555.2,1523.5L552.6,1522.8L550.0,1530.2L547.4,1525.7L544.8,1525.5L542.2,1530.8L539.6,1526.1L537.0,1523.4L534.4,1524.6L531.8,1523.9L529.2,1524.2L526.6,1523.5L524.0,1526.4L521.4,1524.1L518.8,1522.2L516.2,1522.9L513.6,1523.3L511.0,1524.2L508.4,1526.8L505.8,1522.4L503.2,1524.6L500.6,1526.9L498.0,1525.4L495.4,1522.8L492.8,1527.9L490.2,1530.1L487.6,1530.0L485.0,1524.4L482.4,1523.3L479.8,1523.5L477.2,1522.5L474.6,1528.3L472.0,1529.5L469.4,1522.5L466.8,1522.1L464.2,1522.8L461.6,1525.0L459.0,1526.9L456.4,1522.6L453.8,1524.1L451.2,1521.5L448.6,1522.4L446.0,1523.0L443.4,1521.2L440.8,1521.5L438.2,1523.2L435.6,1522.5L433.0,1521.5L430.4,1521.9L427.8,1522.5L425.2,1521.1L422.6,1519.0L420.0,1519.0L417.4,1525.2L414.8,1518.9L412.2,1518.9L409.6,1517.5L407.0,1517.9L404.4,1520.0L401.8,1521.3L399.2,1523.3L396.6,1523.3L394.0,1516.7L391.4,1520.8L388.8,1521.4L386.2,1521.0L383.6,1519.0L381.0,1520.4L378.4,1517.3L375.8,1518.8L373.2,1520.2L370.6,1517.3L368.0,1517.3L365.4,1518.2L362.8,1521.5L360.2,1521.1L357.6,1520.7L355.0,1519.2L352.4,1519.2L349.8,1521.6L347.2,1521.5L344.6,1520.2L342.0,1518.9L339.4,1521.2L336.8,1520.4L334.2,1521.8L331.6,1523.5L329.0,1519.3L326.4,1523.5L323.8,1520.2L321.2,1525.3L318.6,1526.5L316.0,1524.9L313.4,1523.6L310.8,1525.8L308.2,1522.6L305.6,1523.2L303.0,1526.7L300.4,1527.1L297.8,1524.9L295.2,1524.9L292.6,1526.4L290.0,1524.5L287.4,1528.2L284.8,1523.7L282.2,1524.6L279.6,1529.6L277.0,1530.5L274.4,1525.9L271.8,1524.0L269.2,1522.2L266.6,1524.5L264.0,1523.8L261.4,1522.3L258.8,1522.2L256.2,1522.5L253.6,1527.9L251.0,1525.8L248.4,1525.1L245.8,1526.7L243.2,1521.0L240.6,1523.2L238.0,1525.2L235.4,1525.4L232.8,1522.1L230.2,1523.6L227.6,1522.8L225.0,1523.6L222.4,1525.5L219.8,1526.3L217.2,1523.2L214.6,1522.6L212.0,1523.6L209.4,1522.4L206.8,1525.5L204.2,1522.6L201.6,1524.2L199.0,1521.8L196.4,1524.7L193.8,1523.0L191.2,1523.1L188.6,1522.1L186.0,1523.4L183.4,1522.9L180.8,1523.2L178.2,1523.6L175.6,1525.2L173.0,1527.9L170.4,1525.8L167.8,1521.8L165.2,1524.3L162.6,1523.4L160.0,1522.0L157.4,1523.2L153.5,1525.4Z" stroke="#0000ff" fill="#0000ff" stroke-width="4.0"/>
<path d="M1189.8,472.1h1.3v119.3h-1.3zM1189.8,483.2h1.3v120.5h-1.3zM1192.5,462.6h1.3v154.9h-1.3zM1192.4,439.2h1.3v139.9h-1.3zM1195.1,492.1h1.3v142.5h-1.3zM1194.7,489.6h1.3v111.7h-1.3zM1197.0,495.2h1.3v98.6h-1.3zM1196.8,495.8h1.3v102.5h-1.3zM1199.7,491.0h1.3v101.8h-1.3zM1199.7,491.5h1.3v98.7h-1.3zM1201.8,494.4h1.3v145.6h-1.3zM1201.5,507.8h1.3v89.0h-1.3zM1204.3,504.6h1.3v77.4h-1.3zM1203.3,504.1h1.3v114.0h-1.3zM1206.2,483.9h1.3v102.4h-1.3zM1206.2,488.5h1.3v96.2h-1.3zM1208.9,499.9h1.3v72.8h-1.3zM1208.3,478.9h1.3v100.3h-1.3zM1210.5,485.2h1.3v92.9h-1.3zM1210.7,495.5h1.3v98.8h-1.3zM1212.5,501.1h1.3v76.7h-1.3zM1213.1,495.9h1.3v79.9h-1.3zM1215.4,488.4h1.3v117.7h-1.3zM1215.1,480.9h1.3v111.4h-1.3zM1217.8,455.7h1.3v112.2h-1.3zM1217.9,462.2h1.3v100.7h-1.3zM1219.9,451.2h1.3v109.6h-1.3zM1219.8,408.2h1.3v216.0h-1.3zM1222.5,432.9h1.3v134.6h-1.3zM1222.0,420.9h1.3v159.3h-1.3zM1224.9,321.7h1.3v246.5h-1.3zM1224.3,404.8h1.3v162.4h-1.3zM1227.2,387.4h1.3v168.8h-1.3zM1227.1,388.7h1.3v168.9h-1.3zM1229.5,396.1h1.3v159.6h-1.3zM1229.4,376.7h1.3v189.2h-1.3zM1231.1,427.3h1.3v133.0h-1.3zM1231.2,417.6h1.3v147.9h-1.3zM1233.3,432.7h1.3v184.3h-1.3zM1233.4,439.1h1.3v152.6h-1.3zM1235.7,454.8h1.3v146.7h-1.3zM1236.0,449.5h1.3v176.8h-1.3zM1238.6,457.3h1.3v148.7h-1.3zM1238.6,461.8h1.3v138.9h-1.3zM1241.0,438.5h1.3v160.0h-1.3zM1240.6,415.7h1.3v181.5h-1.3zM1243.5,407.7h1.3v169.2h-1.3zM1243.0,407.6h1.3v173.5h-1.3zM1245.7,375.9h1.3v247.5h-1.3zM1245.2,376.7h1.3v229.5h-1.3zM1247.8,453.0h1.3v153.5h-1.3zM1247.5,413.8h1.3v226.2h-1.3zM1249.6,435.2h1.3v204.8h-1.3zM1249.9,441.9h1.3v158.1h-1.3zM1252.1,433.5h1.3v163.4h-1.3zM1252.2,445.9h1.3v160.5h-1.3zM1254.2,485.0h1.3v121.0h-1.3zM1254.6,480.7h1.3v135.5h-1.3zM1256.4,469.9h1.3v145.8h-1.3zM1257.0,474.3h1.3v154.5h-1.3zM1258.7,470.3h1.3v135.3h-1.3zM1258.5,478.5h1.3v145.6h-1.3zM1261.8,486.4h1.3v130.6h-1.3zM1261.8,484.9h1.3v119.2h-1.3zM1263.8,469.3h1.3v149.0h-1.3zM1264.0,491.9h1.3v101.3h-1.3zM1266.1,485.8h1.3v112.4h-1.3zM1266.3,433.7h1.3v162.2h-1.3zM1267.7,469.4h1.3v117.7h-1.3zM1268.0,473.8h1.3v111.8h-1.3zM1270.4,491.3h1.3v127.1h-1.3zM1270.5,480.1h1.3v114.2h-1.3zM1272.5,483.3h1.3v117.0h-1.3zM1272.4,488.2h1.3v104.1h-1.3zM1275.4,475.5h1.3v125.0h-1.3zM1275.0,487.3h1.3v116.0h-1.3zM1277.8,453.0h1.3v157.0h-1.3zM1277.8,454.5h1.3v137.9h-1.3zM1280.1,436.2h1.3v176.3h-1.3zM1279.2,428.4h1.3v184.0h-1.3zM1281.7,411.9h1.3v226.6h-1.3zM1282.4,415.8h1.3v192.6h-1.3zM1284.0,458.4h1.3v135.9h-1.3zM1284.2,457.7h1.3v121.5h-1.3zM1286.3,430.0h1.3v140.3h-1.3zM1286.2,399.7h1.3v173.1h-1.3zM1289.1,426.0h1.3v152.7h-1.3zM1289.5,429.8h1.3v145.2h-1.3zM1291.1,424.7h1.3v142.0h-1.3zM1291.1,429.8h1.3v133.3h-1.3zM1293.3,408.4h1.3v156.7h-1.3zM1293.8,415.3h1.3v155.8h-1.3zM1295.5,369.4h1.3v214.9h-1.3zM1296.4,369.9h1.3v217.0h-1.3zM1298.2,389.2h1.3v205.0h-1.3zM1298.1,385.9h1.3v219.6h-1.3zM1300.1,388.6h1.3v177.0h-1.3zM1300.3,385.9h1.3v161.2h-1.3zM1303.1,397.4h1.3v137.4h-1.3zM1303.0,384.2h1.3v163.7h-1.3zM1304.8,397.5h1.3v146.1h-1.3zM1305.5,395.0h1.3v146.3h-1.3zM1307.4,405.5h1.3v108.2h-1.3zM1307.5,381.6h1.3v140.2h-1.3zM1309.2,393.7h1.3v113.4h-1.3zM1309.5,406.4h1.3v113.6h-1.3zM1312.3,389.0h1.3v152.6h-1.3zM1312.3,380.9h1.3v125.2h-1.3zM1314.7,355.5h1.3v165.2h-1.3zM1314.4,364.8h1.3v135.7h-1.3zM1316.3,366.5h1.3v105.4h-1.3zM1316.7,361.2h1.3v108.7h-1.3zM1319.3,329.8h1.3v146.0h-1.3zM1319.4,342.2h1.3v154.2h-1.3zM1321.2,332.7h1.3v135.5h-1.3zM1321.2,326.3h1.3v150.5h-1.3zM1323.1,327.1h1.3v146.4h-1.3zM1323.2,332.3h1.3v124.8h-1.3zM1325.7,323.9h1.3v143.1h-1.3zM1326.1,313.7h1.3v137.4h-1.3zM1327.6,353.1h1.3v108.5h-1.3zM1328.3,345.6h1.3v195.2h-1.3zM1330.8,354.1h1.3v94.1h-1.3zM1330.5,343.9h1.3v101.4h-1.3zM1332.2,318.3h1.3v126.3h-1.3zM1332.7,312.3h1.3v129.1h-1.3zM1334.5,294.9h1.3v144.4h-1.3zM1335.3,282.7h1.3v152.8h-1.3zM1337.7,279.7h1.3v196.2h-1.3zM1337.3,282.3h1.3v149.3h-1.3zM1339.3,232.0h1.3v214.5h-1.3zM1340.1,232.7h1.3v216.4h-1.3zM1342.1,273.0h1.3v182.9h-1.3zM1341.6,221.6h1.3v221.8h-1.3zM1343.7,273.7h1.3v182.2h-1.3zM1343.9,295.4h1.3v149.5h-1.3zM1346.7,306.3h1.3v177.6h-1.3zM1346.1,299.2h1.3v174.8h-1.3zM1348.7,335.8h1.3v193.1h-1.3zM1349.1,333.1h1.3v178.7h-1.3zM1351.2,359.1h1.3v146.2h-1.3zM1351.1,355.9h1.3v150.0h-1.3zM1353.4,346.2h1.3v248.5h-1.3zM1353.2,355.9h1.3v200.1h-1.3zM1355.5,375.1h1.3v148.8h-1.3zM1355.8,384.3h1.3v147.8h-1.3zM1358.4,390.4h1.3v132.3h-1.3zM1357.8,371.8h1.3v165.0h-1.3zM1360.2,425.0h1.3v98.8h-1.3zM1360.8,414.4h1.3v110.7h-1.3zM1362.8,432.9h1.3v91.4h-1.3zM1362.2,435.7h1.3v90.9h-1.3zM1365.0,429.7h1.3v167.3h-1.3zM1364.6,423.5h1.3v123.4h-1.3zM1367.3,421.7h1.3v121.7h-1.3zM1366.7,431.1h1.3v95.9h-1.3zM1370.0,406.6h1.3v118.6h-1.3zM1369.6,402.4h1.3v130.7h-1.3zM1371.4,427.4h1.3v130.8h-1.3zM1371.7,426.9h1.3v128.5h-1.3zM1373.6,354.4h1.3v204.2h-1.3zM1374.3,412.7h1.3v149.1h-1.3zM1376.5,352.3h1.3v220.4h-1.3zM1376.9,414.8h1.3v154.7h-1.3zM1378.5,432.4h1.3v163.6h-1.3zM1379.0,441.9h1.3v136.7h-1.3zM1381.0,454.5h1.3v143.9h-1.3zM1380.8,430.0h1.3v178.9h-1.3zM1383.6,458.6h1.3v123.4h-1.3zM1383.6,467.3h1.3v126.5h-1.3zM1385.2,486.9h1.3v125.7h-1.3zM1385.8,482.6h1.3v94.2h-1.3zM1387.3,463.5h1.3v109.7h-1.3zM1388.3,481.1h1.3v118.0h-1.3zM1390.0,473.1h1.3v105.2h-1.3zM1390.1,465.5h1.3v109.9h-1.3zM1392.0,479.0h1.3v100.5h-1.3zM1392.6,470.2h1.3v85.1h-1.3zM1395.0,447.7h1.3v132.6h-1.3zM1394.7,471.1h1.3v92.1h-1.3zM1397.6,452.8h1.3v110.1h-1.3zM1396.7,461.8h1.3v104.2h-1.3zM1399.6,455.5h1.3v103.7h-1.3zM1399.9,444.1h1.3v117.1h-1.3zM1401.3,453.0h1.3v127.3h-1.3zM1401.6,460.7h1.3v140.9h-1.3zM1404.3,445.1h1.3v160.7h-1.3zM1404.0,465.5h1.3v122.6h-1.3zM1406.4,448.7h1.3v116.0h-1.3zM1406.7,442.9h1.3v134.5h-1.3zM1409.1,464.1h1.3v98.8h-1.3zM1409.0,425.9h1.3v130.8h-1.3zM1411.3,455.5h1.3v138.2h-1.3zM1410.6,457.1h1.3v110.1h-1.3zM1412.7,465.9h1.3v113.3h-1.3zM1412.9,475.1h1.3v90.1h-1.3zM1415.3,462.1h1.3v102.9h-1.3zM1415.0,447.0h1.3v130.9h-1.3zM1418.1,460.1h1.3v117.5h-1.3zM1418.0,458.7h1.3v130.0h-1.3zM1420.1,490.6h1.3v99.2h-1.3zM1420.5,495.7h1.3v94.1h-1.3zM1422.7,463.7h1.3v109.6h-1.3zM1422.2,474.1h1.3v98.7h-1.3zM1424.7,494.3h1.3v100.9h-1.3zM1424.6,480.0h1.3v102.0h-1.3zM1427.1,502.9h1.3v71.8h-1.3zM1427.4,498.8h1.3v73.4h-1.3zM1429.6,514.4h1.3v79.7h-1.3zM1429.7,515.3h1.3v76.3h-1.3zM1431.2,518.5h1.3v71.7h-1.3zM1431.8,516.7h1.3v64.2h-1.3zM1433.6,523.0h1.3v91.9h-1.3zM1434.4,525.0h1.3v73.8h-1.3zM1436.5,503.3h1.3v101.4h-1.3zM1436.6,507.8h1.3v94.1h-1.3zM1438.2,498.6h1.3v115.2h-1.3zM1438.6,493.1h1.3v119.4h-1.3zM1440.9,518.4h1.3v85.0h-1.3zM1440.6,525.4h1.3v74.3h-1.3zM1442.7,515.5h1.3v68.8h-1.3zM1443.1,514.4h1.3v85.3h-1.3zM1445.6,523.6h1.3v73.1h-1.3zM1445.5,517.3h1.3v73.2h-1.3zM1447.4,489.9h1.3v104.6h-1.3zM1447.5,522.6h1.3v75.6h-1.3zM1450.1,522.4h1.3v92.2h-1.3zM1450.3,522.4h1.3v72.0h-1.3zM1452.4,526.9h1.3v63.6h-1.3zM1452.3,521.3h1.3v68.0h-1.3zM1454.2,516.0h1.3v78.4h-1.3zM1454.9,524.1h1.3v69.9h-1.3zM1456.9,529.7h1.3v70.7h-1.3zM1457.1,523.5h1.3v69.3h-1.3zM1458.8,523.6h1.3v75.2h-1.3zM1459.7,533.1h1.3v92.7h-1.3zM1461.2,513.8h1.3v105.8h-1.3zM1461.8,534.4h1.3v87.1h-1.3zM1463.8,536.0h1.3v91.0h-1.3zM1463.7,516.2h1.3v108.4h-1.3zM1466.0,534.6h1.3v89.7h-1.3zM1466.1,525.7h1.3v114.3h-1.3zM1467.8,522.6h1.3v84.3h-1.3zM1468.6,536.9h1.3v73.0h-1.3zM1470.2,527.4h1.3v82.6h-1.3zM1470.3,500.3h1.3v124.0h-1.3zM1472.5,514.9h1.3v82.1h-1.3zM1472.5,486.0h1.3v114.5h-1.3zM1475.5,521.8h1.3v75.7h-1.3zM1474.8,516.3h1.3v77.8h-1.3zM1477.4,500.0h1.3v99.3h-1.3zM1477.3,508.9h1.3v87.2h-1.3zM1479.5,521.1h1.3v82.9h-1.3zM1480.0,520.9h1.3v67.8h-1.3zM1482.5,525.6h1.3v62.3h-1.3zM1481.9,524.0h1.3v59.4h-1.3zM1484.8,526.6h1.3v61.9h-1.3zM1483.9,528.5h1.3v59.6h-1.3zM1487.1,525.7h1.3v59.5h-1.3zM1486.7,524.6h1.3v76.2h-1.3zM1488.7,517.5h1.3v79.0h-1.3zM1489.5,520.9h1.3v74.7h-1.3zM1491.4,513.2h1.3v66.8h-1.3zM1491.7,515.7h1.3v64.6h-1.3zM1494.0,520.0h1.3v87.2h-1.3zM1494.0,519.5h1.3v69.6h-1.3zM1496.0,511.2h1.3v67.4h-1.3zM1495.9,517.5h1.3v78.3h-1.3zM1498.5,517.0h1.3v70.6h-1.3zM1498.5,511.4h1.3v67.3h-1.3zM1500.7,470.0h1.3v123.9h-1.3zM1500.9,503.7h1.3v78.8h-1.3zM1502.8,493.2h1.3v87.2h-1.3zM1502.8,502.8h1.3v86.5h-1.3zM1505.3,485.0h1.3v86.9h-1.3zM1504.9,494.9h1.3v83.0h-1.3zM1508.0,492.1h1.3v96.0h-1.3zM1507.2,480.4h1.3v142.3h-1.3zM1510.0,415.0h1.3v161.5h-1.3zM1509.8,477.1h1.3v107.0h-1.3zM1512.0,470.0h1.3v86.5h-1.3zM1511.7,477.2h1.3v85.8h-1.3zM1513.9,481.1h1.3v86.4h-1.3zM1514.8,479.8h1.3v81.7h-1.3zM1516.2,463.8h1.3v96.4h-1.3zM1516.8,470.8h1.3v89.8h-1.3zM1519.0,467.4h1.3v103.3h-1.3zM1518.9,474.5h1.3v89.8h-1.3zM1520.8,467.0h1.3v102.5h-1.3zM1520.7,454.9h1.3v112.0h-1.3zM1524.0,477.8h1.3v130.2h-1.3zM1523.1,462.2h1.3v123.3h-1.3zM1526.1,490.3h1.3v85.9h-1.3zM1525.5,489.9h1.3v90.7h-1.3zM1528.6,481.8h1.3v90.4h-1.3zM1528.5,468.7h1.3v110.4h-1.3zM1530.8,469.8h1.3v129.1h-1.3zM1530.8,444.6h1.3v135.8h-1.3zM1533.0,468.0h1.3v150.0h-1.3zM1532.9,469.0h1.3v118.8h-1.3zM1535.0,456.8h1.3v117.1h-1.3zM1535.5,444.6h1.3v117.3h-1.3zM1537.5,466.9h1.3v118.7h-1.3zM1537.7,476.5h1.3v90.7h-1.3zM1539.5,461.8h1.3v127.9h-1.3zM1539.9,456.9h1.3v96.6h-1.3zM1541.5,455.7h1.3v112.6h-1.3zM1542.0,453.5h1.3v121.0h-1.3zM1544.8,460.3h1.3v108.3h-1.3zM1543.8,444.3h1.3v128.9h-1.3zM1546.1,452.0h1.3v188.0h-1.3zM1546.3,449.3h1.3v113.2h-1.3zM1549.2,445.4h1.3v137.1h-1.3zM1549.2,426.7h1.3v150.6h-1.3zM1551.3,476.7h1.3v108.6h-1.3zM1551.1,471.4h1.3v105.1h-1.3zM1554.0,462.8h1.3v113.8h-1.3zM1553.4,458.5h1.3v113.2h-1.3zM1555.9,477.3h1.3v87.8h-1.3zM1555.5,476.4h1.3v113.3h-1.3zM1558.6,459.6h1.3v113.0h-1.3zM1557.6,459.2h1.3v122.3h-1.3zM1559.9,489.0h1.3v69.3h-1.3zM1560.8,479.3h1.3v85.2h-1.3zM1562.4,489.8h1.3v101.3h-1.3zM1563.0,479.2h1.3v116.5h-1.3zM1564.5,499.4h1.3v78.1h-1.3zM1565.2,502.4h1.3v91.7h-1.3zM1567.2,494.3h1.3v100.4h-1.3zM1567.2,497.0h1.3v101.1h-1.3zM1569.6,466.3h1.3v132.6h-1.3zM1569.0,498.5h1.3v98.0h-1.3zM1572.1,488.3h1.3v97.5h-1.3zM1572.0,470.3h1.3v129.9h-1.3zM1574.0,492.0h1.3v94.7h-1.3zM1573.8,495.8h1.3v92.3h-1.3zM1576.3,489.3h1.3v95.9h-1.3zM1576.2,497.1h1.3v84.0h-1.3zM1578.6,459.8h1.3v131.9h-1.3zM1578.2,479.4h1.3v107.3h-1.3zM1580.5,486.2h1.3v104.1h-1.3zM1581.5,473.8h1.3v110.2h-1.3zM1583.1,500.9h1.3v90.7h-1.3zM1583.0,490.1h1.3v110.1h-1.3zM1585.2,511.6h1.3v79.8h-1.3zM1585.3,509.3h1.3v70.3h-1.3zM1588.3,511.8h1.3v116.2h-1.3zM1588.3,512.1h1.3v95.0h-1.3zM1590.5,495.8h1.3v92.0h-1.3zM1590.5,511.7h1.3v75.4h-1.3zM1592.5,507.2h1.3v88.5h-1.3zM1592.2,503.3h1.3v89.5h-1.3zM1594.3,496.2h1.3v89.0h-1.3zM1594.6,494.0h1.3v97.4h-1.3zM1596.8,492.5h1.3v99.1h-1.3zM1597.1,488.1h1.3v105.6h-1.3zM1599.7,461.7h1.3v105.2h-1.3zM1599.2,459.2h1.3v106.5h-1.3zM1602.1,473.7h1.3v99.3h-1.3zM1601.3,489.0h1.3v86.0h-1.3zM1604.3,474.3h1.3v109.1h-1.3zM1604.1,495.0h1.3v103.0h-1.3zM1606.9,488.2h1.3v106.0h-1.3zM1606.4,480.9h1.3v121.6h-1.3zM1608.9,488.7h1.3v119.5h-1.3zM1608.8,484.1h1.3v125.6h-1.3zM1611.5,502.6h1.3v98.2h-1.3zM1610.4,487.8h1.3v105.0h-1.3zM1613.6,499.6h1.3v96.7h-1.3zM1613.7,505.9h1.3v76.4h-1.3zM1615.1,500.0h1.3v120.0h-1.3zM1616.0,509.1h1.3v75.2h-1.3zM1617.9,525.2h1.3v54.4h-1.3zM1617.5,523.9h1.3v55.4h-1.3z" fill="#777"/><path d="M1189.5,485.6h2.3v96.2h-2.3zM1191.8,466.1h2.3v105.6h-2.3zM1194.1,493.9h2.3v91.6h-2.3zM1196.4,503.2h2.3v87.3h-2.3zM1198.7,496.0h2.3v90.7h-2.3zM1201.0,508.6h2.3v81.6h-2.3zM1203.3,505.4h2.3v72.2h-2.3zM1205.6,491.2h2.3v87.8h-2.3zM1207.9,500.1h2.3v67.0h-2.3zM1210.2,498.2h2.3v78.8h-2.3zM1212.5,502.7h2.3v69.0h-2.3zM1214.8,492.2h2.3v82.3h-2.3zM1217.1,472.5h2.3v86.4h-2.3zM1219.4,456.3h2.3v103.1h-2.3zM1221.7,433.7h2.3v122.6h-2.3zM1224.0,406.9h2.3v160.2h-2.3zM1226.3,400.6h2.3v149.8h-2.3zM1228.6,405.6h2.3v143.5h-2.3zM1230.9,432.1h2.3v120.4h-2.3zM1233.2,445.5h2.3v139.3h-2.3zM1235.5,458.7h2.3v131.7h-2.3zM1237.8,469.1h2.3v115.1h-2.3zM1240.1,447.0h2.3v143.9h-2.3zM1242.4,419.8h2.3v152.0h-2.3zM1244.7,426.8h2.3v171.9h-2.3zM1247.0,453.8h2.3v150.1h-2.3zM1249.3,447.6h2.3v149.3h-2.3zM1251.6,458.7h2.3v134.4h-2.3zM1253.9,491.7h2.3v111.3h-2.3zM1256.2,474.5h2.3v123.3h-2.3zM1258.5,481.0h2.3v115.6h-2.3zM1260.8,494.6h2.3v103.7h-2.3zM1263.1,493.0h2.3v99.6h-2.3zM1265.4,503.0h2.3v82.6h-2.3zM1267.7,474.1h2.3v109.3h-2.3zM1270.0,493.1h2.3v93.1h-2.3zM1272.3,490.1h2.3v98.6h-2.3zM1274.6,489.9h2.3v100.9h-2.3zM1276.9,456.1h2.3v131.3h-2.3zM1279.2,444.8h2.3v156.6h-2.3zM1281.5,422.2h2.3v161.3h-2.3zM1283.8,458.7h2.3v118.5h-2.3zM1286.1,436.6h2.3v131.3h-2.3zM1288.4,446.6h2.3v122.6h-2.3zM1290.7,436.2h2.3v126.4h-2.3zM1293.0,417.9h2.3v143.0h-2.3zM1295.3,382.5h2.3v191.3h-2.3zM1297.6,415.2h2.3v149.0h-2.3zM1299.9,394.2h2.3v148.0h-2.3zM1302.2,403.7h2.3v126.5h-2.3zM1304.5,399.4h2.3v130.1h-2.3zM1306.8,406.2h2.3v96.1h-2.3zM1309.1,406.9h2.3v99.7h-2.3zM1311.4,391.1h2.3v106.0h-2.3zM1313.7,366.3h2.3v119.4h-2.3zM1316.0,368.5h2.3v98.4h-2.3zM1318.3,345.3h2.3v100.7h-2.3zM1320.6,338.2h2.3v125.4h-2.3zM1322.9,336.5h2.3v113.3h-2.3zM1325.2,339.5h2.3v109.7h-2.3zM1327.5,353.1h2.3v103.1h-2.3zM1329.8,358.3h2.3v82.6h-2.3zM1332.1,337.7h2.3v96.7h-2.3zM1334.4,300.2h2.3v120.0h-2.3zM1336.7,308.8h2.3v108.0h-2.3zM1339.0,238.1h2.3v207.0h-2.3zM1341.3,276.0h2.3v155.9h-2.3zM1343.6,306.1h2.3v111.5h-2.3zM1345.9,319.0h2.3v135.2h-2.3zM1348.2,350.5h2.3v149.8h-2.3zM1350.5,366.1h2.3v130.7h-2.3zM1352.8,376.7h2.3v156.6h-2.3zM1355.1,403.4h2.3v118.0h-2.3zM1357.4,403.2h2.3v118.9h-2.3zM1359.7,432.3h2.3v90.3h-2.3zM1362.0,440.6h2.3v80.3h-2.3zM1364.3,434.9h2.3v100.7h-2.3zM1366.6,433.2h2.3v93.1h-2.3zM1368.9,426.2h2.3v98.2h-2.3zM1371.2,430.6h2.3v108.6h-2.3zM1373.5,416.0h2.3v136.6h-2.3zM1375.8,422.8h2.3v136.6h-2.3zM1378.1,447.3h2.3v124.2h-2.3zM1380.4,459.2h2.3v129.1h-2.3zM1382.7,471.5h2.3v109.4h-2.3zM1385.0,492.4h2.3v84.1h-2.3zM1387.3,481.8h2.3v90.9h-2.3zM1389.6,474.1h2.3v90.5h-2.3zM1391.9,481.6h2.3v71.9h-2.3zM1394.2,472.5h2.3v89.8h-2.3zM1396.5,465.0h2.3v91.8h-2.3zM1398.8,458.4h2.3v99.0h-2.3zM1401.1,465.2h2.3v86.0h-2.3zM1403.4,471.7h2.3v99.1h-2.3zM1405.7,460.3h2.3v103.4h-2.3zM1408.0,465.0h2.3v89.5h-2.3zM1410.3,463.7h2.3v102.0h-2.3zM1412.6,478.4h2.3v78.4h-2.3zM1414.9,466.0h2.3v90.8h-2.3zM1417.2,462.5h2.3v105.6h-2.3zM1419.5,497.8h2.3v83.8h-2.3zM1421.8,494.8h2.3v67.8h-2.3zM1424.1,498.3h2.3v82.7h-2.3zM1426.4,504.5h2.3v67.5h-2.3zM1428.7,516.2h2.3v74.0h-2.3zM1431.0,520.1h2.3v59.1h-2.3zM1433.3,526.5h2.3v63.6h-2.3zM1435.6,512.3h2.3v83.9h-2.3zM1437.9,522.1h2.3v82.5h-2.3zM1440.2,531.5h2.3v65.7h-2.3zM1442.5,525.7h2.3v55.9h-2.3zM1444.8,532.5h2.3v58.0h-2.3zM1447.1,528.5h2.3v64.4h-2.3zM1449.4,524.7h2.3v64.3h-2.3zM1451.7,527.2h2.3v57.6h-2.3zM1454.0,525.2h2.3v66.1h-2.3zM1456.3,530.3h2.3v55.2h-2.3zM1458.6,534.0h2.3v62.4h-2.3zM1460.9,538.9h2.3v72.3h-2.3zM1463.2,538.9h2.3v73.5h-2.3zM1465.5,540.1h2.3v68.1h-2.3zM1467.8,542.6h2.3v58.6h-2.3zM1470.1,530.7h2.3v78.2h-2.3zM1472.4,523.3h2.3v72.3h-2.3zM1474.7,529.9h2.3v63.1h-2.3zM1477.0,514.3h2.3v80.1h-2.3zM1479.3,526.2h2.3v59.4h-2.3zM1481.6,528.4h2.3v53.7h-2.3zM1483.9,531.1h2.3v49.3h-2.3zM1486.2,526.9h2.3v54.1h-2.3zM1488.5,524.3h2.3v68.6h-2.3zM1490.8,521.5h2.3v57.8h-2.3zM1493.1,526.3h2.3v58.9h-2.3zM1495.4,519.7h2.3v55.6h-2.3zM1497.7,517.2h2.3v56.3h-2.3zM1500.0,508.6h2.3v65.2h-2.3zM1502.3,503.5h2.3v74.3h-2.3zM1504.6,495.2h2.3v73.5h-2.3zM1506.9,494.5h2.3v88.9h-2.3zM1509.2,487.1h2.3v86.5h-2.3zM1511.5,490.0h2.3v65.9h-2.3zM1513.8,483.3h2.3v72.5h-2.3zM1516.1,473.5h2.3v80.6h-2.3zM1518.4,481.8h2.3v80.3h-2.3zM1520.7,476.7h2.3v86.4h-2.3zM1523.0,482.5h2.3v87.4h-2.3zM1525.3,492.5h2.3v73.8h-2.3zM1527.6,484.7h2.3v86.4h-2.3zM1529.9,484.1h2.3v95.9h-2.3zM1532.2,473.1h2.3v110.2h-2.3zM1534.5,467.4h2.3v90.7h-2.3zM1536.8,481.0h2.3v85.5h-2.3zM1539.1,464.5h2.3v87.7h-2.3zM1541.4,461.5h2.3v87.4h-2.3zM1543.7,463.7h2.3v101.5h-2.3zM1546.0,458.3h2.3v100.6h-2.3zM1548.3,462.7h2.3v112.7h-2.3zM1550.6,482.2h2.3v91.0h-2.3zM1552.9,475.6h2.3v83.3h-2.3zM1555.2,484.6h2.3v79.4h-2.3zM1557.5,475.2h2.3v86.8h-2.3zM1559.8,489.8h2.3v67.4h-2.3zM1562.1,491.6h2.3v89.0h-2.3zM1564.4,505.1h2.3v71.9h-2.3zM1566.7,503.6h2.3v80.4h-2.3zM1569.0,500.0h2.3v79.0h-2.3zM1571.3,496.2h2.3v81.8h-2.3zM1573.6,497.0h2.3v89.6h-2.3zM1575.9,497.3h2.3v76.9h-2.3zM1578.2,491.2h2.3v94.2h-2.3zM1580.5,499.1h2.3v79.5h-2.3zM1582.8,502.8h2.3v88.1h-2.3zM1585.1,515.1h2.3v62.1h-2.3zM1587.4,512.7h2.3v91.1h-2.3zM1589.7,520.6h2.3v64.6h-2.3zM1592.0,509.5h2.3v81.8h-2.3zM1594.3,497.9h2.3v81.2h-2.3zM1596.6,496.1h2.3v82.2h-2.3zM1598.9,484.8h2.3v78.8h-2.3zM1601.2,493.8h2.3v77.8h-2.3zM1603.5,502.7h2.3v80.0h-2.3zM1605.8,499.9h2.3v93.6h-2.3zM1608.1,495.9h2.3v94.6h-2.3zM1610.4,502.8h2.3v90.0h-2.3zM1612.7,516.6h2.3v64.9h-2.3zM1615.0,510.6h2.3v72.8h-2.3zM1617.3,527.2h2.3v49.1h-2.3z" fill="#555"/><path d="M1189.5,488.5h2.3v84.2h-2.3zM1191.8,484.9h2.3v84.5h-2.3zM1194.1,499.7h2.3v84.7h-2.3zM1196.4,503.8h2.3v80.3h-2.3zM1198.7,507.3h2.3v73.3h-2.3zM1201.0,511.5h2.3v70.0h-2.3zM1203.3,510.9h2.3v62.6h-2.3zM1205.6,504.1h2.3v69.4h-2.3zM1207.9,509.4h2.3v56.6h-2.3zM1210.2,508.9h2.3v66.6h-2.3zM1212.5,506.6h2.3v60.3h-2.3zM1214.8,504.5h2.3v59.8h-2.3zM1217.1,486.7h2.3v70.7h-2.3zM1219.4,457.3h2.3v101.9h-2.3zM1221.7,445.9h2.3v95.8h-2.3zM1224.0,427.5h2.3v133.1h-2.3zM1226.3,424.4h2.3v111.3h-2.3zM1228.6,423.4h2.3v124.7h-2.3zM1230.9,435.1h2.3v117.3h-2.3zM1233.2,448.4h2.3v127.6h-2.3zM1235.5,465.2h2.3v101.1h-2.3zM1237.8,471.1h2.3v99.6h-2.3zM1240.1,469.8h2.3v110.6h-2.3zM1242.4,457.1h2.3v112.0h-2.3zM1244.7,443.5h2.3v134.2h-2.3zM1247.0,454.5h2.3v132.2h-2.3zM1249.3,459.4h2.3v127.0h-2.3zM1251.6,472.2h2.3v103.2h-2.3zM1253.9,496.6h2.3v95.5h-2.3zM1256.2,487.4h2.3v103.0h-2.3zM1258.5,482.9h2.3v111.8h-2.3zM1260.8,499.0h2.3v91.8h-2.3zM1263.1,496.9h2.3v92.9h-2.3zM1265.4,506.1h2.3v75.9h-2.3zM1267.7,500.9h2.3v81.3h-2.3zM1270.0,507.1h2.3v69.9h-2.3zM1272.3,498.7h2.3v81.9h-2.3zM1274.6,492.4h2.3v80.9h-2.3zM1276.9,456.4h2.3v121.0h-2.3zM1279.2,452.4h2.3v120.4h-2.3zM1281.5,454.1h2.3v112.5h-2.3zM1283.8,465.6h2.3v103.8h-2.3zM1286.1,464.6h2.3v102.4h-2.3zM1288.4,455.3h2.3v106.0h-2.3zM1290.7,446.8h2.3v103.0h-2.3zM1293.0,439.5h2.3v118.9h-2.3zM1295.3,423.2h2.3v134.5h-2.3zM1297.6,416.5h2.3v132.7h-2.3zM1299.9,412.3h2.3v122.6h-2.3zM1302.2,409.8h2.3v110.7h-2.3zM1304.5,423.7h2.3v103.1h-2.3zM1306.8,416.0h2.3v78.7h-2.3zM1309.1,418.5h2.3v83.9h-2.3zM1311.4,413.4h2.3v75.6h-2.3zM1313.7,377.1h2.3v98.5h-2.3zM1316.0,372.3h2.3v91.9h-2.3zM1318.3,350.4h2.3v94.9h-2.3zM1320.6,350.3h2.3v105.8h-2.3zM1322.9,346.4h2.3v99.4h-2.3zM1325.2,356.7h2.3v84.7h-2.3zM1327.5,355.4h2.3v88.3h-2.3zM1329.8,360.7h2.3v77.9h-2.3zM1332.1,341.0h2.3v85.2h-2.3zM1334.4,320.8h2.3v95.7h-2.3zM1336.7,310.8h2.3v103.4h-2.3zM1339.0,265.7h2.3v142.0h-2.3zM1341.3,292.7h2.3v123.1h-2.3zM1343.6,311.4h2.3v102.8h-2.3zM1345.9,327.6h2.3v110.9h-2.3zM1348.2,355.2h2.3v111.2h-2.3zM1350.5,368.8h2.3v116.5h-2.3zM1352.8,398.9h2.3v127.7h-2.3zM1355.1,410.7h2.3v110.3h-2.3zM1357.4,421.1h2.3v97.7h-2.3zM1359.7,434.9h2.3v79.5h-2.3zM1362.0,442.5h2.3v75.6h-2.3zM1364.3,440.1h2.3v76.0h-2.3zM1366.6,450.6h2.3v66.9h-2.3zM1368.9,434.0h2.3v86.9h-2.3zM1371.2,434.3h2.3v96.0h-2.3zM1373.5,436.5h2.3v105.9h-2.3zM1375.8,453.3h2.3v96.9h-2.3zM1378.1,448.6h2.3v109.8h-2.3zM1380.4,468.6h2.3v102.1h-2.3zM1382.7,476.5h2.3v88.6h-2.3zM1385.0,494.1h2.3v67.5h-2.3zM1387.3,492.5h2.3v65.7h-2.3zM1389.6,480.5h2.3v82.7h-2.3zM1391.9,482.4h2.3v69.6h-2.3zM1394.2,476.2h2.3v83.2h-2.3zM1396.5,474.1h2.3v80.0h-2.3zM1398.8,478.7h2.3v76.6h-2.3zM1401.1,468.1h2.3v81.6h-2.3zM1403.4,472.7h2.3v77.3h-2.3zM1405.7,464.9h2.3v91.3h-2.3zM1408.0,468.3h2.3v83.6h-2.3zM1410.3,471.4h2.3v87.6h-2.3zM1412.6,484.4h2.3v64.9h-2.3zM1414.9,480.5h2.3v72.5h-2.3zM1417.2,473.1h2.3v85.4h-2.3zM1419.5,498.7h2.3v63.2h-2.3zM1421.8,499.7h2.3v61.3h-2.3zM1424.1,505.2h2.3v69.9h-2.3zM1426.4,510.1h2.3v59.3h-2.3zM1428.7,519.6h2.3v60.5h-2.3zM1431.0,523.8h2.3v54.9h-2.3zM1433.3,531.9h2.3v50.6h-2.3zM1435.6,527.7h2.3v67.6h-2.3zM1437.9,531.1h2.3v67.0h-2.3zM1440.2,531.8h2.3v58.8h-2.3zM1442.5,530.6h2.3v50.2h-2.3zM1444.8,534.0h2.3v49.1h-2.3zM1447.1,535.4h2.3v49.3h-2.3zM1449.4,529.9h2.3v54.3h-2.3zM1451.7,527.5h2.3v46.8h-2.3zM1454.0,527.3h2.3v52.0h-2.3zM1456.3,536.9h2.3v45.4h-2.3zM1458.6,540.6h2.3v52.0h-2.3zM1460.9,543.5h2.3v58.7h-2.3zM1463.2,550.1h2.3v58.7h-2.3zM1465.5,545.3h2.3v57.1h-2.3zM1467.8,543.1h2.3v53.6h-2.3zM1470.1,535.8h2.3v59.0h-2.3zM1472.4,529.2h2.3v62.2h-2.3zM1474.7,532.9h2.3v52.6h-2.3zM1477.0,524.2h2.3v56.8h-2.3zM1479.3,527.3h2.3v53.9h-2.3zM1481.6,533.5h2.3v44.1h-2.3zM1483.9,531.8h2.3v45.4h-2.3zM1486.2,534.5h2.3v41.0h-2.3zM1488.5,530.3h2.3v47.8h-2.3zM1490.8,530.4h2.3v41.7h-2.3zM1493.1,528.6h2.3v48.0h-2.3zM1495.4,523.3h2.3v51.8h-2.3zM1497.7,522.5h2.3v49.5h-2.3zM1500.0,510.0h2.3v61.6h-2.3zM1502.3,506.9h2.3v63.2h-2.3zM1504.6,495.7h2.3v72.9h-2.3zM1506.9,494.7h2.3v71.3h-2.3zM1509.2,490.6h2.3v65.1h-2.3zM1511.5,495.1h2.3v57.9h-2.3zM1513.8,484.3h2.3v64.7h-2.3zM1516.1,488.2h2.3v65.5h-2.3zM1518.4,485.1h2.3v67.1h-2.3zM1520.7,478.0h2.3v77.7h-2.3zM1523.0,486.1h2.3v70.9h-2.3zM1525.3,498.9h2.3v62.3h-2.3zM1527.6,489.2h2.3v75.1h-2.3zM1529.9,491.1h2.3v82.3h-2.3zM1532.2,486.1h2.3v76.6h-2.3zM1534.5,485.1h2.3v67.7h-2.3zM1536.8,485.0h2.3v71.6h-2.3zM1539.1,466.7h2.3v82.0h-2.3zM1541.4,471.8h2.3v76.7h-2.3zM1543.7,474.7h2.3v79.8h-2.3zM1546.0,468.6h2.3v83.7h-2.3zM1548.3,470.9h2.3v96.2h-2.3zM1550.6,482.3h2.3v72.0h-2.3zM1552.9,477.8h2.3v80.9h-2.3zM1555.2,487.6h2.3v69.3h-2.3zM1557.5,480.5h2.3v68.8h-2.3zM1559.8,498.7h2.3v55.9h-2.3zM1562.1,507.9h2.3v62.8h-2.3zM1564.4,511.8h2.3v56.0h-2.3zM1566.7,511.4h2.3v63.6h-2.3zM1569.0,500.5h2.3v76.5h-2.3zM1571.3,505.3h2.3v65.7h-2.3zM1573.6,501.2h2.3v72.4h-2.3zM1575.9,503.3h2.3v69.5h-2.3zM1578.2,495.1h2.3v81.0h-2.3zM1580.5,501.9h2.3v71.2h-2.3zM1582.8,504.9h2.3v79.9h-2.3zM1585.1,515.4h2.3v61.7h-2.3zM1587.4,515.6h2.3v69.5h-2.3zM1589.7,521.1h2.3v60.8h-2.3zM1592.0,513.2h2.3v63.1h-2.3zM1594.3,503.7h2.3v68.9h-2.3zM1596.6,503.2h2.3v66.7h-2.3zM1598.9,493.6h2.3v69.1h-2.3zM1601.2,499.5h2.3v64.2h-2.3zM1603.5,506.8h2.3v68.6h-2.3zM1605.8,500.1h2.3v79.1h-2.3zM1608.1,502.1h2.3v75.5h-2.3zM1610.4,507.4h2.3v70.4h-2.3zM1612.7,518.1h2.3v63.0h-2.3zM1615.0,518.1h2.3v64.7h-2.3zM1617.3,528.8h2.3v41.5h-2.3z" fill="#000"/><path d="M1333.4,196h2.2v90h-2.2zM1336.9,220h2v70h-2zM1346.2,247h2v60h-2z" fill="#777"/>
<path d="M438.3,40 L434.6,55 L432.6,72 L432.3,95 L434.8,104 L437.5,88 L440.5,92 L443.8,108 L446.8,92 L446.6,72 L443.2,58 L440.2,40 Z" fill="#ff00ff"/>
</g>
<g fill="none" stroke="#dc0000" stroke-width="11.5" stroke-dasharray="34 12.9">
<path d="M1183.5,174.7 H1626 V655 H1183.5 Z"/>
<path d="M716,1437 L1183.5,655"/>
<path d="M1031,1437 L1616,655"/>
<path d="M716,1437 H1031 V1551 H716 Z"/>
</g>
<rect x="151.5" y="37.5" width="2056.0" height="1533.5" fill="none" stroke="#000" stroke-width="6.5"/>
<path d="M243.9,1571.0V1587.0M359.4,1571.0V1603.0M474.9,1571.0V1587.0M590.4,1571.0V1603.0M705.9,1571.0V1587.0M821.4,1571.0V1603.0M936.9,1571.0V1587.0M1052.4,1571.0V1603.0M1167.9,1571.0V1587.0M1283.4,1571.0V1603.0M1398.9,1571.0V1587.0M1514.4,1571.0V1603.0M1629.9,1571.0V1587.0M1745.4,1571.0V1603.0M1860.9,1571.0V1587.0M1976.4,1571.0V1603.0M2091.9,1571.0V1587.0M2207.4,1571.0V1603.0" stroke="#000" stroke-width="6" fill="none"/>
<g font-family="Liberation Sans, Arial, sans-serif" font-weight="bold" fill="#000">
<text x="359.4" y="1672" font-size="66" text-anchor="middle">10</text>
<text x="590.4" y="1672" font-size="66" text-anchor="middle">15</text>
<text x="821.4" y="1672" font-size="66" text-anchor="middle">20</text>
<text x="1052.4" y="1672" font-size="66" text-anchor="middle">25</text>
<text x="1283.4" y="1672" font-size="66" text-anchor="middle">30</text>
<text x="1514.4" y="1672" font-size="66" text-anchor="middle">35</text>
<text x="1745.4" y="1672" font-size="66" text-anchor="middle">40</text>
<text x="1976.4" y="1672" font-size="66" text-anchor="middle">45</text>
<text x="2207.4" y="1672" font-size="66" text-anchor="middle">50</text>
<text transform="translate(1218.5,1763.5) scale(0.987,1)" font-size="80" text-anchor="middle">2θ(degree)</text>
<text transform="translate(90.3,771.7) rotate(-90) scale(0.965,1)" font-size="82" text-anchor="middle">Intensity</text>
<text transform="translate(1986.5,833.2) scale(0.94,1)" x="-2.8" y="0" font-size="68.3">GO</text>
<text transform="translate(1986.5,989.8) scale(0.94,1)" x="-2.8" y="0" font-size="68.3">GO-0</text>
<text transform="translate(1983.0,1168.5) scale(0.94,1)" x="-2.8" y="0" font-size="68.3">GO-0.5</text>
<text transform="translate(1983.0,1350.3) scale(0.94,1)" x="-2.8" y="0" font-size="68.3">GO-1.0</text>
<text transform="translate(1983.0,1487.2) scale(0.94,1)" x="-2.8" y="0" font-size="68.3">GO-1.5</text>
</g>
</g>
</svg>
</body></html>
